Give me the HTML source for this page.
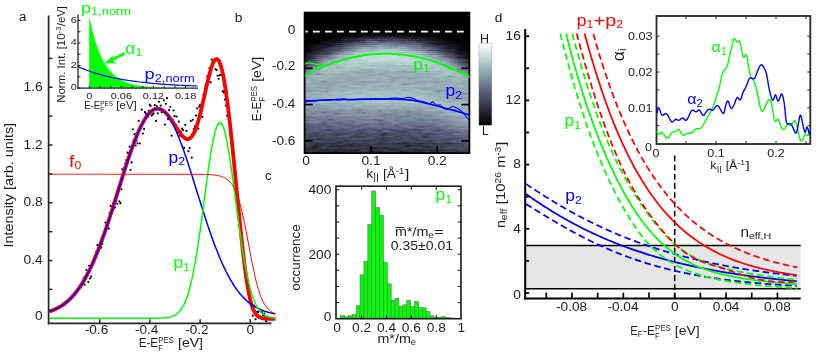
<!DOCTYPE html>
<html><head><meta charset="utf-8"><title>figure</title>
<style>html,body{margin:0;padding:0;background:#fff;overflow:hidden}svg{display:block}text{font-family:"Liberation Sans",sans-serif}</style></head>
<body>
<svg width="830" height="352" viewBox="0 0 830 352">
<rect width="830" height="352" fill="#fff"/>
<defs><linearGradient id="b0" x1="0" x2="1" y1="0" y2="0"><stop offset="0" stop-color="#000000"/><stop offset="0.06" stop-color="#000000"/><stop offset="0.12" stop-color="#000000"/><stop offset="0.19" stop-color="#000000"/><stop offset="0.25" stop-color="#000000"/><stop offset="0.31" stop-color="#000000"/><stop offset="0.38" stop-color="#000000"/><stop offset="0.44" stop-color="#000000"/><stop offset="0.5" stop-color="#000000"/><stop offset="0.56" stop-color="#000000"/><stop offset="0.62" stop-color="#000000"/><stop offset="0.69" stop-color="#000000"/><stop offset="0.75" stop-color="#000000"/><stop offset="0.81" stop-color="#000000"/><stop offset="0.88" stop-color="#000000"/><stop offset="0.94" stop-color="#000000"/><stop offset="1" stop-color="#000000"/></linearGradient>
<linearGradient id="b1" x1="0" x2="1" y1="0" y2="0"><stop offset="0" stop-color="#000000"/><stop offset="0.06" stop-color="#000000"/><stop offset="0.12" stop-color="#000000"/><stop offset="0.19" stop-color="#000000"/><stop offset="0.25" stop-color="#000000"/><stop offset="0.31" stop-color="#000000"/><stop offset="0.38" stop-color="#000000"/><stop offset="0.44" stop-color="#000000"/><stop offset="0.5" stop-color="#000000"/><stop offset="0.56" stop-color="#000000"/><stop offset="0.62" stop-color="#000000"/><stop offset="0.69" stop-color="#000000"/><stop offset="0.75" stop-color="#000000"/><stop offset="0.81" stop-color="#000000"/><stop offset="0.88" stop-color="#000000"/><stop offset="0.94" stop-color="#000000"/><stop offset="1" stop-color="#000000"/></linearGradient>
<linearGradient id="b2" x1="0" x2="1" y1="0" y2="0"><stop offset="0" stop-color="#000000"/><stop offset="0.06" stop-color="#000000"/><stop offset="0.12" stop-color="#000000"/><stop offset="0.19" stop-color="#000000"/><stop offset="0.25" stop-color="#000000"/><stop offset="0.31" stop-color="#000000"/><stop offset="0.38" stop-color="#000000"/><stop offset="0.44" stop-color="#000000"/><stop offset="0.5" stop-color="#000000"/><stop offset="0.56" stop-color="#000000"/><stop offset="0.62" stop-color="#000000"/><stop offset="0.69" stop-color="#000000"/><stop offset="0.75" stop-color="#000000"/><stop offset="0.81" stop-color="#000000"/><stop offset="0.88" stop-color="#000000"/><stop offset="0.94" stop-color="#000000"/><stop offset="1" stop-color="#000000"/></linearGradient>
<linearGradient id="b3" x1="0" x2="1" y1="0" y2="0"><stop offset="0" stop-color="#000000"/><stop offset="0.06" stop-color="#000000"/><stop offset="0.12" stop-color="#000000"/><stop offset="0.19" stop-color="#000000"/><stop offset="0.25" stop-color="#000000"/><stop offset="0.31" stop-color="#000000"/><stop offset="0.38" stop-color="#000000"/><stop offset="0.44" stop-color="#000000"/><stop offset="0.5" stop-color="#000000"/><stop offset="0.56" stop-color="#000000"/><stop offset="0.62" stop-color="#000000"/><stop offset="0.69" stop-color="#000000"/><stop offset="0.75" stop-color="#000000"/><stop offset="0.81" stop-color="#000000"/><stop offset="0.88" stop-color="#000000"/><stop offset="0.94" stop-color="#000000"/><stop offset="1" stop-color="#000000"/></linearGradient>
<linearGradient id="b4" x1="0" x2="1" y1="0" y2="0"><stop offset="0" stop-color="#000000"/><stop offset="0.06" stop-color="#000000"/><stop offset="0.12" stop-color="#000000"/><stop offset="0.19" stop-color="#000000"/><stop offset="0.25" stop-color="#000000"/><stop offset="0.31" stop-color="#000000"/><stop offset="0.38" stop-color="#000000"/><stop offset="0.44" stop-color="#000000"/><stop offset="0.5" stop-color="#000000"/><stop offset="0.56" stop-color="#000000"/><stop offset="0.62" stop-color="#000000"/><stop offset="0.69" stop-color="#000000"/><stop offset="0.75" stop-color="#000000"/><stop offset="0.81" stop-color="#000000"/><stop offset="0.88" stop-color="#000000"/><stop offset="0.94" stop-color="#000000"/><stop offset="1" stop-color="#000000"/></linearGradient>
<linearGradient id="b5" x1="0" x2="1" y1="0" y2="0"><stop offset="0" stop-color="#000000"/><stop offset="0.06" stop-color="#000000"/><stop offset="0.12" stop-color="#000000"/><stop offset="0.19" stop-color="#000000"/><stop offset="0.25" stop-color="#000000"/><stop offset="0.31" stop-color="#000000"/><stop offset="0.38" stop-color="#000000"/><stop offset="0.44" stop-color="#000000"/><stop offset="0.5" stop-color="#000000"/><stop offset="0.56" stop-color="#000000"/><stop offset="0.62" stop-color="#000000"/><stop offset="0.69" stop-color="#000000"/><stop offset="0.75" stop-color="#000000"/><stop offset="0.81" stop-color="#000000"/><stop offset="0.88" stop-color="#000000"/><stop offset="0.94" stop-color="#000000"/><stop offset="1" stop-color="#000000"/></linearGradient>
<linearGradient id="b6" x1="0" x2="1" y1="0" y2="0"><stop offset="0" stop-color="#000000"/><stop offset="0.06" stop-color="#000000"/><stop offset="0.12" stop-color="#000000"/><stop offset="0.19" stop-color="#000000"/><stop offset="0.25" stop-color="#000000"/><stop offset="0.31" stop-color="#000000"/><stop offset="0.38" stop-color="#000000"/><stop offset="0.44" stop-color="#000000"/><stop offset="0.5" stop-color="#000000"/><stop offset="0.56" stop-color="#000000"/><stop offset="0.62" stop-color="#000000"/><stop offset="0.69" stop-color="#000000"/><stop offset="0.75" stop-color="#000000"/><stop offset="0.81" stop-color="#000000"/><stop offset="0.88" stop-color="#000000"/><stop offset="0.94" stop-color="#000000"/><stop offset="1" stop-color="#000000"/></linearGradient>
<linearGradient id="b7" x1="0" x2="1" y1="0" y2="0"><stop offset="0" stop-color="#000000"/><stop offset="0.06" stop-color="#000000"/><stop offset="0.12" stop-color="#000000"/><stop offset="0.19" stop-color="#000000"/><stop offset="0.25" stop-color="#000000"/><stop offset="0.31" stop-color="#000000"/><stop offset="0.38" stop-color="#000000"/><stop offset="0.44" stop-color="#000000"/><stop offset="0.5" stop-color="#000000"/><stop offset="0.56" stop-color="#000000"/><stop offset="0.62" stop-color="#000000"/><stop offset="0.69" stop-color="#000000"/><stop offset="0.75" stop-color="#000000"/><stop offset="0.81" stop-color="#000000"/><stop offset="0.88" stop-color="#000000"/><stop offset="0.94" stop-color="#000000"/><stop offset="1" stop-color="#000000"/></linearGradient>
<linearGradient id="b8" x1="0" x2="1" y1="0" y2="0"><stop offset="0" stop-color="#000000"/><stop offset="0.06" stop-color="#000000"/><stop offset="0.12" stop-color="#000000"/><stop offset="0.19" stop-color="#000000"/><stop offset="0.25" stop-color="#000000"/><stop offset="0.31" stop-color="#000000"/><stop offset="0.38" stop-color="#000000"/><stop offset="0.44" stop-color="#000000"/><stop offset="0.5" stop-color="#000000"/><stop offset="0.56" stop-color="#000000"/><stop offset="0.62" stop-color="#000000"/><stop offset="0.69" stop-color="#000000"/><stop offset="0.75" stop-color="#000000"/><stop offset="0.81" stop-color="#000000"/><stop offset="0.88" stop-color="#000000"/><stop offset="0.94" stop-color="#000000"/><stop offset="1" stop-color="#000000"/></linearGradient>
<linearGradient id="b9" x1="0" x2="1" y1="0" y2="0"><stop offset="0" stop-color="#000000"/><stop offset="0.06" stop-color="#000000"/><stop offset="0.12" stop-color="#000000"/><stop offset="0.19" stop-color="#000000"/><stop offset="0.25" stop-color="#000001"/><stop offset="0.31" stop-color="#010101"/><stop offset="0.38" stop-color="#010102"/><stop offset="0.44" stop-color="#010102"/><stop offset="0.5" stop-color="#020202"/><stop offset="0.56" stop-color="#010102"/><stop offset="0.62" stop-color="#010102"/><stop offset="0.69" stop-color="#010101"/><stop offset="0.75" stop-color="#000001"/><stop offset="0.81" stop-color="#000000"/><stop offset="0.88" stop-color="#000000"/><stop offset="0.94" stop-color="#000000"/><stop offset="1" stop-color="#000000"/></linearGradient>
<linearGradient id="b10" x1="0" x2="1" y1="0" y2="0"><stop offset="0" stop-color="#000000"/><stop offset="0.06" stop-color="#000000"/><stop offset="0.12" stop-color="#000001"/><stop offset="0.19" stop-color="#010101"/><stop offset="0.25" stop-color="#020203"/><stop offset="0.31" stop-color="#030305"/><stop offset="0.38" stop-color="#050507"/><stop offset="0.44" stop-color="#060608"/><stop offset="0.5" stop-color="#060609"/><stop offset="0.56" stop-color="#060608"/><stop offset="0.62" stop-color="#050506"/><stop offset="0.69" stop-color="#030304"/><stop offset="0.75" stop-color="#020202"/><stop offset="0.81" stop-color="#010101"/><stop offset="0.88" stop-color="#000000"/><stop offset="0.94" stop-color="#000000"/><stop offset="1" stop-color="#000000"/></linearGradient>
<linearGradient id="b11" x1="0" x2="1" y1="0" y2="0"><stop offset="0" stop-color="#000000"/><stop offset="0.06" stop-color="#000001"/><stop offset="0.12" stop-color="#010102"/><stop offset="0.19" stop-color="#030304"/><stop offset="0.25" stop-color="#060609"/><stop offset="0.31" stop-color="#0b0b0f"/><stop offset="0.38" stop-color="#0f0f15"/><stop offset="0.44" stop-color="#13131a"/><stop offset="0.5" stop-color="#14141b"/><stop offset="0.56" stop-color="#121219"/><stop offset="0.62" stop-color="#0e0e14"/><stop offset="0.69" stop-color="#0a0a0e"/><stop offset="0.75" stop-color="#060608"/><stop offset="0.81" stop-color="#030304"/><stop offset="0.88" stop-color="#010101"/><stop offset="0.94" stop-color="#000000"/><stop offset="1" stop-color="#000000"/></linearGradient>
<linearGradient id="b12" x1="0" x2="1" y1="0" y2="0"><stop offset="0" stop-color="#000000"/><stop offset="0.06" stop-color="#000000"/><stop offset="0.12" stop-color="#000000"/><stop offset="0.19" stop-color="#020203"/><stop offset="0.25" stop-color="#0f0f15"/><stop offset="0.31" stop-color="#0e0e14"/><stop offset="0.38" stop-color="#1d1d28"/><stop offset="0.44" stop-color="#21212e"/><stop offset="0.5" stop-color="#262634"/><stop offset="0.56" stop-color="#1d1d28"/><stop offset="0.62" stop-color="#191923"/><stop offset="0.69" stop-color="#13131b"/><stop offset="0.75" stop-color="#0c0c11"/><stop offset="0.81" stop-color="#060608"/><stop offset="0.88" stop-color="#000000"/><stop offset="0.94" stop-color="#000000"/><stop offset="1" stop-color="#000000"/></linearGradient>
<linearGradient id="b13" x1="0" x2="1" y1="0" y2="0"><stop offset="0" stop-color="#000000"/><stop offset="0.06" stop-color="#010101"/><stop offset="0.12" stop-color="#030304"/><stop offset="0.19" stop-color="#08080c"/><stop offset="0.25" stop-color="#181821"/><stop offset="0.31" stop-color="#20202d"/><stop offset="0.38" stop-color="#323245"/><stop offset="0.44" stop-color="#393950"/><stop offset="0.5" stop-color="#3c3c53"/><stop offset="0.56" stop-color="#393950"/><stop offset="0.62" stop-color="#2f2f41"/><stop offset="0.69" stop-color="#21212e"/><stop offset="0.75" stop-color="#13131a"/><stop offset="0.81" stop-color="#0d0d12"/><stop offset="0.88" stop-color="#000000"/><stop offset="0.94" stop-color="#010101"/><stop offset="1" stop-color="#000000"/></linearGradient>
<linearGradient id="b14" x1="0" x2="1" y1="0" y2="0"><stop offset="0" stop-color="#020203"/><stop offset="0.06" stop-color="#000000"/><stop offset="0.12" stop-color="#0a0a0e"/><stop offset="0.19" stop-color="#0f0f15"/><stop offset="0.25" stop-color="#21212d"/><stop offset="0.31" stop-color="#36364b"/><stop offset="0.38" stop-color="#484865"/><stop offset="0.44" stop-color="#535473"/><stop offset="0.5" stop-color="#565876"/><stop offset="0.56" stop-color="#4f4f6d"/><stop offset="0.62" stop-color="#41415a"/><stop offset="0.69" stop-color="#333347"/><stop offset="0.75" stop-color="#20202c"/><stop offset="0.81" stop-color="#0d0d12"/><stop offset="0.88" stop-color="#08080c"/><stop offset="0.94" stop-color="#020203"/><stop offset="1" stop-color="#000000"/></linearGradient>
<linearGradient id="b15" x1="0" x2="1" y1="0" y2="0"><stop offset="0" stop-color="#000000"/><stop offset="0.06" stop-color="#030304"/><stop offset="0.12" stop-color="#0e0e13"/><stop offset="0.19" stop-color="#171720"/><stop offset="0.25" stop-color="#313144"/><stop offset="0.31" stop-color="#454560"/><stop offset="0.38" stop-color="#5e627d"/><stop offset="0.44" stop-color="#656d85"/><stop offset="0.5" stop-color="#6b758b"/><stop offset="0.56" stop-color="#626881"/><stop offset="0.62" stop-color="#585a77"/><stop offset="0.69" stop-color="#474763"/><stop offset="0.75" stop-color="#2e2e40"/><stop offset="0.81" stop-color="#13131b"/><stop offset="0.88" stop-color="#0d0d13"/><stop offset="0.94" stop-color="#070709"/><stop offset="1" stop-color="#010101"/></linearGradient>
<linearGradient id="b16" x1="0" x2="1" y1="0" y2="0"><stop offset="0" stop-color="#020203"/><stop offset="0.06" stop-color="#09090c"/><stop offset="0.12" stop-color="#171720"/><stop offset="0.19" stop-color="#2c2c3d"/><stop offset="0.25" stop-color="#464662"/><stop offset="0.31" stop-color="#5b5e7a"/><stop offset="0.38" stop-color="#6d778d"/><stop offset="0.44" stop-color="#7e8f9e"/><stop offset="0.5" stop-color="#7d8d9d"/><stop offset="0.56" stop-color="#7b8b9b"/><stop offset="0.62" stop-color="#6b758b"/><stop offset="0.69" stop-color="#5c607c"/><stop offset="0.75" stop-color="#41415a"/><stop offset="0.81" stop-color="#262634"/><stop offset="0.88" stop-color="#121219"/><stop offset="0.94" stop-color="#08080c"/><stop offset="1" stop-color="#040405"/></linearGradient>
<linearGradient id="b17" x1="0" x2="1" y1="0" y2="0"><stop offset="0" stop-color="#040406"/><stop offset="0.06" stop-color="#0b0b0f"/><stop offset="0.12" stop-color="#181821"/><stop offset="0.19" stop-color="#38384e"/><stop offset="0.25" stop-color="#535473"/><stop offset="0.31" stop-color="#727f92"/><stop offset="0.38" stop-color="#869aa6"/><stop offset="0.44" stop-color="#8ba1ab"/><stop offset="0.5" stop-color="#8ca2ac"/><stop offset="0.56" stop-color="#8fa7af"/><stop offset="0.62" stop-color="#7e8f9e"/><stop offset="0.69" stop-color="#6a748a"/><stop offset="0.75" stop-color="#4d4d6b"/><stop offset="0.81" stop-color="#2f2f41"/><stop offset="0.88" stop-color="#13131a"/><stop offset="0.94" stop-color="#08080b"/><stop offset="1" stop-color="#020202"/></linearGradient>
<linearGradient id="b18" x1="0" x2="1" y1="0" y2="0"><stop offset="0" stop-color="#000000"/><stop offset="0.06" stop-color="#0f0f15"/><stop offset="0.12" stop-color="#232330"/><stop offset="0.19" stop-color="#3d3d55"/><stop offset="0.25" stop-color="#626982"/><stop offset="0.31" stop-color="#8092a0"/><stop offset="0.38" stop-color="#95aeb5"/><stop offset="0.44" stop-color="#9db9bd"/><stop offset="0.5" stop-color="#a3c2c3"/><stop offset="0.56" stop-color="#9cb7bb"/><stop offset="0.62" stop-color="#8da4ad"/><stop offset="0.69" stop-color="#7a8a9a"/><stop offset="0.75" stop-color="#616781"/><stop offset="0.81" stop-color="#3b3b52"/><stop offset="0.88" stop-color="#20202c"/><stop offset="0.94" stop-color="#0e0e13"/><stop offset="1" stop-color="#050507"/></linearGradient>
<linearGradient id="b19" x1="0" x2="1" y1="0" y2="0"><stop offset="0" stop-color="#08080a"/><stop offset="0.06" stop-color="#15151d"/><stop offset="0.12" stop-color="#2f2f41"/><stop offset="0.19" stop-color="#545574"/><stop offset="0.25" stop-color="#758295"/><stop offset="0.31" stop-color="#92aab2"/><stop offset="0.38" stop-color="#a1bfc1"/><stop offset="0.44" stop-color="#a9c8c8"/><stop offset="0.5" stop-color="#b3cece"/><stop offset="0.56" stop-color="#afcccc"/><stop offset="0.62" stop-color="#a0bec0"/><stop offset="0.69" stop-color="#93acb3"/><stop offset="0.75" stop-color="#778596"/><stop offset="0.81" stop-color="#535373"/><stop offset="0.88" stop-color="#2a2a3a"/><stop offset="0.94" stop-color="#0e0e14"/><stop offset="1" stop-color="#08080c"/></linearGradient>
<linearGradient id="b20" x1="0" x2="1" y1="0" y2="0"><stop offset="0" stop-color="#0b0b0f"/><stop offset="0.06" stop-color="#1c1c28"/><stop offset="0.12" stop-color="#41415a"/><stop offset="0.19" stop-color="#656d85"/><stop offset="0.25" stop-color="#8a9faa"/><stop offset="0.31" stop-color="#9db9bd"/><stop offset="0.38" stop-color="#a7c7c7"/><stop offset="0.44" stop-color="#b8d2d2"/><stop offset="0.5" stop-color="#c3d8d8"/><stop offset="0.56" stop-color="#b2cece"/><stop offset="0.62" stop-color="#b2cdcd"/><stop offset="0.69" stop-color="#9bb6ba"/><stop offset="0.75" stop-color="#8395a3"/><stop offset="0.81" stop-color="#616680"/><stop offset="0.88" stop-color="#38384e"/><stop offset="0.94" stop-color="#15151d"/><stop offset="1" stop-color="#08080b"/></linearGradient>
<linearGradient id="b21" x1="0" x2="1" y1="0" y2="0"><stop offset="0" stop-color="#101016"/><stop offset="0.06" stop-color="#242432"/><stop offset="0.12" stop-color="#535373"/><stop offset="0.19" stop-color="#7d8d9d"/><stop offset="0.25" stop-color="#9dbabd"/><stop offset="0.31" stop-color="#a6c6c6"/><stop offset="0.38" stop-color="#bcd4d4"/><stop offset="0.44" stop-color="#b9d2d2"/><stop offset="0.5" stop-color="#c4d9d9"/><stop offset="0.56" stop-color="#c2d8d8"/><stop offset="0.62" stop-color="#b4cfcf"/><stop offset="0.69" stop-color="#a3c2c3"/><stop offset="0.75" stop-color="#94adb4"/><stop offset="0.81" stop-color="#758294"/><stop offset="0.88" stop-color="#464661"/><stop offset="0.94" stop-color="#20202d"/><stop offset="1" stop-color="#040406"/></linearGradient>
<linearGradient id="b22" x1="0" x2="1" y1="0" y2="0"><stop offset="0" stop-color="#111117"/><stop offset="0.06" stop-color="#313144"/><stop offset="0.12" stop-color="#626882"/><stop offset="0.19" stop-color="#8294a2"/><stop offset="0.25" stop-color="#99b4b9"/><stop offset="0.31" stop-color="#b2cece"/><stop offset="0.38" stop-color="#b7d1d1"/><stop offset="0.44" stop-color="#bed5d5"/><stop offset="0.5" stop-color="#c0d7d7"/><stop offset="0.56" stop-color="#bfd6d6"/><stop offset="0.62" stop-color="#bfd6d6"/><stop offset="0.69" stop-color="#b4cfcf"/><stop offset="0.75" stop-color="#98b3b8"/><stop offset="0.81" stop-color="#8192a1"/><stop offset="0.88" stop-color="#5d617c"/><stop offset="0.94" stop-color="#292939"/><stop offset="1" stop-color="#101016"/></linearGradient>
<linearGradient id="b23" x1="0" x2="1" y1="0" y2="0"><stop offset="0" stop-color="#181822"/><stop offset="0.06" stop-color="#454560"/><stop offset="0.12" stop-color="#737f92"/><stop offset="0.19" stop-color="#92abb2"/><stop offset="0.25" stop-color="#abc9c9"/><stop offset="0.31" stop-color="#b0cccc"/><stop offset="0.38" stop-color="#b6d0d0"/><stop offset="0.44" stop-color="#bdd5d5"/><stop offset="0.5" stop-color="#b9d2d2"/><stop offset="0.56" stop-color="#b5d0d0"/><stop offset="0.62" stop-color="#bbd4d4"/><stop offset="0.69" stop-color="#b6d1d1"/><stop offset="0.75" stop-color="#abc9c9"/><stop offset="0.81" stop-color="#93abb3"/><stop offset="0.88" stop-color="#6a7389"/><stop offset="0.94" stop-color="#39394f"/><stop offset="1" stop-color="#15151d"/></linearGradient>
<linearGradient id="b24" x1="0" x2="1" y1="0" y2="0"><stop offset="0" stop-color="#272736"/><stop offset="0.06" stop-color="#555775"/><stop offset="0.12" stop-color="#8294a2"/><stop offset="0.19" stop-color="#9db9bc"/><stop offset="0.25" stop-color="#aac8c8"/><stop offset="0.31" stop-color="#b5d0d0"/><stop offset="0.38" stop-color="#b0cccc"/><stop offset="0.44" stop-color="#b0cdcd"/><stop offset="0.5" stop-color="#a8c7c7"/><stop offset="0.56" stop-color="#aecbcb"/><stop offset="0.62" stop-color="#b8d2d2"/><stop offset="0.69" stop-color="#aecbcb"/><stop offset="0.75" stop-color="#a6c5c6"/><stop offset="0.81" stop-color="#9ab5ba"/><stop offset="0.88" stop-color="#7f909f"/><stop offset="0.94" stop-color="#4e4e6d"/><stop offset="1" stop-color="#1d1d28"/></linearGradient>
<linearGradient id="b25" x1="0" x2="1" y1="0" y2="0"><stop offset="0" stop-color="#2f2f41"/><stop offset="0.06" stop-color="#5f647e"/><stop offset="0.12" stop-color="#8a9faa"/><stop offset="0.19" stop-color="#9fbcbf"/><stop offset="0.25" stop-color="#a4c3c4"/><stop offset="0.31" stop-color="#a7c7c7"/><stop offset="0.38" stop-color="#a6c6c6"/><stop offset="0.44" stop-color="#a2c1c2"/><stop offset="0.5" stop-color="#a1bfc1"/><stop offset="0.56" stop-color="#a8c7c7"/><stop offset="0.62" stop-color="#b0cccc"/><stop offset="0.69" stop-color="#aac9c9"/><stop offset="0.75" stop-color="#a9c8c8"/><stop offset="0.81" stop-color="#a2c0c2"/><stop offset="0.88" stop-color="#879ba7"/><stop offset="0.94" stop-color="#595b79"/><stop offset="1" stop-color="#2c2c3d"/></linearGradient>
<linearGradient id="b26" x1="0" x2="1" y1="0" y2="0"><stop offset="0" stop-color="#3a3a51"/><stop offset="0.06" stop-color="#6d788d"/><stop offset="0.12" stop-color="#8fa6af"/><stop offset="0.19" stop-color="#a0bdc0"/><stop offset="0.25" stop-color="#a5c4c5"/><stop offset="0.31" stop-color="#a5c5c5"/><stop offset="0.38" stop-color="#a1bec0"/><stop offset="0.44" stop-color="#9db9bd"/><stop offset="0.5" stop-color="#99b3b9"/><stop offset="0.56" stop-color="#9db9bd"/><stop offset="0.62" stop-color="#9db9bd"/><stop offset="0.69" stop-color="#a3c1c3"/><stop offset="0.75" stop-color="#a9c8c8"/><stop offset="0.81" stop-color="#a3c1c3"/><stop offset="0.88" stop-color="#90a8b0"/><stop offset="0.94" stop-color="#687188"/><stop offset="1" stop-color="#35354a"/></linearGradient>
<linearGradient id="b27" x1="0" x2="1" y1="0" y2="0"><stop offset="0" stop-color="#4c4c6a"/><stop offset="0.06" stop-color="#7d8e9d"/><stop offset="0.12" stop-color="#9cb7bc"/><stop offset="0.19" stop-color="#9db9bd"/><stop offset="0.25" stop-color="#9fbdbf"/><stop offset="0.31" stop-color="#9bb6bb"/><stop offset="0.38" stop-color="#9fbdbf"/><stop offset="0.44" stop-color="#9bb7bb"/><stop offset="0.5" stop-color="#9ab5ba"/><stop offset="0.56" stop-color="#9bb6bb"/><stop offset="0.62" stop-color="#9db9bc"/><stop offset="0.69" stop-color="#a0bec0"/><stop offset="0.75" stop-color="#9fbcbf"/><stop offset="0.81" stop-color="#a5c4c5"/><stop offset="0.88" stop-color="#9cb8bc"/><stop offset="0.94" stop-color="#788697"/><stop offset="1" stop-color="#494966"/></linearGradient>
<linearGradient id="b28" x1="0" x2="1" y1="0" y2="0"><stop offset="0" stop-color="#5b5f7b"/><stop offset="0.06" stop-color="#899da9"/><stop offset="0.12" stop-color="#9bb7bb"/><stop offset="0.19" stop-color="#9ebabe"/><stop offset="0.25" stop-color="#9dbabd"/><stop offset="0.31" stop-color="#96b0b6"/><stop offset="0.38" stop-color="#97b1b7"/><stop offset="0.44" stop-color="#97b1b6"/><stop offset="0.5" stop-color="#98b2b7"/><stop offset="0.56" stop-color="#96b0b6"/><stop offset="0.62" stop-color="#97b1b7"/><stop offset="0.69" stop-color="#9db9bd"/><stop offset="0.75" stop-color="#9ab5ba"/><stop offset="0.81" stop-color="#a5c5c5"/><stop offset="0.88" stop-color="#9ebbbe"/><stop offset="0.94" stop-color="#8599a5"/><stop offset="1" stop-color="#585a78"/></linearGradient>
<linearGradient id="b29" x1="0" x2="1" y1="0" y2="0"><stop offset="0" stop-color="#636983"/><stop offset="0.06" stop-color="#8a9faa"/><stop offset="0.12" stop-color="#94acb4"/><stop offset="0.19" stop-color="#97b1b7"/><stop offset="0.25" stop-color="#8fa6af"/><stop offset="0.31" stop-color="#8ca2ac"/><stop offset="0.38" stop-color="#8ba1ab"/><stop offset="0.44" stop-color="#92aab2"/><stop offset="0.5" stop-color="#8da3ad"/><stop offset="0.56" stop-color="#8ca1ac"/><stop offset="0.62" stop-color="#8ca2ac"/><stop offset="0.69" stop-color="#8ea4ae"/><stop offset="0.75" stop-color="#94adb4"/><stop offset="0.81" stop-color="#9ab6ba"/><stop offset="0.88" stop-color="#9db9bd"/><stop offset="0.94" stop-color="#8fa6af"/><stop offset="1" stop-color="#646b84"/></linearGradient>
<linearGradient id="b30" x1="0" x2="1" y1="0" y2="0"><stop offset="0" stop-color="#758294"/><stop offset="0.06" stop-color="#8aa0aa"/><stop offset="0.12" stop-color="#93abb3"/><stop offset="0.19" stop-color="#94adb4"/><stop offset="0.25" stop-color="#8fa6af"/><stop offset="0.31" stop-color="#90a7b0"/><stop offset="0.38" stop-color="#8ba0aa"/><stop offset="0.44" stop-color="#90a8b0"/><stop offset="0.5" stop-color="#8ea5ae"/><stop offset="0.56" stop-color="#8ea4ae"/><stop offset="0.62" stop-color="#8fa7af"/><stop offset="0.69" stop-color="#8a9faa"/><stop offset="0.75" stop-color="#91a9b1"/><stop offset="0.81" stop-color="#95aeb5"/><stop offset="0.88" stop-color="#9fbdbf"/><stop offset="0.94" stop-color="#93acb3"/><stop offset="1" stop-color="#737f92"/></linearGradient>
<linearGradient id="b31" x1="0" x2="1" y1="0" y2="0"><stop offset="0" stop-color="#8092a0"/><stop offset="0.06" stop-color="#98b3b8"/><stop offset="0.12" stop-color="#93acb3"/><stop offset="0.19" stop-color="#92aab2"/><stop offset="0.25" stop-color="#8ea4ad"/><stop offset="0.31" stop-color="#92aab2"/><stop offset="0.38" stop-color="#8a9faa"/><stop offset="0.44" stop-color="#92aab1"/><stop offset="0.5" stop-color="#8ea4ad"/><stop offset="0.56" stop-color="#90a7b0"/><stop offset="0.62" stop-color="#8da3ad"/><stop offset="0.69" stop-color="#91a9b1"/><stop offset="0.75" stop-color="#93acb3"/><stop offset="0.81" stop-color="#98b2b8"/><stop offset="0.88" stop-color="#9bb7bb"/><stop offset="0.94" stop-color="#9bb6ba"/><stop offset="1" stop-color="#8599a5"/></linearGradient>
<linearGradient id="b32" x1="0" x2="1" y1="0" y2="0"><stop offset="0" stop-color="#8396a3"/><stop offset="0.06" stop-color="#8da3ad"/><stop offset="0.12" stop-color="#90a8b0"/><stop offset="0.19" stop-color="#8ba0ab"/><stop offset="0.25" stop-color="#8ea5ae"/><stop offset="0.31" stop-color="#8ca2ac"/><stop offset="0.38" stop-color="#8a9faa"/><stop offset="0.44" stop-color="#8fa6af"/><stop offset="0.5" stop-color="#92aab2"/><stop offset="0.56" stop-color="#8ca2ac"/><stop offset="0.62" stop-color="#8a9faa"/><stop offset="0.69" stop-color="#8a9faa"/><stop offset="0.75" stop-color="#90a7b0"/><stop offset="0.81" stop-color="#8ea5ae"/><stop offset="0.88" stop-color="#93abb3"/><stop offset="0.94" stop-color="#98b2b7"/><stop offset="1" stop-color="#889ca8"/></linearGradient>
<linearGradient id="b33" x1="0" x2="1" y1="0" y2="0"><stop offset="0" stop-color="#899ea9"/><stop offset="0.06" stop-color="#8da3ad"/><stop offset="0.12" stop-color="#8da3ac"/><stop offset="0.19" stop-color="#8ba1ab"/><stop offset="0.25" stop-color="#8da3ac"/><stop offset="0.31" stop-color="#8ba1ab"/><stop offset="0.38" stop-color="#8ea5ae"/><stop offset="0.44" stop-color="#8fa6af"/><stop offset="0.5" stop-color="#8ea4ae"/><stop offset="0.56" stop-color="#8fa6af"/><stop offset="0.62" stop-color="#90a7b0"/><stop offset="0.69" stop-color="#8da4ad"/><stop offset="0.75" stop-color="#8da3ad"/><stop offset="0.81" stop-color="#8ca1ac"/><stop offset="0.88" stop-color="#92abb2"/><stop offset="0.94" stop-color="#95aeb5"/><stop offset="1" stop-color="#8da4ad"/></linearGradient>
<linearGradient id="b34" x1="0" x2="1" y1="0" y2="0"><stop offset="0" stop-color="#8aa0aa"/><stop offset="0.06" stop-color="#91a8b0"/><stop offset="0.12" stop-color="#899da9"/><stop offset="0.19" stop-color="#889ca7"/><stop offset="0.25" stop-color="#8a9faa"/><stop offset="0.31" stop-color="#899da9"/><stop offset="0.38" stop-color="#8ca1ac"/><stop offset="0.44" stop-color="#8a9faa"/><stop offset="0.5" stop-color="#8a9faa"/><stop offset="0.56" stop-color="#8ca2ac"/><stop offset="0.62" stop-color="#8ca1ab"/><stop offset="0.69" stop-color="#8a9faa"/><stop offset="0.75" stop-color="#889ca8"/><stop offset="0.81" stop-color="#8ba1ab"/><stop offset="0.88" stop-color="#8a9fa9"/><stop offset="0.94" stop-color="#92aab2"/><stop offset="1" stop-color="#8da4ad"/></linearGradient>
<linearGradient id="b35" x1="0" x2="1" y1="0" y2="0"><stop offset="0" stop-color="#8ca2ac"/><stop offset="0.06" stop-color="#8ba0aa"/><stop offset="0.12" stop-color="#8598a4"/><stop offset="0.19" stop-color="#889da8"/><stop offset="0.25" stop-color="#8ca2ac"/><stop offset="0.31" stop-color="#8a9faa"/><stop offset="0.38" stop-color="#889ca8"/><stop offset="0.44" stop-color="#8ea5ae"/><stop offset="0.5" stop-color="#8ea5ae"/><stop offset="0.56" stop-color="#8fa7af"/><stop offset="0.62" stop-color="#8ea4ad"/><stop offset="0.69" stop-color="#8da3ad"/><stop offset="0.75" stop-color="#8ca2ac"/><stop offset="0.81" stop-color="#8fa6af"/><stop offset="0.88" stop-color="#8da4ad"/><stop offset="0.94" stop-color="#90a8b0"/><stop offset="1" stop-color="#8fa6af"/></linearGradient>
<linearGradient id="b36" x1="0" x2="1" y1="0" y2="0"><stop offset="0" stop-color="#8ba0ab"/><stop offset="0.06" stop-color="#8ca2ac"/><stop offset="0.12" stop-color="#8598a5"/><stop offset="0.19" stop-color="#8da3ad"/><stop offset="0.25" stop-color="#8ea5ae"/><stop offset="0.31" stop-color="#90a7af"/><stop offset="0.38" stop-color="#96afb6"/><stop offset="0.44" stop-color="#94adb4"/><stop offset="0.5" stop-color="#92abb2"/><stop offset="0.56" stop-color="#91a9b1"/><stop offset="0.62" stop-color="#96b0b6"/><stop offset="0.69" stop-color="#92aab2"/><stop offset="0.75" stop-color="#90a7b0"/><stop offset="0.81" stop-color="#8ba1ab"/><stop offset="0.88" stop-color="#91a8b0"/><stop offset="0.94" stop-color="#90a8b0"/><stop offset="1" stop-color="#91a8b0"/></linearGradient>
<linearGradient id="b37" x1="0" x2="1" y1="0" y2="0"><stop offset="0" stop-color="#8396a3"/><stop offset="0.06" stop-color="#899ea9"/><stop offset="0.12" stop-color="#8699a6"/><stop offset="0.19" stop-color="#8ea4ad"/><stop offset="0.25" stop-color="#8da3ad"/><stop offset="0.31" stop-color="#8fa6af"/><stop offset="0.38" stop-color="#93acb3"/><stop offset="0.44" stop-color="#93acb3"/><stop offset="0.5" stop-color="#90a7af"/><stop offset="0.56" stop-color="#92aab2"/><stop offset="0.62" stop-color="#92aab2"/><stop offset="0.69" stop-color="#8ea4ae"/><stop offset="0.75" stop-color="#899da8"/><stop offset="0.81" stop-color="#8a9faa"/><stop offset="0.88" stop-color="#879ba7"/><stop offset="0.94" stop-color="#899da9"/><stop offset="1" stop-color="#8da3ad"/></linearGradient>
<linearGradient id="b38" x1="0" x2="1" y1="0" y2="0"><stop offset="0" stop-color="#879ba7"/><stop offset="0.06" stop-color="#8497a4"/><stop offset="0.12" stop-color="#8ca2ac"/><stop offset="0.19" stop-color="#8ea4ae"/><stop offset="0.25" stop-color="#90a8b0"/><stop offset="0.31" stop-color="#94adb4"/><stop offset="0.38" stop-color="#9bb6bb"/><stop offset="0.44" stop-color="#93abb3"/><stop offset="0.5" stop-color="#92aab2"/><stop offset="0.56" stop-color="#97b2b7"/><stop offset="0.62" stop-color="#91a9b1"/><stop offset="0.69" stop-color="#94adb4"/><stop offset="0.75" stop-color="#8ba1ab"/><stop offset="0.81" stop-color="#8a9faa"/><stop offset="0.88" stop-color="#8ca1ab"/><stop offset="0.94" stop-color="#8ba1ab"/><stop offset="1" stop-color="#8ca2ac"/></linearGradient>
<linearGradient id="b39" x1="0" x2="1" y1="0" y2="0"><stop offset="0" stop-color="#8a9faa"/><stop offset="0.06" stop-color="#8ba1ab"/><stop offset="0.12" stop-color="#8fa6af"/><stop offset="0.19" stop-color="#96b0b6"/><stop offset="0.25" stop-color="#98b3b8"/><stop offset="0.31" stop-color="#99b4b9"/><stop offset="0.38" stop-color="#9bb7bb"/><stop offset="0.44" stop-color="#9dbabd"/><stop offset="0.5" stop-color="#9ebbbe"/><stop offset="0.56" stop-color="#9ab5ba"/><stop offset="0.62" stop-color="#98b3b8"/><stop offset="0.69" stop-color="#96b0b6"/><stop offset="0.75" stop-color="#98b3b8"/><stop offset="0.81" stop-color="#8ea5ae"/><stop offset="0.88" stop-color="#8ea5ae"/><stop offset="0.94" stop-color="#8599a5"/><stop offset="1" stop-color="#8ca2ac"/></linearGradient>
<linearGradient id="b40" x1="0" x2="1" y1="0" y2="0"><stop offset="0" stop-color="#8699a5"/><stop offset="0.06" stop-color="#8a9faa"/><stop offset="0.12" stop-color="#8fa6af"/><stop offset="0.19" stop-color="#93acb3"/><stop offset="0.25" stop-color="#97b1b7"/><stop offset="0.31" stop-color="#99b4b9"/><stop offset="0.38" stop-color="#99b4b9"/><stop offset="0.44" stop-color="#a2c0c2"/><stop offset="0.5" stop-color="#9cb8bc"/><stop offset="0.56" stop-color="#9cb8bc"/><stop offset="0.62" stop-color="#9ebabd"/><stop offset="0.69" stop-color="#97b2b7"/><stop offset="0.75" stop-color="#92aab2"/><stop offset="0.81" stop-color="#8da3ac"/><stop offset="0.88" stop-color="#8da3ac"/><stop offset="0.94" stop-color="#8294a2"/><stop offset="1" stop-color="#8294a2"/></linearGradient>
<linearGradient id="b41" x1="0" x2="1" y1="0" y2="0"><stop offset="0" stop-color="#8a9fa9"/><stop offset="0.06" stop-color="#90a8b0"/><stop offset="0.12" stop-color="#99b4b9"/><stop offset="0.19" stop-color="#98b3b8"/><stop offset="0.25" stop-color="#9db9bd"/><stop offset="0.31" stop-color="#a1bfc1"/><stop offset="0.38" stop-color="#9dbabd"/><stop offset="0.44" stop-color="#a2c0c2"/><stop offset="0.5" stop-color="#9fbdbf"/><stop offset="0.56" stop-color="#9ebabe"/><stop offset="0.62" stop-color="#9ebbbe"/><stop offset="0.69" stop-color="#9cb8bc"/><stop offset="0.75" stop-color="#97b1b7"/><stop offset="0.81" stop-color="#90a8b0"/><stop offset="0.88" stop-color="#8fa7af"/><stop offset="0.94" stop-color="#8ca2ac"/><stop offset="1" stop-color="#899da9"/></linearGradient>
<linearGradient id="b42" x1="0" x2="1" y1="0" y2="0"><stop offset="0" stop-color="#8ea5ae"/><stop offset="0.06" stop-color="#92abb2"/><stop offset="0.12" stop-color="#95aeb5"/><stop offset="0.19" stop-color="#9bb7bb"/><stop offset="0.25" stop-color="#a0bdc0"/><stop offset="0.31" stop-color="#a2c1c2"/><stop offset="0.38" stop-color="#a1bfc1"/><stop offset="0.44" stop-color="#a0bec0"/><stop offset="0.5" stop-color="#a2c0c2"/><stop offset="0.56" stop-color="#a2c0c2"/><stop offset="0.62" stop-color="#a2c1c2"/><stop offset="0.69" stop-color="#a3c1c3"/><stop offset="0.75" stop-color="#99b4b9"/><stop offset="0.81" stop-color="#9bb7bb"/><stop offset="0.88" stop-color="#899ea9"/><stop offset="0.94" stop-color="#8598a5"/><stop offset="1" stop-color="#8295a2"/></linearGradient>
<linearGradient id="b43" x1="0" x2="1" y1="0" y2="0"><stop offset="0" stop-color="#90a7b0"/><stop offset="0.06" stop-color="#99b4b9"/><stop offset="0.12" stop-color="#95aeb4"/><stop offset="0.19" stop-color="#9cb8bc"/><stop offset="0.25" stop-color="#9ab5ba"/><stop offset="0.31" stop-color="#9dbabd"/><stop offset="0.38" stop-color="#9bb7bb"/><stop offset="0.44" stop-color="#a4c3c4"/><stop offset="0.5" stop-color="#9ebbbe"/><stop offset="0.56" stop-color="#9db9bd"/><stop offset="0.62" stop-color="#a5c4c5"/><stop offset="0.69" stop-color="#9fbcbf"/><stop offset="0.75" stop-color="#9db9bd"/><stop offset="0.81" stop-color="#97b1b7"/><stop offset="0.88" stop-color="#8ea5ae"/><stop offset="0.94" stop-color="#8699a6"/><stop offset="1" stop-color="#8497a4"/></linearGradient>
<linearGradient id="b44" x1="0" x2="1" y1="0" y2="0"><stop offset="0" stop-color="#97b1b7"/><stop offset="0.06" stop-color="#97b2b7"/><stop offset="0.12" stop-color="#9cb8bc"/><stop offset="0.19" stop-color="#98b3b8"/><stop offset="0.25" stop-color="#a0bec0"/><stop offset="0.31" stop-color="#9ebbbe"/><stop offset="0.38" stop-color="#9dbabd"/><stop offset="0.44" stop-color="#a1bfc1"/><stop offset="0.5" stop-color="#a1bfc1"/><stop offset="0.56" stop-color="#9fbcbf"/><stop offset="0.62" stop-color="#a2c0c1"/><stop offset="0.69" stop-color="#a4c3c4"/><stop offset="0.75" stop-color="#a6c6c6"/><stop offset="0.81" stop-color="#9ebbbe"/><stop offset="0.88" stop-color="#93acb3"/><stop offset="0.94" stop-color="#98b2b8"/><stop offset="1" stop-color="#8ba1ab"/></linearGradient>
<linearGradient id="b45" x1="0" x2="1" y1="0" y2="0"><stop offset="0" stop-color="#8fa6af"/><stop offset="0.06" stop-color="#8da4ad"/><stop offset="0.12" stop-color="#92aab2"/><stop offset="0.19" stop-color="#8ea4ae"/><stop offset="0.25" stop-color="#92aab2"/><stop offset="0.31" stop-color="#91a9b1"/><stop offset="0.38" stop-color="#99b4b9"/><stop offset="0.44" stop-color="#94adb4"/><stop offset="0.5" stop-color="#98b2b8"/><stop offset="0.56" stop-color="#99b4b9"/><stop offset="0.62" stop-color="#94adb4"/><stop offset="0.69" stop-color="#98b3b8"/><stop offset="0.75" stop-color="#9db9bd"/><stop offset="0.81" stop-color="#9ebabd"/><stop offset="0.88" stop-color="#99b4b9"/><stop offset="0.94" stop-color="#94adb4"/><stop offset="1" stop-color="#8ca2ac"/></linearGradient>
<linearGradient id="b46" x1="0" x2="1" y1="0" y2="0"><stop offset="0" stop-color="#889ca7"/><stop offset="0.06" stop-color="#8aa0aa"/><stop offset="0.12" stop-color="#8a9faa"/><stop offset="0.19" stop-color="#8ba1ab"/><stop offset="0.25" stop-color="#899ea9"/><stop offset="0.31" stop-color="#92abb2"/><stop offset="0.38" stop-color="#8ea5ae"/><stop offset="0.44" stop-color="#8fa7af"/><stop offset="0.5" stop-color="#8fa6af"/><stop offset="0.56" stop-color="#8fa7af"/><stop offset="0.62" stop-color="#91a9b1"/><stop offset="0.69" stop-color="#90a8b0"/><stop offset="0.75" stop-color="#97b1b7"/><stop offset="0.81" stop-color="#9ebbbe"/><stop offset="0.88" stop-color="#9cb8bc"/><stop offset="0.94" stop-color="#97b1b7"/><stop offset="1" stop-color="#8da4ad"/></linearGradient>
<linearGradient id="b47" x1="0" x2="1" y1="0" y2="0"><stop offset="0" stop-color="#899da8"/><stop offset="0.06" stop-color="#8295a2"/><stop offset="0.12" stop-color="#8599a5"/><stop offset="0.19" stop-color="#899da8"/><stop offset="0.25" stop-color="#889da8"/><stop offset="0.31" stop-color="#869aa6"/><stop offset="0.38" stop-color="#879ba7"/><stop offset="0.44" stop-color="#8ea5ae"/><stop offset="0.5" stop-color="#879ca7"/><stop offset="0.56" stop-color="#8aa0aa"/><stop offset="0.62" stop-color="#8da3ad"/><stop offset="0.69" stop-color="#8ea4ad"/><stop offset="0.75" stop-color="#8da3ad"/><stop offset="0.81" stop-color="#93acb3"/><stop offset="0.88" stop-color="#9cb8bc"/><stop offset="0.94" stop-color="#98b2b7"/><stop offset="1" stop-color="#90a8b0"/></linearGradient>
<linearGradient id="b48" x1="0" x2="1" y1="0" y2="0"><stop offset="0" stop-color="#7e8f9e"/><stop offset="0.06" stop-color="#7a899a"/><stop offset="0.12" stop-color="#798899"/><stop offset="0.19" stop-color="#8294a1"/><stop offset="0.25" stop-color="#7f909f"/><stop offset="0.31" stop-color="#7f909f"/><stop offset="0.38" stop-color="#7e8f9e"/><stop offset="0.44" stop-color="#8598a5"/><stop offset="0.5" stop-color="#8092a0"/><stop offset="0.56" stop-color="#8193a1"/><stop offset="0.62" stop-color="#869aa6"/><stop offset="0.69" stop-color="#869aa6"/><stop offset="0.75" stop-color="#8ca1ab"/><stop offset="0.81" stop-color="#8fa6af"/><stop offset="0.88" stop-color="#92aab1"/><stop offset="0.94" stop-color="#99b4b9"/><stop offset="1" stop-color="#94adb4"/></linearGradient>
<linearGradient id="b49" x1="0" x2="1" y1="0" y2="0"><stop offset="0" stop-color="#788798"/><stop offset="0.06" stop-color="#778596"/><stop offset="0.12" stop-color="#737f93"/><stop offset="0.19" stop-color="#798899"/><stop offset="0.25" stop-color="#798799"/><stop offset="0.31" stop-color="#798999"/><stop offset="0.38" stop-color="#7f909f"/><stop offset="0.44" stop-color="#778697"/><stop offset="0.5" stop-color="#7f909f"/><stop offset="0.56" stop-color="#7f909f"/><stop offset="0.62" stop-color="#778597"/><stop offset="0.69" stop-color="#7d8d9c"/><stop offset="0.75" stop-color="#8092a0"/><stop offset="0.81" stop-color="#879ca7"/><stop offset="0.88" stop-color="#91a9b1"/><stop offset="0.94" stop-color="#96b0b6"/><stop offset="1" stop-color="#97b0b6"/></linearGradient>
<linearGradient id="b50" x1="0" x2="1" y1="0" y2="0"><stop offset="0" stop-color="#6b748b"/><stop offset="0.06" stop-color="#748094"/><stop offset="0.12" stop-color="#737f93"/><stop offset="0.19" stop-color="#707c90"/><stop offset="0.25" stop-color="#778496"/><stop offset="0.31" stop-color="#7b8b9b"/><stop offset="0.38" stop-color="#737f93"/><stop offset="0.44" stop-color="#768496"/><stop offset="0.5" stop-color="#768396"/><stop offset="0.56" stop-color="#798798"/><stop offset="0.62" stop-color="#768496"/><stop offset="0.69" stop-color="#748194"/><stop offset="0.75" stop-color="#7e8e9e"/><stop offset="0.81" stop-color="#8294a2"/><stop offset="0.88" stop-color="#8fa6af"/><stop offset="0.94" stop-color="#9ab6ba"/><stop offset="1" stop-color="#96b0b6"/></linearGradient>
<linearGradient id="b51" x1="0" x2="1" y1="0" y2="0"><stop offset="0" stop-color="#6e798e"/><stop offset="0.06" stop-color="#6c768c"/><stop offset="0.12" stop-color="#6d788d"/><stop offset="0.19" stop-color="#6e788e"/><stop offset="0.25" stop-color="#778597"/><stop offset="0.31" stop-color="#737f93"/><stop offset="0.38" stop-color="#738093"/><stop offset="0.44" stop-color="#737f93"/><stop offset="0.5" stop-color="#748093"/><stop offset="0.56" stop-color="#6e798e"/><stop offset="0.62" stop-color="#727e91"/><stop offset="0.69" stop-color="#748194"/><stop offset="0.75" stop-color="#727e91"/><stop offset="0.81" stop-color="#7c8d9c"/><stop offset="0.88" stop-color="#8599a5"/><stop offset="0.94" stop-color="#8ea4ae"/><stop offset="1" stop-color="#9cb9bc"/></linearGradient>
<linearGradient id="b52" x1="0" x2="1" y1="0" y2="0"><stop offset="0" stop-color="#6b748b"/><stop offset="0.06" stop-color="#677087"/><stop offset="0.12" stop-color="#697289"/><stop offset="0.19" stop-color="#6a738a"/><stop offset="0.25" stop-color="#6c778c"/><stop offset="0.31" stop-color="#6f7a8f"/><stop offset="0.38" stop-color="#768496"/><stop offset="0.44" stop-color="#738093"/><stop offset="0.5" stop-color="#748194"/><stop offset="0.56" stop-color="#738093"/><stop offset="0.62" stop-color="#778597"/><stop offset="0.69" stop-color="#6d788d"/><stop offset="0.75" stop-color="#6e798e"/><stop offset="0.81" stop-color="#7a8999"/><stop offset="0.88" stop-color="#8294a2"/><stop offset="0.94" stop-color="#8ca1ab"/><stop offset="1" stop-color="#92abb2"/></linearGradient>
<linearGradient id="b53" x1="0" x2="1" y1="0" y2="0"><stop offset="0" stop-color="#697289"/><stop offset="0.06" stop-color="#656c85"/><stop offset="0.12" stop-color="#636a83"/><stop offset="0.19" stop-color="#697289"/><stop offset="0.25" stop-color="#676f86"/><stop offset="0.31" stop-color="#687088"/><stop offset="0.38" stop-color="#6b748b"/><stop offset="0.44" stop-color="#646b84"/><stop offset="0.5" stop-color="#6f7a8f"/><stop offset="0.56" stop-color="#6a738a"/><stop offset="0.62" stop-color="#6b758b"/><stop offset="0.69" stop-color="#6a748a"/><stop offset="0.75" stop-color="#6d778d"/><stop offset="0.81" stop-color="#707b90"/><stop offset="0.88" stop-color="#7f919f"/><stop offset="0.94" stop-color="#8599a5"/><stop offset="1" stop-color="#8fa7af"/></linearGradient>
<linearGradient id="b54" x1="0" x2="1" y1="0" y2="0"><stop offset="0" stop-color="#626882"/><stop offset="0.06" stop-color="#676f87"/><stop offset="0.12" stop-color="#646b84"/><stop offset="0.19" stop-color="#626882"/><stop offset="0.25" stop-color="#6d778d"/><stop offset="0.31" stop-color="#656c85"/><stop offset="0.38" stop-color="#6a748a"/><stop offset="0.44" stop-color="#6a738a"/><stop offset="0.5" stop-color="#6b748b"/><stop offset="0.56" stop-color="#687088"/><stop offset="0.62" stop-color="#6e788e"/><stop offset="0.69" stop-color="#6a748a"/><stop offset="0.75" stop-color="#687188"/><stop offset="0.81" stop-color="#707b90"/><stop offset="0.88" stop-color="#7c8b9b"/><stop offset="0.94" stop-color="#7f919f"/><stop offset="1" stop-color="#8ea5ae"/></linearGradient>
<linearGradient id="b55" x1="0" x2="1" y1="0" y2="0"><stop offset="0" stop-color="#595b79"/><stop offset="0.06" stop-color="#555674"/><stop offset="0.12" stop-color="#565775"/><stop offset="0.19" stop-color="#5c607c"/><stop offset="0.25" stop-color="#5b5e7b"/><stop offset="0.31" stop-color="#636983"/><stop offset="0.38" stop-color="#5d627d"/><stop offset="0.44" stop-color="#606580"/><stop offset="0.5" stop-color="#616680"/><stop offset="0.56" stop-color="#5f647f"/><stop offset="0.62" stop-color="#5f647f"/><stop offset="0.69" stop-color="#616781"/><stop offset="0.75" stop-color="#606580"/><stop offset="0.81" stop-color="#687188"/><stop offset="0.88" stop-color="#6e798e"/><stop offset="0.94" stop-color="#7c8b9c"/><stop offset="1" stop-color="#8091a0"/></linearGradient>
<linearGradient id="b56" x1="0" x2="1" y1="0" y2="0"><stop offset="0" stop-color="#4f4f6d"/><stop offset="0.06" stop-color="#555675"/><stop offset="0.12" stop-color="#525372"/><stop offset="0.19" stop-color="#575977"/><stop offset="0.25" stop-color="#575977"/><stop offset="0.31" stop-color="#575977"/><stop offset="0.38" stop-color="#5a5d7a"/><stop offset="0.44" stop-color="#5d617d"/><stop offset="0.5" stop-color="#5e627d"/><stop offset="0.56" stop-color="#595c79"/><stop offset="0.62" stop-color="#5d627d"/><stop offset="0.69" stop-color="#585b78"/><stop offset="0.75" stop-color="#5e627e"/><stop offset="0.81" stop-color="#616781"/><stop offset="0.88" stop-color="#6d788d"/><stop offset="0.94" stop-color="#788798"/><stop offset="1" stop-color="#798899"/></linearGradient>
<linearGradient id="b57" x1="0" x2="1" y1="0" y2="0"><stop offset="0" stop-color="#4f4f6e"/><stop offset="0.06" stop-color="#505070"/><stop offset="0.12" stop-color="#585b78"/><stop offset="0.19" stop-color="#525372"/><stop offset="0.25" stop-color="#555775"/><stop offset="0.31" stop-color="#515171"/><stop offset="0.38" stop-color="#565876"/><stop offset="0.44" stop-color="#545574"/><stop offset="0.5" stop-color="#595c79"/><stop offset="0.56" stop-color="#555675"/><stop offset="0.62" stop-color="#5d617d"/><stop offset="0.69" stop-color="#535373"/><stop offset="0.75" stop-color="#595b78"/><stop offset="0.81" stop-color="#5a5d7a"/><stop offset="0.88" stop-color="#656c85"/><stop offset="0.94" stop-color="#717c90"/><stop offset="1" stop-color="#758294"/></linearGradient>
<linearGradient id="b58" x1="0" x2="1" y1="0" y2="0"><stop offset="0" stop-color="#4a4a67"/><stop offset="0.06" stop-color="#4a4a67"/><stop offset="0.12" stop-color="#484864"/><stop offset="0.19" stop-color="#4b4b68"/><stop offset="0.25" stop-color="#454561"/><stop offset="0.31" stop-color="#4f4f6e"/><stop offset="0.38" stop-color="#4d4d6b"/><stop offset="0.44" stop-color="#464661"/><stop offset="0.5" stop-color="#505070"/><stop offset="0.56" stop-color="#4a4a67"/><stop offset="0.62" stop-color="#4c4c6a"/><stop offset="0.69" stop-color="#454561"/><stop offset="0.75" stop-color="#4b4b69"/><stop offset="0.81" stop-color="#4f4f6e"/><stop offset="0.88" stop-color="#5e627e"/><stop offset="0.94" stop-color="#626882"/><stop offset="1" stop-color="#676f87"/></linearGradient>
<linearGradient id="b59" x1="0" x2="1" y1="0" y2="0"><stop offset="0" stop-color="#494965"/><stop offset="0.06" stop-color="#43435d"/><stop offset="0.12" stop-color="#454561"/><stop offset="0.19" stop-color="#42425c"/><stop offset="0.25" stop-color="#42425c"/><stop offset="0.31" stop-color="#464662"/><stop offset="0.38" stop-color="#474763"/><stop offset="0.44" stop-color="#494965"/><stop offset="0.5" stop-color="#4b4b68"/><stop offset="0.56" stop-color="#474763"/><stop offset="0.62" stop-color="#474763"/><stop offset="0.69" stop-color="#4a4a67"/><stop offset="0.75" stop-color="#4b4b68"/><stop offset="0.81" stop-color="#515171"/><stop offset="0.88" stop-color="#595c79"/><stop offset="0.94" stop-color="#595c79"/><stop offset="1" stop-color="#656c85"/></linearGradient>
<linearGradient id="b60" x1="0" x2="1" y1="0" y2="0"><stop offset="0" stop-color="#3d3d55"/><stop offset="0.06" stop-color="#404059"/><stop offset="0.12" stop-color="#38384e"/><stop offset="0.19" stop-color="#41415a"/><stop offset="0.25" stop-color="#3e3e56"/><stop offset="0.31" stop-color="#404059"/><stop offset="0.38" stop-color="#404058"/><stop offset="0.44" stop-color="#43435d"/><stop offset="0.5" stop-color="#3f3f58"/><stop offset="0.56" stop-color="#3b3b53"/><stop offset="0.62" stop-color="#42425b"/><stop offset="0.69" stop-color="#404059"/><stop offset="0.75" stop-color="#44445f"/><stop offset="0.81" stop-color="#4b4b68"/><stop offset="0.88" stop-color="#4d4d6b"/><stop offset="0.94" stop-color="#585a78"/><stop offset="1" stop-color="#5e637e"/></linearGradient>
<linearGradient id="b61" x1="0" x2="1" y1="0" y2="0"><stop offset="0" stop-color="#3e3e56"/><stop offset="0.06" stop-color="#3e3e56"/><stop offset="0.12" stop-color="#3a3a51"/><stop offset="0.19" stop-color="#3d3d54"/><stop offset="0.25" stop-color="#41415a"/><stop offset="0.31" stop-color="#3c3c54"/><stop offset="0.38" stop-color="#3f3f58"/><stop offset="0.44" stop-color="#3d3d55"/><stop offset="0.5" stop-color="#3d3d55"/><stop offset="0.56" stop-color="#3f3f57"/><stop offset="0.62" stop-color="#404059"/><stop offset="0.69" stop-color="#43435e"/><stop offset="0.75" stop-color="#41415a"/><stop offset="0.81" stop-color="#4a4a67"/><stop offset="0.88" stop-color="#505070"/><stop offset="0.94" stop-color="#565876"/><stop offset="1" stop-color="#545574"/></linearGradient>
<linearGradient id="b62" x1="0" x2="1" y1="0" y2="0"><stop offset="0" stop-color="#3a3a51"/><stop offset="0.06" stop-color="#36364c"/><stop offset="0.12" stop-color="#38384f"/><stop offset="0.19" stop-color="#3d3d55"/><stop offset="0.25" stop-color="#37374d"/><stop offset="0.31" stop-color="#3a3a50"/><stop offset="0.38" stop-color="#3e3e56"/><stop offset="0.44" stop-color="#37374c"/><stop offset="0.5" stop-color="#39394f"/><stop offset="0.56" stop-color="#3c3c54"/><stop offset="0.62" stop-color="#3e3e56"/><stop offset="0.69" stop-color="#3f3f57"/><stop offset="0.75" stop-color="#3f3f58"/><stop offset="0.81" stop-color="#4a4a67"/><stop offset="0.88" stop-color="#4b4b68"/><stop offset="0.94" stop-color="#4e4e6c"/><stop offset="1" stop-color="#575a77"/></linearGradient>
<linearGradient id="b63" x1="0" x2="1" y1="0" y2="0"><stop offset="0" stop-color="#38384e"/><stop offset="0.06" stop-color="#313144"/><stop offset="0.12" stop-color="#36364c"/><stop offset="0.19" stop-color="#343448"/><stop offset="0.25" stop-color="#37374c"/><stop offset="0.31" stop-color="#3c3c53"/><stop offset="0.38" stop-color="#38384e"/><stop offset="0.44" stop-color="#37374c"/><stop offset="0.5" stop-color="#38384e"/><stop offset="0.56" stop-color="#37374c"/><stop offset="0.62" stop-color="#3e3e56"/><stop offset="0.69" stop-color="#3a3a51"/><stop offset="0.75" stop-color="#3c3c54"/><stop offset="0.81" stop-color="#3e3e57"/><stop offset="0.88" stop-color="#454560"/><stop offset="0.94" stop-color="#4e4e6c"/><stop offset="1" stop-color="#4e4e6d"/></linearGradient>
<linearGradient id="b64" x1="0" x2="1" y1="0" y2="0"><stop offset="0" stop-color="#313144"/><stop offset="0.06" stop-color="#343448"/><stop offset="0.12" stop-color="#343448"/><stop offset="0.19" stop-color="#323245"/><stop offset="0.25" stop-color="#36364a"/><stop offset="0.31" stop-color="#37374d"/><stop offset="0.38" stop-color="#3b3b52"/><stop offset="0.44" stop-color="#37374c"/><stop offset="0.5" stop-color="#3b3b52"/><stop offset="0.56" stop-color="#37374d"/><stop offset="0.62" stop-color="#35354a"/><stop offset="0.69" stop-color="#38384e"/><stop offset="0.75" stop-color="#36364b"/><stop offset="0.81" stop-color="#3d3d55"/><stop offset="0.88" stop-color="#454560"/><stop offset="0.94" stop-color="#4c4c6a"/><stop offset="1" stop-color="#515170"/></linearGradient>
<linearGradient id="b65" x1="0" x2="1" y1="0" y2="0"><stop offset="0" stop-color="#2f2f41"/><stop offset="0.06" stop-color="#2b2b3c"/><stop offset="0.12" stop-color="#292939"/><stop offset="0.19" stop-color="#292939"/><stop offset="0.25" stop-color="#2d2d3f"/><stop offset="0.31" stop-color="#2d2d3f"/><stop offset="0.38" stop-color="#2f2f41"/><stop offset="0.44" stop-color="#2d2d3e"/><stop offset="0.5" stop-color="#313144"/><stop offset="0.56" stop-color="#2c2c3d"/><stop offset="0.62" stop-color="#2e2e40"/><stop offset="0.69" stop-color="#2d2d3f"/><stop offset="0.75" stop-color="#313144"/><stop offset="0.81" stop-color="#313144"/><stop offset="0.88" stop-color="#38384e"/><stop offset="0.94" stop-color="#3f3f57"/><stop offset="1" stop-color="#44445e"/></linearGradient>
<linearGradient id="b66" x1="0" x2="1" y1="0" y2="0"><stop offset="0" stop-color="#272736"/><stop offset="0.06" stop-color="#2b2b3c"/><stop offset="0.12" stop-color="#2c2c3e"/><stop offset="0.19" stop-color="#272736"/><stop offset="0.25" stop-color="#2c2c3d"/><stop offset="0.31" stop-color="#282837"/><stop offset="0.38" stop-color="#292939"/><stop offset="0.44" stop-color="#2a2a3b"/><stop offset="0.5" stop-color="#2b2b3d"/><stop offset="0.56" stop-color="#2c2c3e"/><stop offset="0.62" stop-color="#262635"/><stop offset="0.69" stop-color="#272737"/><stop offset="0.75" stop-color="#2c2c3e"/><stop offset="0.81" stop-color="#313144"/><stop offset="0.88" stop-color="#3c3c54"/><stop offset="0.94" stop-color="#3c3c53"/><stop offset="1" stop-color="#41415a"/></linearGradient>
<linearGradient id="b67" x1="0" x2="1" y1="0" y2="0"><stop offset="0" stop-color="#242432"/><stop offset="0.06" stop-color="#252534"/><stop offset="0.12" stop-color="#313144"/><stop offset="0.19" stop-color="#292939"/><stop offset="0.25" stop-color="#2b2b3c"/><stop offset="0.31" stop-color="#2b2b3c"/><stop offset="0.38" stop-color="#2a2a3a"/><stop offset="0.44" stop-color="#2c2c3d"/><stop offset="0.5" stop-color="#292939"/><stop offset="0.56" stop-color="#2f2f41"/><stop offset="0.62" stop-color="#2e2e40"/><stop offset="0.69" stop-color="#2e2e40"/><stop offset="0.75" stop-color="#2a2a3b"/><stop offset="0.81" stop-color="#2d2d3e"/><stop offset="0.88" stop-color="#36364a"/><stop offset="0.94" stop-color="#393950"/><stop offset="1" stop-color="#43435e"/></linearGradient>
<linearGradient id="b68" x1="0" x2="1" y1="0" y2="0"><stop offset="0" stop-color="#1f1f2c"/><stop offset="0.06" stop-color="#22222f"/><stop offset="0.12" stop-color="#232330"/><stop offset="0.19" stop-color="#232330"/><stop offset="0.25" stop-color="#20202c"/><stop offset="0.31" stop-color="#22222f"/><stop offset="0.38" stop-color="#292939"/><stop offset="0.44" stop-color="#262635"/><stop offset="0.5" stop-color="#22222f"/><stop offset="0.56" stop-color="#292939"/><stop offset="0.62" stop-color="#232331"/><stop offset="0.69" stop-color="#242432"/><stop offset="0.75" stop-color="#222230"/><stop offset="0.81" stop-color="#2c2c3e"/><stop offset="0.88" stop-color="#2d2d3f"/><stop offset="0.94" stop-color="#323245"/><stop offset="1" stop-color="#35354a"/></linearGradient>
<linearGradient id="b69" x1="0" x2="1" y1="0" y2="0"><stop offset="0" stop-color="#21212e"/><stop offset="0.06" stop-color="#21212d"/><stop offset="0.12" stop-color="#252533"/><stop offset="0.19" stop-color="#1f1f2b"/><stop offset="0.25" stop-color="#21212d"/><stop offset="0.31" stop-color="#252533"/><stop offset="0.38" stop-color="#252533"/><stop offset="0.44" stop-color="#21212e"/><stop offset="0.5" stop-color="#272736"/><stop offset="0.56" stop-color="#242432"/><stop offset="0.62" stop-color="#252533"/><stop offset="0.69" stop-color="#232331"/><stop offset="0.75" stop-color="#262635"/><stop offset="0.81" stop-color="#252533"/><stop offset="0.88" stop-color="#2a2a3a"/><stop offset="0.94" stop-color="#323246"/><stop offset="1" stop-color="#35354a"/></linearGradient>
<linearGradient id="b70" x1="0" x2="1" y1="0" y2="0"><stop offset="0" stop-color="#262634"/><stop offset="0.06" stop-color="#232331"/><stop offset="0.12" stop-color="#232331"/><stop offset="0.19" stop-color="#1d1d28"/><stop offset="0.25" stop-color="#22222f"/><stop offset="0.31" stop-color="#262635"/><stop offset="0.38" stop-color="#22222f"/><stop offset="0.44" stop-color="#242431"/><stop offset="0.5" stop-color="#252533"/><stop offset="0.56" stop-color="#242432"/><stop offset="0.62" stop-color="#272736"/><stop offset="0.69" stop-color="#252534"/><stop offset="0.75" stop-color="#242433"/><stop offset="0.81" stop-color="#2a2a3b"/><stop offset="0.88" stop-color="#2a2a3a"/><stop offset="0.94" stop-color="#2e2e3f"/><stop offset="1" stop-color="#35354a"/></linearGradient>
<filter id="nz" x="0" y="0" width="1" height="1"><feTurbulence type="fractalNoise" baseFrequency="0.09 0.42" numOctaves="2" seed="5" result="n"/><feColorMatrix type="matrix" values="1.5 0 0 0 -0.25  1.5 0 0 0 -0.25  1.5 0 0 0 -0.25  0 0 0 0 1"/></filter>
<linearGradient id="cbar" x1="0" x2="0" y1="0" y2="1"><stop offset="0" stop-color="#ffffff"/><stop offset="0.1" stop-color="#dce9e9"/><stop offset="0.2" stop-color="#b9d2d2"/><stop offset="0.3" stop-color="#9cb8bc"/><stop offset="0.4" stop-color="#869aa6"/><stop offset="0.5" stop-color="#707b8f"/><stop offset="0.6" stop-color="#595c79"/><stop offset="0.7" stop-color="#43435d"/><stop offset="0.8" stop-color="#2d2d3e"/><stop offset="0.9" stop-color="#16161f"/><stop offset="1" stop-color="#000000"/></linearGradient></defs>
<clipPath id="ca"><rect x="48.6" y="10" width="232" height="312.5"/></clipPath>
<g clip-path="url(#ca)">
<circle cx="82.63" cy="284.12" r="1.1" fill="#000"/>
<circle cx="83.71" cy="277.93" r="1.1" fill="#000"/>
<circle cx="84.59" cy="284.66" r="1.1" fill="#000"/>
<circle cx="85.47" cy="279.02" r="1.1" fill="#000"/>
<circle cx="86.5" cy="269.98" r="1.1" fill="#000"/>
<circle cx="87.38" cy="272.83" r="1.1" fill="#000"/>
<circle cx="88.26" cy="282.07" r="1.1" fill="#000"/>
<circle cx="89.16" cy="265.86" r="1.1" fill="#000"/>
<circle cx="90.09" cy="278.52" r="1.1" fill="#000"/>
<circle cx="91.15" cy="276.59" r="1.1" fill="#000"/>
<circle cx="92.14" cy="262.72" r="1.1" fill="#000"/>
<circle cx="93.29" cy="262.15" r="1.1" fill="#000"/>
<circle cx="94.25" cy="257.93" r="1.1" fill="#000"/>
<circle cx="95.21" cy="255.17" r="1.1" fill="#000"/>
<circle cx="96.35" cy="251.49" r="1.1" fill="#000"/>
<circle cx="97.43" cy="245.16" r="1.1" fill="#000"/>
<circle cx="98.41" cy="251.48" r="1.1" fill="#000"/>
<circle cx="99.29" cy="247.86" r="1.1" fill="#000"/>
<circle cx="100.21" cy="247.37" r="1.1" fill="#000"/>
<circle cx="101.18" cy="247.69" r="1.1" fill="#000"/>
<circle cx="102.24" cy="243.94" r="1.1" fill="#000"/>
<circle cx="103.37" cy="234.76" r="1.1" fill="#000"/>
<circle cx="104.47" cy="232.75" r="1.1" fill="#000"/>
<circle cx="105.51" cy="222.56" r="1.1" fill="#000"/>
<circle cx="106.67" cy="227.22" r="1.1" fill="#000"/>
<circle cx="107.87" cy="227.71" r="1.1" fill="#000"/>
<circle cx="108.76" cy="228.71" r="1.1" fill="#000"/>
<circle cx="109.67" cy="212.83" r="1.1" fill="#000"/>
<circle cx="110.69" cy="205.89" r="1.1" fill="#000"/>
<circle cx="111.81" cy="208.68" r="1.1" fill="#000"/>
<circle cx="112.87" cy="203.69" r="1.1" fill="#000"/>
<circle cx="113.97" cy="208.13" r="1.1" fill="#000"/>
<circle cx="115.03" cy="207.29" r="1.1" fill="#000"/>
<circle cx="116.18" cy="200.78" r="1.1" fill="#000"/>
<circle cx="117.36" cy="203.82" r="1.1" fill="#000"/>
<circle cx="118.24" cy="188.68" r="1.1" fill="#000"/>
<circle cx="119.34" cy="201.42" r="1.1" fill="#000"/>
<circle cx="120.48" cy="203.06" r="1.1" fill="#000"/>
<circle cx="121.43" cy="189.23" r="1.1" fill="#000"/>
<circle cx="122.29" cy="169.43" r="1.1" fill="#000"/>
<circle cx="123.31" cy="172.18" r="1.1" fill="#000"/>
<circle cx="124.18" cy="167.77" r="1.1" fill="#000"/>
<circle cx="125.31" cy="163.42" r="1.1" fill="#000"/>
<circle cx="126.3" cy="160" r="1.1" fill="#000"/>
<circle cx="127.46" cy="152.57" r="1.1" fill="#000"/>
<circle cx="128.5" cy="153.25" r="1.1" fill="#000"/>
<circle cx="129.67" cy="146.67" r="1.1" fill="#000"/>
<circle cx="130.62" cy="169.98" r="1.1" fill="#000"/>
<circle cx="131.62" cy="162.46" r="1.1" fill="#000"/>
<circle cx="132.81" cy="129.33" r="1.1" fill="#000"/>
<circle cx="133.72" cy="140.08" r="1.1" fill="#000"/>
<circle cx="134.65" cy="134.09" r="1.1" fill="#000"/>
<circle cx="135.67" cy="145.5" r="1.1" fill="#000"/>
<circle cx="136.53" cy="140.73" r="1.1" fill="#000"/>
<circle cx="137.53" cy="143.31" r="1.1" fill="#000"/>
<circle cx="138.72" cy="120.97" r="1.1" fill="#000"/>
<circle cx="139.81" cy="143.51" r="1.1" fill="#000"/>
<circle cx="140.91" cy="127.86" r="1.1" fill="#000"/>
<circle cx="141.78" cy="109.61" r="1.1" fill="#000"/>
<circle cx="142.94" cy="133.49" r="1.1" fill="#000"/>
<circle cx="144.07" cy="128.91" r="1.1" fill="#000"/>
<circle cx="144.96" cy="112.22" r="1.1" fill="#000"/>
<circle cx="146.04" cy="113.64" r="1.1" fill="#000"/>
<circle cx="146.96" cy="114.49" r="1.1" fill="#000"/>
<circle cx="147.88" cy="116.72" r="1.1" fill="#000"/>
<circle cx="148.73" cy="110.83" r="1.1" fill="#000"/>
<circle cx="149.64" cy="104.62" r="1.1" fill="#000"/>
<circle cx="150.5" cy="105.9" r="1.1" fill="#000"/>
<circle cx="151.66" cy="115.56" r="1.1" fill="#000"/>
<circle cx="152.6" cy="114.3" r="1.1" fill="#000"/>
<circle cx="153.58" cy="113.34" r="1.1" fill="#000"/>
<circle cx="154.73" cy="105.07" r="1.1" fill="#000"/>
<circle cx="155.93" cy="120.91" r="1.1" fill="#000"/>
<circle cx="156.81" cy="106.1" r="1.1" fill="#000"/>
<circle cx="157.7" cy="113.31" r="1.1" fill="#000"/>
<circle cx="158.85" cy="101.77" r="1.1" fill="#000"/>
<circle cx="159.76" cy="82.94" r="1.1" fill="#000"/>
<circle cx="160.8" cy="105.56" r="1.1" fill="#000"/>
<circle cx="161.7" cy="112.21" r="1.1" fill="#000"/>
<circle cx="162.74" cy="111.08" r="1.1" fill="#000"/>
<circle cx="163.94" cy="100.46" r="1.1" fill="#000"/>
<circle cx="164.88" cy="124.61" r="1.1" fill="#000"/>
<circle cx="165.87" cy="103.84" r="1.1" fill="#000"/>
<circle cx="166.91" cy="98.13" r="1.1" fill="#000"/>
<circle cx="168.03" cy="119.09" r="1.1" fill="#000"/>
<circle cx="169.17" cy="110.19" r="1.1" fill="#000"/>
<circle cx="170.37" cy="106.83" r="1.1" fill="#000"/>
<circle cx="171.51" cy="135.66" r="1.1" fill="#000"/>
<circle cx="172.63" cy="119.92" r="1.1" fill="#000"/>
<circle cx="173.6" cy="110.5" r="1.1" fill="#000"/>
<circle cx="174.47" cy="116.11" r="1.1" fill="#000"/>
<circle cx="175.41" cy="124.63" r="1.1" fill="#000"/>
<circle cx="176.51" cy="116.62" r="1.1" fill="#000"/>
<circle cx="177.69" cy="132.85" r="1.1" fill="#000"/>
<circle cx="178.89" cy="121.68" r="1.1" fill="#000"/>
<circle cx="179.82" cy="135.66" r="1.1" fill="#000"/>
<circle cx="180.76" cy="131.68" r="1.1" fill="#000"/>
<circle cx="181.83" cy="128.53" r="1.1" fill="#000"/>
<circle cx="183" cy="130.04" r="1.1" fill="#000"/>
<circle cx="184.08" cy="147.94" r="1.1" fill="#000"/>
<circle cx="185.22" cy="124.81" r="1.1" fill="#000"/>
<circle cx="186.39" cy="130.89" r="1.1" fill="#000"/>
<circle cx="187.52" cy="139.07" r="1.1" fill="#000"/>
<circle cx="188.43" cy="151.21" r="1.1" fill="#000"/>
<circle cx="189.56" cy="148.07" r="1.1" fill="#000"/>
<circle cx="190.76" cy="120.88" r="1.1" fill="#000"/>
<circle cx="191.75" cy="157.66" r="1.1" fill="#000"/>
<circle cx="192.86" cy="119.81" r="1.1" fill="#000"/>
<circle cx="193.77" cy="128.96" r="1.1" fill="#000"/>
<circle cx="194.94" cy="126.31" r="1.1" fill="#000"/>
<circle cx="196.08" cy="115.62" r="1.1" fill="#000"/>
<circle cx="197.28" cy="108.32" r="1.1" fill="#000"/>
<circle cx="198.36" cy="128.68" r="1.1" fill="#000"/>
<circle cx="199.26" cy="106.55" r="1.1" fill="#000"/>
<circle cx="200.12" cy="105.03" r="1.1" fill="#000"/>
<circle cx="201.16" cy="111.7" r="1.1" fill="#000"/>
<circle cx="202.34" cy="116.93" r="1.1" fill="#000"/>
<circle cx="203.48" cy="94.7" r="1.1" fill="#000"/>
<circle cx="204.41" cy="95.87" r="1.1" fill="#000"/>
<circle cx="205.35" cy="86.23" r="1.1" fill="#000"/>
<circle cx="206.41" cy="87.25" r="1.1" fill="#000"/>
<circle cx="207.31" cy="76.24" r="1.1" fill="#000"/>
<circle cx="208.48" cy="82.34" r="1.1" fill="#000"/>
<circle cx="209.54" cy="68.22" r="1.1" fill="#000"/>
<circle cx="210.71" cy="82.35" r="1.1" fill="#000"/>
<circle cx="211.74" cy="59.62" r="1.1" fill="#000"/>
<circle cx="212.78" cy="64.99" r="1.1" fill="#000"/>
<circle cx="213.79" cy="61.83" r="1.1" fill="#000"/>
<circle cx="214.71" cy="61.28" r="1.1" fill="#000"/>
<circle cx="215.62" cy="69.14" r="1.1" fill="#000"/>
<circle cx="216.64" cy="70.04" r="1.1" fill="#000"/>
<circle cx="217.61" cy="75.73" r="1.1" fill="#000"/>
<circle cx="218.64" cy="78.84" r="1.1" fill="#000"/>
<circle cx="219.54" cy="75.25" r="1.1" fill="#000"/>
<circle cx="220.59" cy="74.95" r="1.1" fill="#000"/>
<circle cx="221.71" cy="74.82" r="1.1" fill="#000"/>
<circle cx="222.74" cy="91.07" r="1.1" fill="#000"/>
<circle cx="223.92" cy="92.4" r="1.1" fill="#000"/>
<circle cx="224.93" cy="99.62" r="1.1" fill="#000"/>
<circle cx="225.96" cy="105.71" r="1.1" fill="#000"/>
<circle cx="227.06" cy="115.66" r="1.1" fill="#000"/>
<circle cx="228.08" cy="115.91" r="1.1" fill="#000"/>
<circle cx="229.26" cy="119.49" r="1.1" fill="#000"/>
<circle cx="230.45" cy="133.78" r="1.1" fill="#000"/>
<circle cx="231.39" cy="143.43" r="1.1" fill="#000"/>
<circle cx="232.54" cy="150.65" r="1.1" fill="#000"/>
<circle cx="233.44" cy="154.87" r="1.1" fill="#000"/>
<circle cx="234.32" cy="163.83" r="1.1" fill="#000"/>
<circle cx="235.26" cy="171.74" r="1.1" fill="#000"/>
<circle cx="236.39" cy="185.27" r="1.1" fill="#000"/>
<circle cx="237.55" cy="196.6" r="1.1" fill="#000"/>
<circle cx="238.64" cy="206.48" r="1.1" fill="#000"/>
<circle cx="239.54" cy="213.75" r="1.1" fill="#000"/>
<circle cx="240.47" cy="233.49" r="1.1" fill="#000"/>
<circle cx="241.66" cy="242.45" r="1.1" fill="#000"/>
<circle cx="242.86" cy="248.76" r="1.1" fill="#000"/>
<circle cx="244.01" cy="258.94" r="1.1" fill="#000"/>
<circle cx="245.04" cy="266.23" r="1.1" fill="#000"/>
<circle cx="246.02" cy="275.15" r="1.1" fill="#000"/>
<circle cx="247.12" cy="281.06" r="1.1" fill="#000"/>
<circle cx="247.98" cy="291.51" r="1.1" fill="#000"/>
<circle cx="248.84" cy="294.29" r="1.1" fill="#000"/>
<circle cx="249.81" cy="300.34" r="1.1" fill="#000"/>
<circle cx="250.69" cy="303.94" r="1.1" fill="#000"/>
<circle cx="251.89" cy="303.87" r="1.1" fill="#000"/>
<circle cx="252.78" cy="315.65" r="1.1" fill="#000"/>
<circle cx="253.73" cy="305.66" r="1.1" fill="#000"/>
<circle cx="254.67" cy="311.08" r="1.1" fill="#000"/>
<circle cx="255.57" cy="319.26" r="1.1" fill="#000"/>
<circle cx="256.71" cy="312.14" r="1.1" fill="#000"/>
<circle cx="257.66" cy="312.18" r="1.1" fill="#000"/>
<circle cx="258.71" cy="311.56" r="1.1" fill="#000"/>
<circle cx="259.81" cy="316.49" r="1.1" fill="#000"/>
<circle cx="260.91" cy="317.24" r="1.1" fill="#000"/>
<circle cx="261.91" cy="312" r="1.1" fill="#000"/>
<circle cx="262.99" cy="315.33" r="1.1" fill="#000"/>
<circle cx="264.12" cy="313.61" r="1.1" fill="#000"/>
<circle cx="265" cy="315.76" r="1.1" fill="#000"/>
<circle cx="266.16" cy="321.18" r="1.1" fill="#000"/>
<path d="M49.5 311.46 L50.5 311.12 L51.51 310.76 L52.51 310.38 L53.52 309.97 L54.52 309.54 L55.52 309.09 L56.53 308.61 L57.53 308.1 L58.54 307.56 L59.54 306.99 L60.54 306.39 L61.55 305.76 L62.55 305.09 L63.56 304.39 L64.56 303.65 L65.56 302.87 L66.57 302.06 L67.57 301.2 L68.58 300.3 L69.58 299.36 L70.58 298.38 L71.59 297.35 L72.59 296.27 L73.6 295.14 L74.6 293.97 L75.6 292.74 L76.61 291.47 L77.61 290.14 L78.62 288.75 L79.62 287.31 L80.62 285.82 L81.63 284.27 L82.63 282.66 L83.64 280.99 L84.64 279.26 L85.64 277.48 L86.65 275.63 L87.65 273.73 L88.66 271.76 L89.66 269.73 L90.66 267.64 L91.67 265.49 L92.67 263.28 L93.68 261.01 L94.68 258.69 L95.68 256.3 L96.69 253.85 L97.69 251.34 L98.7 248.78 L99.7 246.17 L100.7 243.5 L101.71 240.77 L102.71 238 L103.72 235.18 L104.72 232.31 L105.72 229.39 L106.73 226.44 L107.73 223.44 L108.74 220.41 L109.74 217.34 L110.74 214.24 L111.75 211.11 L112.75 207.96 L113.76 204.78 L114.76 201.59 L115.76 198.39 L116.77 195.17 L117.77 191.95 L118.78 188.72 L119.78 185.5 L120.78 182.29 L121.79 179.08 L122.79 175.89 L123.8 172.72 L124.8 169.58 L125.8 166.46 L126.81 163.38 L127.81 160.34 L128.82 157.34 L129.82 154.39 L130.82 151.49 L131.83 148.66 L132.83 145.88 L133.84 143.17 L134.84 140.54 L135.84 137.98 L136.85 135.5 L137.85 133.11 L138.86 130.81 L139.86 128.61 L140.86 126.5 L141.87 124.5 L142.87 122.6 L143.88 120.81 L144.88 119.13 L145.88 117.57 L146.89 116.13 L147.89 114.81 L148.9 113.61 L149.9 112.54 L150.9 111.6 L151.91 110.79 L152.91 110.11 L153.92 109.56 L154.92 109.14 L155.92 108.86 L156.93 108.71 L157.93 108.69 L158.94 108.81 L159.94 109.05 L160.94 109.43 L161.95 109.93 L162.95 110.55 L163.96 111.29 L164.96 112.15 L165.96 113.12 L166.97 114.19 L167.97 115.36 L168.98 116.62 L169.98 117.96 L170.98 119.37 L171.99 120.84 L172.99 122.36 L174 123.92 L175 125.5 L176 127.08 L177.01 128.65 L178.01 130.18 L179.02 131.67 L180.02 133.08 L181.02 134.4 L182.03 135.61 L183.03 136.67 L184.04 137.57 L185.04 138.28 L186.04 138.78 L187.05 139.05 L188.05 139.05 L189.06 138.78 L190.06 138.2 L191.06 137.31 L192.07 136.09 L193.07 134.54 L194.08 132.63 L195.08 130.38 L196.08 127.79 L197.09 124.87 L198.09 121.62 L199.1 118.09 L200.1 114.28 L201.1 110.24 L202.11 106 L203.11 101.62 L204.12 97.14 L205.12 92.62 L206.12 88.12 L207.13 83.71 L208.13 79.46 L209.14 75.42 L210.14 71.69 L211.14 68.31 L212.15 65.37 L213.15 62.91 L214.16 61.02 L215.16 59.73 L216.16 59.1 L217.17 59.16 L218.17 59.96 L219.18 61.51 L220.18 63.82 L221.18 66.92 L222.19 70.78 L223.19 75.4 L224.2 80.76 L225.2 86.82 L226.2 93.55 L227.21 100.9 L228.21 108.82 L229.22 117.27 L230.22 126.17 L231.22 135.47 L232.23 145.11 L233.23 155.02 L234.24 165.13 L235.24 175.38 L236.24 185.7 L237.25 196.02 L238.25 206.29 L239.26 216.43 L240.26 226.38 L241.26 236.05 L242.27 245.38 L243.27 254.3 L244.28 262.73 L245.28 270.61 L246.28 277.86 L247.29 284.45 L248.29 290.33 L249.3 295.51 L250.3 299.98 L251.3 303.78 L252.31 306.95 L253.31 309.55 L254.32 311.66 L255.32 313.34 L256.32 314.66 L257.33 315.69 L258.33 316.48 L259.34 317.09 L260.34 317.55 L261.34 317.9 L262.35 318.17 L263.35 318.36 L264.36 318.51 L265.36 318.62 L266.36 318.7 L267.37 318.77 L268.37 318.81 L269.38 318.85 L270.38 318.87 L271.38 318.89 L272.39 318.91 L273.39 318.92 L274.4 318.93 L275.4 318.94" stroke="#ff0000" stroke-width="3.8" fill="none" stroke-linejoin="round" />
<path d="M49.5 311.46 L50.5 311.12 L51.51 310.76 L52.51 310.38 L53.52 309.97 L54.52 309.54 L55.52 309.09 L56.53 308.61 L57.53 308.1 L58.54 307.56 L59.54 306.99 L60.54 306.39 L61.55 305.76 L62.55 305.09 L63.56 304.39 L64.56 303.65 L65.56 302.87 L66.57 302.06 L67.57 301.2 L68.58 300.3 L69.58 299.36 L70.58 298.38 L71.59 297.35 L72.59 296.27 L73.6 295.14 L74.6 293.97 L75.6 292.74 L76.61 291.47 L77.61 290.14 L78.62 288.75 L79.62 287.31 L80.62 285.82 L81.63 284.27 L82.63 282.66 L83.64 280.99 L84.64 279.26 L85.64 277.48 L86.65 275.63 L87.65 273.73 L88.66 271.76 L89.66 269.73 L90.66 267.64 L91.67 265.49 L92.67 263.28 L93.68 261.01 L94.68 258.69 L95.68 256.3 L96.69 253.85 L97.69 251.34 L98.7 248.78 L99.7 246.17 L100.7 243.5 L101.71 240.77 L102.71 238 L103.72 235.18 L104.72 232.31 L105.72 229.39 L106.73 226.44 L107.73 223.44 L108.74 220.41 L109.74 217.34 L110.74 214.24 L111.75 211.11 L112.75 207.96 L113.76 204.78 L114.76 201.59 L115.76 198.39 L116.77 195.17 L117.77 191.95 L118.78 188.72 L119.78 185.5 L120.78 182.29 L121.79 179.08 L122.79 175.89 L123.8 172.72 L124.8 169.58 L125.8 166.46 L126.81 163.38 L127.81 160.34 L128.82 157.34 L129.82 154.39 L130.82 151.49 L131.83 148.66 L132.83 145.88 L133.84 143.17 L134.84 140.54 L135.84 137.98 L136.85 135.5 L137.85 133.11 L138.86 130.81 L139.86 128.61 L140.86 126.5 L141.87 124.5 L142.87 122.6 L143.88 120.81 L144.88 119.13 L145.88 117.57 L146.89 116.13 L147.89 114.81 L148.9 113.62 L149.9 112.55 L150.9 111.61 L151.91 110.8 L152.91 110.13 L153.92 109.58 L154.92 109.18 L155.92 108.9 L156.93 108.77 L157.93 108.77 L158.94 108.9 L159.94 109.18 L160.94 109.58 L161.95 110.13 L162.95 110.8 L163.96 111.61 L164.96 112.55 L165.96 113.62 L166.97 114.81 L167.97 116.13 L168.98 117.57 L169.98 119.13 L170.98 120.81 L171.99 122.6 L172.99 124.5 L174 126.5 L175 128.61 L176 130.81 L177.01 133.11 L178.01 135.5 L179.02 137.98 L180.02 140.54 L181.02 143.17 L182.03 145.88 L183.03 148.66 L184.04 151.49 L185.04 154.39 L186.04 157.34 L187.05 160.34 L188.05 163.38 L189.06 166.46 L190.06 169.58 L191.06 172.72 L192.07 175.89 L193.07 179.08 L194.08 182.29 L195.08 185.5 L196.08 188.72 L197.09 191.95 L198.09 195.17 L199.1 198.39 L200.1 201.59 L201.1 204.78 L202.11 207.96 L203.11 211.11 L204.12 214.24 L205.12 217.34 L206.12 220.41 L207.13 223.44 L208.13 226.44 L209.14 229.39 L210.14 232.31 L211.14 235.18 L212.15 238 L213.15 240.77 L214.16 243.5 L215.16 246.17 L216.16 248.78 L217.17 251.34 L218.17 253.85 L219.18 256.3 L220.18 258.69 L221.18 261.01 L222.19 263.28 L223.19 265.49 L224.2 267.64 L225.2 269.73 L226.2 271.76 L227.21 273.73 L228.21 275.63 L229.22 277.48 L230.22 279.26 L231.22 280.99 L232.23 282.66 L233.23 284.27 L234.24 285.82 L235.24 287.31 L236.24 288.75 L237.25 290.14 L238.25 291.47 L239.26 292.74 L240.26 293.97 L241.26 295.14 L242.27 296.27 L243.27 297.35 L244.28 298.38 L245.28 299.36 L246.28 300.3 L247.29 301.2 L248.29 302.06 L249.3 302.87 L250.3 303.65 L251.3 304.39 L252.31 305.09 L253.31 305.76 L254.32 306.39 L255.32 306.99 L256.32 307.56 L257.33 308.1 L258.33 308.61 L259.34 309.09 L260.34 309.54 L261.34 309.97 L262.35 310.38 L263.35 310.76 L264.36 311.12 L265.36 311.46 L266.36 311.77 L267.37 312.07 L268.37 312.35 L269.38 312.62 L270.38 312.87 L271.38 313.1 L272.39 313.31 L273.39 313.52 L274.4 313.71 L275.4 313.88" stroke="#0000ff" stroke-width="1.5" fill="none" stroke-linejoin="round" />
<path d="M49.5 318.25 L50.5 318.25 L51.51 318.25 L52.51 318.25 L53.52 318.25 L54.52 318.25 L55.52 318.25 L56.53 318.25 L57.53 318.25 L58.54 318.25 L59.54 318.25 L60.54 318.25 L61.55 318.25 L62.55 318.25 L63.56 318.25 L64.56 318.25 L65.56 318.25 L66.57 318.25 L67.57 318.25 L68.58 318.25 L69.58 318.25 L70.58 318.25 L71.59 318.25 L72.59 318.25 L73.6 318.25 L74.6 318.25 L75.6 318.25 L76.61 318.25 L77.61 318.25 L78.62 318.25 L79.62 318.25 L80.62 318.25 L81.63 318.25 L82.63 318.25 L83.64 318.25 L84.64 318.25 L85.64 318.25 L86.65 318.25 L87.65 318.24 L88.66 318.24 L89.66 318.24 L90.66 318.24 L91.67 318.24 L92.67 318.24 L93.68 318.24 L94.68 318.24 L95.68 318.24 L96.69 318.24 L97.69 318.24 L98.7 318.24 L99.7 318.24 L100.7 318.24 L101.71 318.24 L102.71 318.24 L103.72 318.24 L104.72 318.24 L105.72 318.24 L106.73 318.24 L107.73 318.24 L108.74 318.24 L109.74 318.24 L110.74 318.24 L111.75 318.24 L112.75 318.24 L113.76 318.24 L114.76 318.24 L115.76 318.24 L116.77 318.24 L117.77 318.24 L118.78 318.24 L119.78 318.24 L120.78 318.24 L121.79 318.24 L122.79 318.24 L123.8 318.24 L124.8 318.24 L125.8 318.24 L126.81 318.24 L127.81 318.24 L128.82 318.24 L129.82 318.24 L130.82 318.24 L131.83 318.24 L132.83 318.24 L133.84 318.24 L134.84 318.24 L135.84 318.24 L136.85 318.24 L137.85 318.24 L138.86 318.24 L139.86 318.24 L140.86 318.24 L141.87 318.24 L142.87 318.24 L143.88 318.24 L144.88 318.24 L145.88 318.24 L146.89 318.24 L147.89 318.24 L148.9 318.24 L149.9 318.24 L150.9 318.23 L151.91 318.23 L152.91 318.23 L153.92 318.22 L154.92 318.21 L155.92 318.2 L156.93 318.19 L157.93 318.17 L158.94 318.15 L159.94 318.12 L160.94 318.09 L161.95 318.05 L162.95 317.99 L163.96 317.93 L164.96 317.85 L165.96 317.75 L166.97 317.62 L167.97 317.48 L168.98 317.29 L169.98 317.07 L170.98 316.81 L171.99 316.49 L172.99 316.11 L174 315.66 L175 315.13 L176 314.51 L177.01 313.78 L178.01 312.92 L179.02 311.93 L180.02 310.79 L181.02 309.48 L182.03 307.97 L183.03 306.26 L184.04 304.32 L185.04 302.14 L186.04 299.69 L187.05 296.95 L188.05 293.91 L189.06 290.56 L190.06 286.87 L191.06 282.83 L192.07 278.45 L193.07 273.7 L194.08 268.59 L195.08 263.12 L196.08 257.31 L197.09 251.16 L198.09 244.69 L199.1 237.94 L200.1 230.92 L201.1 223.69 L202.11 216.27 L203.11 208.73 L204.12 201.12 L205.12 193.49 L206.12 185.92 L207.13 178.47 L208.13 171.2 L209.14 164.2 L210.14 157.53 L211.14 151.26 L212.15 145.47 L213.15 140.21 L214.16 135.55 L215.16 131.54 L216.16 128.23 L217.17 125.66 L218.17 123.86 L219.18 122.85 L220.18 122.65 L221.18 123.25 L222.19 124.66 L223.19 126.85 L224.2 129.79 L225.2 133.46 L226.2 137.8 L227.21 142.77 L228.21 148.3 L229.22 154.34 L230.22 160.82 L231.22 167.67 L232.23 174.81 L233.23 182.18 L234.24 189.7 L235.24 197.3 L236.24 204.93 L237.25 212.51 L238.25 220 L239.26 227.33 L240.26 234.46 L241.26 241.35 L242.27 247.96 L243.27 254.27 L244.28 260.26 L245.28 265.9 L246.28 271.19 L247.29 276.12 L248.29 280.68 L249.3 284.89 L250.3 288.76 L251.3 292.28 L252.31 295.47 L253.31 298.36 L254.32 300.95 L255.32 303.26 L256.32 305.32 L257.33 307.14 L258.33 308.75 L259.34 310.16 L260.34 311.38 L261.34 312.45 L262.35 313.37 L263.35 314.16 L264.36 314.83 L265.36 315.41 L266.36 315.9 L267.37 316.31 L268.37 316.66 L269.38 316.95 L270.38 317.19 L271.38 317.39 L272.39 317.55 L273.39 317.69 L274.4 317.8 L275.4 317.89" stroke="#00ff00" stroke-width="1.5" fill="none" stroke-linejoin="round" />
<path d="M49.5 174.24 L50.5 174.24 L51.51 174.24 L52.51 174.24 L53.52 174.24 L54.52 174.24 L55.52 174.24 L56.53 174.24 L57.53 174.24 L58.54 174.24 L59.54 174.24 L60.54 174.24 L61.55 174.24 L62.55 174.24 L63.56 174.24 L64.56 174.24 L65.56 174.24 L66.57 174.24 L67.57 174.24 L68.58 174.24 L69.58 174.24 L70.58 174.24 L71.59 174.24 L72.59 174.24 L73.6 174.24 L74.6 174.24 L75.6 174.24 L76.61 174.24 L77.61 174.24 L78.62 174.24 L79.62 174.24 L80.62 174.24 L81.63 174.24 L82.63 174.24 L83.64 174.24 L84.64 174.24 L85.64 174.24 L86.65 174.24 L87.65 174.24 L88.66 174.24 L89.66 174.24 L90.66 174.24 L91.67 174.24 L92.67 174.24 L93.68 174.24 L94.68 174.24 L95.68 174.24 L96.69 174.24 L97.69 174.24 L98.7 174.24 L99.7 174.24 L100.7 174.24 L101.71 174.24 L102.71 174.24 L103.72 174.24 L104.72 174.24 L105.72 174.24 L106.73 174.24 L107.73 174.24 L108.74 174.24 L109.74 174.24 L110.74 174.24 L111.75 174.24 L112.75 174.24 L113.76 174.24 L114.76 174.24 L115.76 174.24 L116.77 174.24 L117.77 174.24 L118.78 174.24 L119.78 174.24 L120.78 174.24 L121.79 174.24 L122.79 174.24 L123.8 174.24 L124.8 174.24 L125.8 174.24 L126.81 174.24 L127.81 174.24 L128.82 174.24 L129.82 174.24 L130.82 174.24 L131.83 174.24 L132.83 174.24 L133.84 174.24 L134.84 174.24 L135.84 174.24 L136.85 174.24 L137.85 174.24 L138.86 174.24 L139.86 174.24 L140.86 174.24 L141.87 174.24 L142.87 174.24 L143.88 174.24 L144.88 174.24 L145.88 174.24 L146.89 174.24 L147.89 174.24 L148.9 174.24 L149.9 174.24 L150.9 174.24 L151.91 174.24 L152.91 174.24 L153.92 174.24 L154.92 174.24 L155.92 174.24 L156.93 174.24 L157.93 174.24 L158.94 174.24 L159.94 174.24 L160.94 174.24 L161.95 174.24 L162.95 174.24 L163.96 174.24 L164.96 174.24 L165.96 174.24 L166.97 174.24 L167.97 174.24 L168.98 174.24 L169.98 174.24 L170.98 174.25 L171.99 174.25 L172.99 174.25 L174 174.25 L175 174.25 L176 174.25 L177.01 174.25 L178.01 174.25 L179.02 174.25 L180.02 174.25 L181.02 174.25 L182.03 174.25 L183.03 174.25 L184.04 174.25 L185.04 174.25 L186.04 174.25 L187.05 174.26 L188.05 174.26 L189.06 174.26 L190.06 174.26 L191.06 174.27 L192.07 174.27 L193.07 174.27 L194.08 174.28 L195.08 174.28 L196.08 174.29 L197.09 174.3 L198.09 174.31 L199.1 174.32 L200.1 174.33 L201.1 174.34 L202.11 174.36 L203.11 174.38 L204.12 174.4 L205.12 174.43 L206.12 174.46 L207.13 174.49 L208.13 174.54 L209.14 174.58 L210.14 174.64 L211.14 174.71 L212.15 174.78 L213.15 174.87 L214.16 174.97 L215.16 175.09 L216.16 175.23 L217.17 175.39 L218.17 175.58 L219.18 175.8 L220.18 176.05 L221.18 176.34 L222.19 176.68 L223.19 177.08 L224.2 177.53 L225.2 178.06 L226.2 178.67 L227.21 179.38 L228.21 180.19 L229.22 181.12 L230.22 182.19 L231.22 183.42 L232.23 184.82 L233.23 186.41 L234.24 188.22 L235.24 190.27 L236.24 192.57 L237.25 195.14 L238.25 198.01 L239.26 201.19 L240.26 204.68 L241.26 208.49 L242.27 212.61 L243.27 217.03 L244.28 221.72 L245.28 226.66 L246.28 231.8 L247.29 237.09 L248.29 242.47 L249.3 247.88 L250.3 253.26 L251.3 258.55 L252.31 263.68 L253.31 268.62 L254.32 273.32 L255.32 277.74 L256.32 281.86 L257.33 285.66 L258.33 289.16 L259.34 292.33 L260.34 295.2 L261.34 297.78 L262.35 300.08 L263.35 302.12 L264.36 303.93 L265.36 305.53 L266.36 306.93 L267.37 308.15 L268.37 309.22 L269.38 310.16 L270.38 310.97 L271.38 311.67 L272.39 312.28 L273.39 312.81 L274.4 313.27 L275.4 313.66" stroke="#ff0000" stroke-width="1" fill="none" stroke-linejoin="round" />
</g>
<line x1="48.6" y1="15.5" x2="48.6" y2="324.2" stroke="#262626" stroke-width="1.7" />
<line x1="47.8" y1="323.4" x2="271.5" y2="323.4" stroke="#262626" stroke-width="1.7" />
<line x1="48.6" y1="289.42" x2="52.4" y2="289.42" stroke="#262626" stroke-width="1.5" />
<line x1="48.6" y1="260.54" x2="52.4" y2="260.54" stroke="#262626" stroke-width="1.5" />
<line x1="48.6" y1="231.66" x2="52.4" y2="231.66" stroke="#262626" stroke-width="1.5" />
<line x1="48.6" y1="202.78" x2="52.4" y2="202.78" stroke="#262626" stroke-width="1.5" />
<line x1="48.6" y1="173.9" x2="52.4" y2="173.9" stroke="#262626" stroke-width="1.5" />
<line x1="48.6" y1="145.02" x2="52.4" y2="145.02" stroke="#262626" stroke-width="1.5" />
<line x1="48.6" y1="116.14" x2="52.4" y2="116.14" stroke="#262626" stroke-width="1.5" />
<line x1="48.6" y1="87.26" x2="52.4" y2="87.26" stroke="#262626" stroke-width="1.5" />
<line x1="48.6" y1="58.38" x2="52.4" y2="58.38" stroke="#262626" stroke-width="1.5" />
<g transform="translate(42.6,90.76)" fill="#1c1c1c" >
<text x="-19.08" y="0" font-size="12.42" textLength="19.08" lengthAdjust="spacingAndGlyphs">1.6</text>
</g>
<g transform="translate(42.6,148.52)" fill="#1c1c1c" >
<text x="-19.08" y="0" font-size="12.42" textLength="19.08" lengthAdjust="spacingAndGlyphs">1.2</text>
</g>
<g transform="translate(42.6,206.28)" fill="#1c1c1c" >
<text x="-19.08" y="0" font-size="12.42" textLength="19.08" lengthAdjust="spacingAndGlyphs">0.8</text>
</g>
<g transform="translate(42.6,264.04)" fill="#1c1c1c" >
<text x="-19.08" y="0" font-size="12.42" textLength="19.08" lengthAdjust="spacingAndGlyphs">0.4</text>
</g>
<g transform="translate(42.6,320.4)" fill="#1c1c1c" >
<text x="-7.63" y="0" font-size="12.42" textLength="7.63" lengthAdjust="spacingAndGlyphs">0</text>
</g>
<line x1="99.7" y1="323.4" x2="99.7" y2="319.2" stroke="#262626" stroke-width="1.5" />
<line x1="149.9" y1="323.4" x2="149.9" y2="319.2" stroke="#262626" stroke-width="1.5" />
<line x1="200.1" y1="323.4" x2="200.1" y2="319.2" stroke="#262626" stroke-width="1.5" />
<line x1="250.3" y1="323.4" x2="250.3" y2="319.2" stroke="#262626" stroke-width="1.5" />
<g transform="translate(96.5,334)" fill="#1c1c1c" >
<text x="-11.71" y="0" font-size="12.42" textLength="23.41" lengthAdjust="spacingAndGlyphs">-0.6</text>
</g>
<g transform="translate(146.7,334)" fill="#1c1c1c" >
<text x="-11.71" y="0" font-size="12.42" textLength="23.41" lengthAdjust="spacingAndGlyphs">-0.4</text>
</g>
<g transform="translate(196.9,334)" fill="#1c1c1c" >
<text x="-11.71" y="0" font-size="12.42" textLength="23.41" lengthAdjust="spacingAndGlyphs">-0.2</text>
</g>
<g transform="translate(250.3,334)" fill="#1c1c1c" >
<text x="-3.82" y="0" font-size="12.42" textLength="7.63" lengthAdjust="spacingAndGlyphs">0</text>
</g>
<g transform="translate(22.6,21.2)" fill="#1c1c1c" >
<text x="-3.68" y="0" font-size="12.42" textLength="7.35" lengthAdjust="spacingAndGlyphs">a</text>
</g>
<g transform="translate(12.7,185.2) rotate(-90)" fill="#1c1c1c" >
<text x="-62.3" y="0" font-size="12.42" textLength="124.6" lengthAdjust="spacingAndGlyphs">Intensity [arb. units]</text>
</g>
<g transform="translate(170.8,346.6)" fill="#1c1c1c" >
<text x="-32.17" y="0" font-size="12.42" textLength="19.5" lengthAdjust="spacingAndGlyphs">E-E</text>
<text x="-12.67" y="3.96" font-size="8.69" textLength="4.83" lengthAdjust="spacingAndGlyphs">F</text>
<text x="-12.67" y="-3.72" font-size="8.69" textLength="15.71" lengthAdjust="spacingAndGlyphs">PES</text>
<text x="7.21" y="0" font-size="12.42" textLength="24.96" lengthAdjust="spacingAndGlyphs">[eV]</text>
</g>
<g transform="translate(69.1,166.8)" fill="#ff0000" >
<text x="0" y="0" font-size="15.84" textLength="5.39" lengthAdjust="spacingAndGlyphs">f</text>
<text x="5.39" y="2.6" font-size="11.08" textLength="6.81" lengthAdjust="spacingAndGlyphs">0</text>
</g>
<g transform="translate(168.5,162.6)" fill="#0000ff" >
<text x="0" y="0" font-size="15.84" textLength="9.71" lengthAdjust="spacingAndGlyphs">p</text>
<text x="9.71" y="2.6" font-size="11.08" textLength="6.81" lengthAdjust="spacingAndGlyphs">2</text>
</g>
<g transform="translate(173.4,268)" fill="#00ff00" >
<text x="0" y="0" font-size="15.84" textLength="9.71" lengthAdjust="spacingAndGlyphs">p</text>
<text x="9.71" y="2.6" font-size="11.08" textLength="6.81" lengthAdjust="spacingAndGlyphs">1</text>
</g>
<rect x="78" y="14" width="120" height="74.2" fill="#fff"/>
<clipPath id="cai"><rect x="78" y="14" width="120" height="74"/></clipPath>
<g clip-path="url(#cai)">
<path d="M89.3 88 L89.3 17.12 L90.37 21.93 L91.44 26.41 L92.51 30.58 L93.58 34.47 L94.65 38.1 L95.72 41.48 L96.79 44.63 L97.86 47.57 L98.93 50.31 L100 52.87 L101.07 55.25 L102.14 57.47 L103.21 59.54 L104.28 61.47 L105.35 63.26 L106.42 64.94 L107.49 66.5 L108.56 67.96 L109.63 69.32 L110.7 70.58 L111.77 71.76 L112.84 72.86 L113.91 73.89 L114.98 74.85 L116.05 75.74 L117.12 76.57 L118.19 77.34 L119.26 78.07 L120.33 78.74 L121.4 79.37 L122.47 79.95 L123.54 80.5 L124.61 81.01 L125.68 81.48 L126.75 81.92 L127.82 82.33 L128.89 82.72 L129.96 83.08 L131.03 83.41 L132.1 83.72 L133.17 84.01 L134.24 84.28 L135.31 84.53 L136.38 84.77 L137.45 84.99 L138.52 85.19 L139.59 85.38 L140.66 85.56 L141.73 85.72 L142.8 85.88 L143.87 86.02 L144.94 86.16 L146.01 86.28 L147.08 86.4 L148.15 86.51 L149.22 86.61 L150.29 86.7 L151.36 86.79 L152.43 86.87 L153.5 86.95 L154.57 87.02 L155.64 87.09 L156.71 87.15 L157.78 87.21 L158.85 87.26 L159.92 87.31 L160.99 87.36 L162.06 87.4 L163.13 87.44 L164.2 87.48 L165.27 87.51 L166.34 87.55 L167.41 87.58 L168.48 87.61 L169.55 87.63 L170.62 87.66 L171.69 87.68 L172.76 87.7 L173.83 87.72 L174.9 87.74 L175.97 87.76 L177.04 87.78 L178.11 87.79 L179.18 87.8 L180.25 87.82 L181.32 87.83 L182.39 87.84 L183.46 87.85 L184.53 87.86 L185.6 87.87 L186.67 87.88 L187.74 87.89 L188.81 87.9 L189.88 87.9 L190.95 87.91 L192.02 87.92 L193.09 87.92 L194.16 87.93 L195.23 87.93 L196.3 87.94 L196.3 88Z" stroke="none" stroke-width="0" fill="#66ff66" stroke-linejoin="round" />
<path d="M89.3 88 L89.3 17.12 L90.37 22.33 L91.44 27.16 L92.51 31.63 L93.58 35.77 L94.65 39.61 L95.72 43.17 L96.79 46.46 L97.86 49.52 L98.93 52.34 L100 54.97 L101.07 57.39 L102.14 59.64 L103.21 61.73 L104.28 63.66 L105.35 65.45 L106.42 67.1 L107.49 68.64 L108.56 70.06 L109.63 71.38 L110.7 72.6 L111.77 73.73 L112.84 74.78 L113.91 75.75 L114.98 76.65 L116.05 77.49 L117.12 78.26 L118.19 78.98 L119.26 79.64 L120.33 80.25 L121.4 80.82 L122.47 81.35 L123.54 81.84 L124.61 82.29 L125.68 82.71 L126.75 83.1 L127.82 83.46 L128.89 83.79 L129.96 84.1 L131.03 84.39 L132.1 84.65 L133.17 84.9 L134.24 85.13 L135.31 85.34 L136.38 85.54 L137.45 85.72 L138.52 85.88 L139.59 86.04 L140.66 86.18 L141.73 86.32 L142.8 86.44 L143.87 86.56 L144.94 86.66 L146.01 86.76 L147.08 86.85 L148.15 86.94 L149.22 87.01 L150.29 87.09 L151.36 87.15 L152.43 87.22 L153.5 87.27 L154.57 87.33 L155.64 87.38 L156.71 87.42 L157.78 87.46 L158.85 87.5 L159.92 87.54 L160.99 87.57 L162.06 87.61 L163.13 87.63 L164.2 87.66 L165.27 87.69 L166.34 87.71 L167.41 87.73 L168.48 87.75 L169.55 87.77 L170.62 87.79 L171.69 87.8 L172.76 87.82 L173.83 87.83 L174.9 87.84 L175.97 87.85 L177.04 87.86 L178.11 87.87 L179.18 87.88 L180.25 87.89 L181.32 87.9 L182.39 87.91 L183.46 87.91 L184.53 87.92 L185.6 87.93 L186.67 87.93 L187.74 87.94 L188.81 87.94 L189.88 87.95 L190.95 87.95 L192.02 87.95 L193.09 87.96 L194.16 87.96 L195.23 87.96 L196.3 87.97 L196.3 88Z" stroke="none" stroke-width="0" fill="#00ff00" stroke-linejoin="round" />
<path d="M77.53 66.43 L79.67 67.37 L81.81 68.27 L83.95 69.13 L86.09 69.96 L88.23 70.74 L90.37 71.5 L92.51 72.21 L94.65 72.9 L96.79 73.56 L98.93 74.18 L101.07 74.78 L103.21 75.36 L105.35 75.9 L107.49 76.42 L109.63 76.92 L111.77 77.4 L113.91 77.86 L116.05 78.29 L118.19 78.71 L120.33 79.11 L122.47 79.49 L124.61 79.85 L126.75 80.2 L128.89 80.53 L131.03 80.85 L133.17 81.15 L135.31 81.44 L137.45 81.72 L139.59 81.98 L141.73 82.23 L143.87 82.47 L146.01 82.7 L148.15 82.92 L150.29 83.13 L152.43 83.34 L154.57 83.53 L156.71 83.71 L158.85 83.89 L160.99 84.06 L163.13 84.22 L165.27 84.37 L167.41 84.52 L169.55 84.66 L171.69 84.79 L173.83 84.92 L175.97 85.04 L178.11 85.16 L180.25 85.27 L182.39 85.37 L184.53 85.47 L186.67 85.57 L188.81 85.66 L190.95 85.75 L193.09 85.84 L195.23 85.92 L197.37 86" stroke="#0000ff" stroke-width="1.2" fill="none" stroke-linejoin="round" />
</g>
<line x1="78" y1="14.5" x2="78" y2="88.8" stroke="#262626" stroke-width="1.3" />
<line x1="77.4" y1="88.2" x2="198" y2="88.2" stroke="#262626" stroke-width="1.3" />
<line x1="78" y1="88" x2="80.5" y2="88" stroke="#1a1a1a" stroke-width="1" />
<line x1="78" y1="76.75" x2="80.5" y2="76.75" stroke="#1a1a1a" stroke-width="1" />
<line x1="78" y1="65.5" x2="80.5" y2="65.5" stroke="#1a1a1a" stroke-width="1" />
<line x1="78" y1="54.25" x2="80.5" y2="54.25" stroke="#1a1a1a" stroke-width="1" />
<line x1="78" y1="43" x2="80.5" y2="43" stroke="#1a1a1a" stroke-width="1" />
<line x1="78" y1="31.75" x2="80.5" y2="31.75" stroke="#1a1a1a" stroke-width="1" />
<line x1="78" y1="20.5" x2="80.5" y2="20.5" stroke="#1a1a1a" stroke-width="1" />
<g transform="translate(76.9,90.3)" fill="#1c1c1c" >
<text x="-6.11" y="0" font-size="9.94" textLength="6.11" lengthAdjust="spacingAndGlyphs">0</text>
</g>
<g transform="translate(76.9,67.8)" fill="#1c1c1c" >
<text x="-6.11" y="0" font-size="9.94" textLength="6.11" lengthAdjust="spacingAndGlyphs">2</text>
</g>
<g transform="translate(76.9,45.3)" fill="#1c1c1c" >
<text x="-6.11" y="0" font-size="9.94" textLength="6.11" lengthAdjust="spacingAndGlyphs">4</text>
</g>
<g transform="translate(76.9,22.8)" fill="#1c1c1c" >
<text x="-6.11" y="0" font-size="9.94" textLength="6.11" lengthAdjust="spacingAndGlyphs">6</text>
</g>
<line x1="89.3" y1="88.2" x2="89.3" y2="85.7" stroke="#1a1a1a" stroke-width="1" />
<line x1="100" y1="88.2" x2="100" y2="85.7" stroke="#1a1a1a" stroke-width="1" />
<line x1="110.7" y1="88.2" x2="110.7" y2="85.7" stroke="#1a1a1a" stroke-width="1" />
<line x1="121.4" y1="88.2" x2="121.4" y2="85.7" stroke="#1a1a1a" stroke-width="1" />
<line x1="132.1" y1="88.2" x2="132.1" y2="85.7" stroke="#1a1a1a" stroke-width="1" />
<line x1="142.8" y1="88.2" x2="142.8" y2="85.7" stroke="#1a1a1a" stroke-width="1" />
<line x1="153.5" y1="88.2" x2="153.5" y2="85.7" stroke="#1a1a1a" stroke-width="1" />
<line x1="164.2" y1="88.2" x2="164.2" y2="85.7" stroke="#1a1a1a" stroke-width="1" />
<line x1="174.9" y1="88.2" x2="174.9" y2="85.7" stroke="#1a1a1a" stroke-width="1" />
<line x1="185.6" y1="88.2" x2="185.6" y2="85.7" stroke="#1a1a1a" stroke-width="1" />
<g transform="translate(89.3,98.9)" fill="#1c1c1c" >
<text x="-3.05" y="0" font-size="9.94" textLength="6.11" lengthAdjust="spacingAndGlyphs">0</text>
</g>
<g transform="translate(121.4,98.9)" fill="#1c1c1c" >
<text x="-10.69" y="0" font-size="9.94" textLength="21.38" lengthAdjust="spacingAndGlyphs">0.06</text>
</g>
<g transform="translate(153.5,98.9)" fill="#1c1c1c" >
<text x="-10.69" y="0" font-size="9.94" textLength="21.38" lengthAdjust="spacingAndGlyphs">0.12</text>
</g>
<g transform="translate(185.6,98.9)" fill="#1c1c1c" >
<text x="-10.69" y="0" font-size="9.94" textLength="21.38" lengthAdjust="spacingAndGlyphs">0.18</text>
</g>
<g transform="translate(64.6,54.4) rotate(-90)" fill="#1c1c1c" >
<text x="-48.4" y="0" font-size="10.35" textLength="69.42" lengthAdjust="spacingAndGlyphs">Norm. Int. [10</text>
<text x="21.02" y="-3.7" font-size="7.24" textLength="6.94" lengthAdjust="spacingAndGlyphs">-3</text>
<text x="28.25" y="0" font-size="10.35" textLength="20.15" lengthAdjust="spacingAndGlyphs">/eV]</text>
</g>
<g transform="translate(110.5,109.2)" fill="#1c1c1c" >
<text x="-26.27" y="0" font-size="10.14" textLength="15.92" lengthAdjust="spacingAndGlyphs">E-E</text>
<text x="-10.35" y="3.23" font-size="7.1" textLength="3.95" lengthAdjust="spacingAndGlyphs">F</text>
<text x="-10.35" y="-3.04" font-size="7.1" textLength="12.83" lengthAdjust="spacingAndGlyphs">PES</text>
<text x="5.89" y="0" font-size="10.14" textLength="20.38" lengthAdjust="spacingAndGlyphs">[eV]</text>
</g>
<g transform="translate(81,12.8)" fill="#00ff00" >
<text x="0" y="0" font-size="15.52" textLength="10.14" lengthAdjust="spacingAndGlyphs">p</text>
<text x="10.14" y="2.55" font-size="10.87" textLength="39.88" lengthAdjust="spacingAndGlyphs">1,norm</text>
</g>
<g transform="translate(125.3,53.8)" fill="#00ff00" >
<text x="0" y="0" font-size="15.84" textLength="10.09" lengthAdjust="spacingAndGlyphs">&#945;</text>
<text x="10.09" y="2.6" font-size="11.08" textLength="6.81" lengthAdjust="spacingAndGlyphs">1</text>
</g>
<g transform="translate(144.6,79)" fill="#0000ff" >
<text x="0" y="0" font-size="15.52" textLength="10.14" lengthAdjust="spacingAndGlyphs">p</text>
<text x="10.14" y="2.55" font-size="10.87" textLength="39.88" lengthAdjust="spacingAndGlyphs">2,norm</text>
</g>
<line x1="124.6" y1="53.6" x2="108.5" y2="61.4" stroke="#00ff00" stroke-width="2.8" />
<path d="M104.6 63.3 L114.2 54.6 L111.5 60 L116.6 63.6 Z" fill="#00ff00"/>
<g shape-rendering="crispEdges">
<rect x="304.6" y="12.6" width="164.8" height="2.3" fill="url(#b0)"/>
<rect x="304.6" y="14.6" width="164.8" height="2.3" fill="url(#b1)"/>
<rect x="304.6" y="16.6" width="164.8" height="2.3" fill="url(#b2)"/>
<rect x="304.6" y="18.6" width="164.8" height="2.3" fill="url(#b3)"/>
<rect x="304.6" y="20.6" width="164.8" height="2.3" fill="url(#b4)"/>
<rect x="304.6" y="22.6" width="164.8" height="2.3" fill="url(#b5)"/>
<rect x="304.6" y="24.6" width="164.8" height="2.3" fill="url(#b6)"/>
<rect x="304.6" y="26.6" width="164.8" height="2.3" fill="url(#b7)"/>
<rect x="304.6" y="28.6" width="164.8" height="2.3" fill="url(#b8)"/>
<rect x="304.6" y="30.6" width="164.8" height="2.3" fill="url(#b9)"/>
<rect x="304.6" y="32.6" width="164.8" height="2.3" fill="url(#b10)"/>
<rect x="304.6" y="34.6" width="164.8" height="2.3" fill="url(#b11)"/>
<rect x="304.6" y="36.6" width="164.8" height="2.3" fill="url(#b12)"/>
<rect x="304.6" y="38.6" width="164.8" height="2.3" fill="url(#b13)"/>
<rect x="304.6" y="40.6" width="164.8" height="2.3" fill="url(#b14)"/>
<rect x="304.6" y="42.6" width="164.8" height="2.3" fill="url(#b15)"/>
<rect x="304.6" y="44.6" width="164.8" height="2.3" fill="url(#b16)"/>
<rect x="304.6" y="46.6" width="164.8" height="2.3" fill="url(#b17)"/>
<rect x="304.6" y="48.6" width="164.8" height="2.3" fill="url(#b18)"/>
<rect x="304.6" y="50.6" width="164.8" height="2.3" fill="url(#b19)"/>
<rect x="304.6" y="52.6" width="164.8" height="2.3" fill="url(#b20)"/>
<rect x="304.6" y="54.6" width="164.8" height="2.3" fill="url(#b21)"/>
<rect x="304.6" y="56.6" width="164.8" height="2.3" fill="url(#b22)"/>
<rect x="304.6" y="58.6" width="164.8" height="2.3" fill="url(#b23)"/>
<rect x="304.6" y="60.6" width="164.8" height="2.3" fill="url(#b24)"/>
<rect x="304.6" y="62.6" width="164.8" height="2.3" fill="url(#b25)"/>
<rect x="304.6" y="64.6" width="164.8" height="2.3" fill="url(#b26)"/>
<rect x="304.6" y="66.6" width="164.8" height="2.3" fill="url(#b27)"/>
<rect x="304.6" y="68.6" width="164.8" height="2.3" fill="url(#b28)"/>
<rect x="304.6" y="70.6" width="164.8" height="2.3" fill="url(#b29)"/>
<rect x="304.6" y="72.6" width="164.8" height="2.3" fill="url(#b30)"/>
<rect x="304.6" y="74.6" width="164.8" height="2.3" fill="url(#b31)"/>
<rect x="304.6" y="76.6" width="164.8" height="2.3" fill="url(#b32)"/>
<rect x="304.6" y="78.6" width="164.8" height="2.3" fill="url(#b33)"/>
<rect x="304.6" y="80.6" width="164.8" height="2.3" fill="url(#b34)"/>
<rect x="304.6" y="82.6" width="164.8" height="2.3" fill="url(#b35)"/>
<rect x="304.6" y="84.6" width="164.8" height="2.3" fill="url(#b36)"/>
<rect x="304.6" y="86.6" width="164.8" height="2.3" fill="url(#b37)"/>
<rect x="304.6" y="88.6" width="164.8" height="2.3" fill="url(#b38)"/>
<rect x="304.6" y="90.6" width="164.8" height="2.3" fill="url(#b39)"/>
<rect x="304.6" y="92.6" width="164.8" height="2.3" fill="url(#b40)"/>
<rect x="304.6" y="94.6" width="164.8" height="2.3" fill="url(#b41)"/>
<rect x="304.6" y="96.6" width="164.8" height="2.3" fill="url(#b42)"/>
<rect x="304.6" y="98.6" width="164.8" height="2.3" fill="url(#b43)"/>
<rect x="304.6" y="100.6" width="164.8" height="2.3" fill="url(#b44)"/>
<rect x="304.6" y="102.6" width="164.8" height="2.3" fill="url(#b45)"/>
<rect x="304.6" y="104.6" width="164.8" height="2.3" fill="url(#b46)"/>
<rect x="304.6" y="106.6" width="164.8" height="2.3" fill="url(#b47)"/>
<rect x="304.6" y="108.6" width="164.8" height="2.3" fill="url(#b48)"/>
<rect x="304.6" y="110.6" width="164.8" height="2.3" fill="url(#b49)"/>
<rect x="304.6" y="112.6" width="164.8" height="2.3" fill="url(#b50)"/>
<rect x="304.6" y="114.6" width="164.8" height="2.3" fill="url(#b51)"/>
<rect x="304.6" y="116.6" width="164.8" height="2.3" fill="url(#b52)"/>
<rect x="304.6" y="118.6" width="164.8" height="2.3" fill="url(#b53)"/>
<rect x="304.6" y="120.6" width="164.8" height="2.3" fill="url(#b54)"/>
<rect x="304.6" y="122.6" width="164.8" height="2.3" fill="url(#b55)"/>
<rect x="304.6" y="124.6" width="164.8" height="2.3" fill="url(#b56)"/>
<rect x="304.6" y="126.6" width="164.8" height="2.3" fill="url(#b57)"/>
<rect x="304.6" y="128.6" width="164.8" height="2.3" fill="url(#b58)"/>
<rect x="304.6" y="130.6" width="164.8" height="2.3" fill="url(#b59)"/>
<rect x="304.6" y="132.6" width="164.8" height="2.3" fill="url(#b60)"/>
<rect x="304.6" y="134.6" width="164.8" height="2.3" fill="url(#b61)"/>
<rect x="304.6" y="136.6" width="164.8" height="2.3" fill="url(#b62)"/>
<rect x="304.6" y="138.6" width="164.8" height="2.3" fill="url(#b63)"/>
<rect x="304.6" y="140.6" width="164.8" height="2.3" fill="url(#b64)"/>
<rect x="304.6" y="142.6" width="164.8" height="2.3" fill="url(#b65)"/>
<rect x="304.6" y="144.6" width="164.8" height="2.3" fill="url(#b66)"/>
<rect x="304.6" y="146.6" width="164.8" height="2.3" fill="url(#b67)"/>
<rect x="304.6" y="148.6" width="164.8" height="2.3" fill="url(#b68)"/>
<rect x="304.6" y="150.6" width="164.8" height="2.3" fill="url(#b69)"/>
<rect x="304.6" y="152.6" width="164.8" height="0.5" fill="url(#b70)"/>
</g>
<rect x="304.6" y="37" width="164.8" height="116.1" filter="url(#nz)" opacity="0.42" style="mix-blend-mode:soft-light"/>
<rect x="304.6" y="12.6" width="164.8" height="140.5" fill="none" stroke="#000" stroke-width="1.8"/>
<line x1="304.6" y1="68.3" x2="312.6" y2="68.3" stroke="#000" stroke-width="1.7" />
<line x1="469.4" y1="68.3" x2="461.4" y2="68.3" stroke="#000" stroke-width="1.7" />
<line x1="304.6" y1="104.6" x2="312.6" y2="104.6" stroke="#000" stroke-width="1.7" />
<line x1="469.4" y1="104.6" x2="461.4" y2="104.6" stroke="#000" stroke-width="1.7" />
<line x1="304.6" y1="140.9" x2="312.6" y2="140.9" stroke="#000" stroke-width="1.7" />
<line x1="469.4" y1="140.9" x2="461.4" y2="140.9" stroke="#000" stroke-width="1.7" />
<line x1="371" y1="153.1" x2="371" y2="146.1" stroke="#000" stroke-width="1.7" />
<line x1="437.2" y1="153.1" x2="437.2" y2="146.1" stroke="#000" stroke-width="1.7" />
<line x1="305.5" y1="31.6" x2="468.5" y2="31.6" stroke="#fff" stroke-width="1.9" stroke-dasharray="6.8 5.2" stroke-dashoffset="4.5"/>
<clipPath id="cb"><rect x="304.6" y="12.6" width="164.8" height="140.5"/></clipPath>
<g clip-path="url(#cb)">
<path d="M304.6 75.84 L306.6 74.77 L308.6 73.72 L310.6 72.69 L312.6 71.7 L314.6 70.73 L316.6 69.79 L318.6 68.87 L320.6 67.98 L322.6 67.12 L324.6 66.29 L326.6 65.48 L328.6 64.7 L330.6 63.94 L332.6 63.22 L334.6 62.52 L336.6 61.84 L338.6 61.19 L340.6 60.57 L342.6 59.98 L344.6 59.41 L346.6 58.87 L348.6 58.36 L350.6 57.87 L352.6 57.41 L354.6 56.98 L356.6 56.58 L358.6 56.2 L360.6 55.84 L362.6 55.52 L364.6 55.22 L366.6 54.95 L368.6 54.7 L370.6 54.48 L372.6 54.29 L374.6 54.13 L376.6 53.99 L378.6 53.88 L380.6 53.79 L382.6 53.74 L384.6 53.71 L386.6 53.7 L388.6 53.72 L390.6 53.77 L392.6 53.85 L394.6 53.95 L396.6 54.08 L398.6 54.24 L400.6 54.42 L402.6 54.63 L404.6 54.87 L406.6 55.14 L408.6 55.43 L410.6 55.74 L412.6 56.09 L414.6 56.46 L416.6 56.86 L418.6 57.28 L420.6 57.73 L422.6 58.21 L424.6 58.72 L426.6 59.25 L428.6 59.81 L430.6 60.39 L432.6 61.01 L434.6 61.65 L436.6 62.31 L438.6 63 L440.6 63.72 L442.6 64.47 L444.6 65.24 L446.6 66.04 L448.6 66.87 L450.6 67.72 L452.6 68.6 L454.6 69.51 L456.6 70.44 L458.6 71.41 L460.6 72.39 L462.6 73.41 L464.6 74.45 L466.6 75.52 L468.6 76.61 L470.6 77.73" stroke="#00ff00" stroke-width="1.75" fill="none" stroke-linejoin="round" />
<path d="M304.5 64.2 L306.5 63.2 L308.8 62.8 L313 63.6 L318.1 64.9 L321.6 66 L326 65 L326.6 65.05 L328.6 64.83 L330.6 64.29 L332.6 63.04 L334.6 62.05 L336.6 61.82 L338.6 61.36 L340.6 60.96 L342.6 59.56 L344.6 58.96 L346.6 59.12 L348.6 58.53 L350.6 58.41 L352.6 57.76 L354.6 56.95 L356.6 56.48 L358.6 57.1 L360.6 55.74 L362.6 55.24 L364.6 54.82 L366.6 54.98 L368.6 54.75 L370.6 54.36 L372.6 54.27 L374.6 54.22 L376.6 54.23 L378.6 54.26 L380.6 53.87 L382.6 53.11 L384.6 53.95 L386.6 53.2 L388.6 53.66 L390.6 53.26 L392.6 53.85 L394.6 53.68 L396.6 54.16 L398.6 55.4 L400.6 54.41 L402.6 54.93 L404.6 54.41 L406.6 55.03 L408.6 55.66 L410.6 55.71 L412.6 56.22 L414.6 56.5 L416.6 56.51 L418.6 57.48 L420.6 57.45 L422.6 58.87 L424.6 58.54 L426.6 59.49 L428.6 59.81 L430.6 60.73 L432.6 60.8 L434.6 61.99 L436.6 62.27 L438.6 63.45 L440.6 63.94 L442.6 64.52 L444.6 64.97 L446.6 67.51 L448.6 68.23 L450.6 69.5 L452.6 68.47 L454.6 69.71 L456.6 70.62 L458.6 71.5 L460.6 72.47 L462.6 73.47 L464.6 74.24 L466.6 75.16 L468.6 76.47 L470.6 77.94" stroke="#00ff00" stroke-width="1.2" fill="none" stroke-linejoin="round" />
<path d="M303 101 L303.7 100.97 L304.4 100.94 L305.1 100.9 L305.8 100.87 L306.5 100.84 L307.2 100.81 L307.9 100.78 L308.6 100.75 L309.3 100.72 L310 100.69 L310.7 100.66 L311.4 100.63 L312.1 100.6 L312.8 100.57 L313.5 100.54 L314.2 100.51 L314.9 100.48 L315.6 100.45 L316.3 100.42 L317 100.39 L317.7 100.37 L318.4 100.34 L319.1 100.31 L319.8 100.28 L320.5 100.26 L321.2 100.23 L321.9 100.2 L322.6 100.18 L323.3 100.15 L324 100.13 L324.7 100.1 L325.4 100.08 L326.1 100.05 L326.8 100.03 L327.5 100.01 L328.2 99.98 L328.9 99.96 L329.6 99.94 L330.3 99.92 L331 99.9 L331.7 99.88 L332.4 99.86 L333.1 99.84 L333.8 99.82 L334.5 99.8 L335.2 99.78 L335.9 99.76 L336.6 99.74 L337.3 99.73 L338 99.71 L338.7 99.69 L339.4 99.68 L340.1 99.66 L340.8 99.65 L341.5 99.64 L342.2 99.62 L342.9 99.61 L343.6 99.6 L344.3 99.58 L345 99.57 L345.7 99.56 L346.4 99.55 L347.1 99.54 L347.8 99.52 L348.5 99.51 L349.2 99.5 L349.9 99.49 L350.6 99.48 L351.3 99.46 L352 99.45 L352.7 99.44 L353.4 99.43 L354.1 99.42 L354.8 99.41 L355.5 99.4 L356.2 99.38 L356.9 99.37 L357.6 99.36 L358.3 99.35 L359 99.34 L359.7 99.33 L360.4 99.32 L361.1 99.31 L361.8 99.3 L362.5 99.29 L363.2 99.28 L363.9 99.27 L364.6 99.26 L365.3 99.25 L366 99.24 L366.7 99.24 L367.4 99.23 L368.1 99.22 L368.8 99.21 L369.5 99.2 L370.2 99.2 L370.9 99.19 L371.6 99.18 L372.3 99.17 L373 99.17 L373.7 99.16 L374.4 99.16 L375.1 99.15 L375.8 99.14 L376.5 99.14 L377.2 99.13 L377.9 99.13 L378.6 99.12 L379.3 99.12 L380 99.12 L380.7 99.11 L381.4 99.11 L382.1 99.11 L382.8 99.11 L383.5 99.1 L384.2 99.1 L384.9 99.1 L385.6 99.1 L386.3 99.1 L387 99.1 L387.7 99.1 L388.4 99.11 L389.1 99.11 L389.8 99.12 L390.5 99.13 L391.2 99.15 L391.9 99.16 L392.6 99.18 L393.3 99.2 L394 99.22 L394.7 99.25 L395.4 99.27 L396.1 99.3 L396.8 99.33 L397.5 99.36 L398.2 99.39 L398.9 99.42 L399.6 99.46 L400.3 99.49 L401 99.53 L401.7 99.57 L402.4 99.61 L403.1 99.65 L403.8 99.69 L404.5 99.74 L405.2 99.78 L405.9 99.83 L406.6 99.87 L407.3 99.92 L408 99.97 L408.7 100.01 L409.4 100.07 L410.1 100.14 L410.8 100.21 L411.5 100.3 L412.2 100.39 L412.9 100.49 L413.6 100.6 L414.3 100.72 L415 100.84 L415.7 100.97 L416.4 101.1 L417.1 101.24 L417.8 101.39 L418.5 101.54 L419.2 101.69 L419.9 101.85 L420.6 102.01 L421.3 102.18 L422 102.34 L422.7 102.51 L423.4 102.68 L424.1 102.85 L424.8 103.02 L425.5 103.19 L426.2 103.36 L426.9 103.53 L427.6 103.7 L428.3 103.86 L429 104.03 L429.7 104.19 L430.4 104.35 L431.1 104.5 L431.8 104.67 L432.5 104.83 L433.2 104.99 L433.9 105.16 L434.6 105.33 L435.3 105.5 L436 105.68 L436.7 105.85 L437.4 106.03 L438.1 106.21 L438.8 106.39 L439.5 106.57 L440.2 106.75 L440.9 106.93 L441.6 107.12 L442.3 107.3 L443 107.49 L443.7 107.68 L444.4 107.87 L445.1 108.06 L445.8 108.25 L446.5 108.44 L447.2 108.63 L447.9 108.82 L448.6 109.02 L449.3 109.21 L450 109.4 L450.7 109.6 L451.4 109.79 L452.1 109.98 L452.8 110.18 L453.5 110.37 L454.2 110.57 L454.9 110.77 L455.6 110.97 L456.3 111.17 L457 111.38 L457.7 111.58 L458.4 111.79 L459.1 111.99 L459.8 112.2 L460.5 112.41 L461.2 112.62 L461.9 112.83 L462.6 113.04 L463.3 113.25 L464 113.46 L464.7 113.67 L465.4 113.88 L466.1 114.09 L466.8 114.3 L467.5 114.52 L468.2 114.73 L468.9 114.95 L469.6 115.16 L470.3 115.38 L471 115.6" stroke="#0000ff" stroke-width="1.5" fill="none" stroke-linejoin="round" />
<path d="M303 101.9 L303.7 101.84 L304.4 101.78 L305.1 101.72 L305.8 101.67 L306.5 101.63 L307.2 101.6 L307.9 101.56 L308.6 101.53 L309.3 101.5 L310 101.47 L310.7 101.44 L311.4 101.4 L312.1 101.36 L312.8 101.31 L313.5 101.26 L314.2 101.19 L314.9 101.11 L315.6 101.02 L316.3 100.92 L317 100.82 L317.7 100.71 L318.4 100.61 L319.1 100.51 L319.8 100.41 L320.5 100.32 L321.2 100.25 L321.9 100.18 L322.6 100.12 L323.3 100.06 L324 99.99 L324.7 99.93 L325.4 99.87 L326.1 99.81 L326.8 99.76 L327.5 99.7 L328.2 99.66 L328.9 99.61 L329.6 99.57 L330.3 99.54 L331 99.52 L331.7 99.51 L332.4 99.5 L333.1 99.51 L333.8 99.56 L334.5 99.62 L335.2 99.69 L335.9 99.77 L336.6 99.84 L337.3 99.88 L338 99.9 L338.7 99.86 L339.4 99.77 L340.1 99.63 L340.8 99.48 L341.5 99.33 L342.2 99.2 L342.9 99.12 L343.6 99.1 L344.3 99.15 L345 99.24 L345.7 99.36 L346.4 99.49 L347.1 99.61 L347.8 99.72 L348.5 99.78 L349.2 99.8 L349.9 99.77 L350.6 99.72 L351.3 99.66 L352 99.59 L352.7 99.51 L353.4 99.45 L354.1 99.4 L354.8 99.37 L355.5 99.34 L356.2 99.32 L356.9 99.29 L357.6 99.26 L358.3 99.23 L359 99.21 L359.7 99.19 L360.4 99.17 L361.1 99.15 L361.8 99.13 L362.5 99.12 L363.2 99.11 L363.9 99.1 L364.6 99.1 L365.3 99.1 L366 99.14 L366.7 99.2 L367.4 99.28 L368.1 99.36 L368.8 99.45 L369.5 99.52 L370.2 99.58 L370.9 99.6 L371.6 99.57 L372.3 99.47 L373 99.32 L373.7 99.15 L374.4 98.99 L375.1 98.87 L375.8 98.8 L376.5 98.81 L377.2 98.85 L377.9 98.92 L378.6 99 L379.3 99.09 L380 99.17 L380.7 99.24 L381.4 99.29 L382.1 99.3 L382.8 99.27 L383.5 99.19 L384.2 99.09 L384.9 98.98 L385.6 98.86 L386.3 98.76 L387 98.68 L387.7 98.61 L388.4 98.53 L389.1 98.45 L389.8 98.38 L390.5 98.3 L391.2 98.23 L391.9 98.17 L392.6 98.11 L393.3 98.07 L394 98.03 L394.7 98.01 L395.4 98 L396.1 98.02 L396.8 98.06 L397.5 98.12 L398.2 98.19 L398.9 98.27 L399.6 98.35 L400.3 98.42 L401 98.47 L401.7 98.5 L402.4 98.49 L403.1 98.42 L403.8 98.29 L404.5 98.14 L405.2 97.96 L405.9 97.79 L406.6 97.63 L407.3 97.5 L408 97.42 L408.7 97.4 L409.4 97.45 L410.1 97.55 L410.8 97.69 L411.5 97.85 L412.2 98.04 L412.9 98.23 L413.6 98.49 L414.3 98.85 L415 99.27 L415.7 99.71 L416.4 100.15 L417.1 100.54 L417.8 100.86 L418.5 101.09 L419.2 101.26 L419.9 101.42 L420.6 101.56 L421.3 101.69 L422 101.8 L422.7 101.92 L423.4 102.04 L424.1 102.18 L424.8 102.32 L425.5 102.5 L426.2 102.71 L426.9 102.93 L427.6 103.14 L428.3 103.34 L429 103.49 L429.7 103.58 L430.4 103.57 L431.1 103.07 L431.8 102.33 L432.5 101.77 L433.2 101.82 L433.9 102.43 L434.6 103.3 L435.3 104.08 L436 104.52 L436.7 104.87 L437.4 105.16 L438.1 105.42 L438.8 105.66 L439.5 105.91 L440.2 106.16 L440.9 106.45 L441.6 106.81 L442.3 107.25 L443 107.73 L443.7 108.21 L444.4 108.65 L445.1 109 L445.8 109.23 L446.5 109.3 L447.2 109.14 L447.9 108.81 L448.6 108.4 L449.3 107.99 L450 107.66 L450.7 107.3 L451.4 106.93 L452.1 106.64 L452.8 106.5 L453.5 106.57 L454.2 106.79 L454.9 107.12 L455.6 107.49 L456.3 107.85 L457 108.22 L457.7 108.62 L458.4 109.07 L459.1 109.54 L459.8 110.05 L460.5 110.59 L461.2 111.16 L461.9 111.76 L462.6 112.45 L463.3 113.21 L464 114.02 L464.7 114.88 L465.4 115.75 L466.1 116.63 L466.8 117.5 L467.5 118.33 L468.2 119.11 L468.9 119.85 L469.6 120.58 L470.3 121.3 L471 122" stroke="#0000ff" stroke-width="1.1" fill="none" stroke-linejoin="round" />
<path d="M303 100 L303.7 100.07 L304.4 100.14 L305.1 100.21 L305.8 100.27 L306.5 100.33 L307.2 100.39 L307.9 100.44 L308.6 100.49 L309.3 100.53 L310 100.56 L310.7 100.58 L311.4 100.6 L312.1 100.6 L312.8 100.6 L313.5 100.6 L314.2 100.59 L314.9 100.59 L315.6 100.58 L316.3 100.57 L317 100.56 L317.7 100.55 L318.4 100.54 L319.1 100.53 L319.8 100.52 L320.5 100.51 L321.2 100.49 L321.9 100.48 L322.6 100.46 L323.3 100.44 L324 100.43 L324.7 100.41 L325.4 100.39 L326.1 100.35 L326.8 100.31 L327.5 100.25 L328.2 100.18 L328.9 100.11 L329.6 100.03 L330.3 99.94 L331 99.85 L331.7 99.76 L332.4 99.66 L333.1 99.57 L333.8 99.48 L334.5 99.39 L335.2 99.31 L335.9 99.24 L336.6 99.17 L337.3 99.11 L338 99.06 L338.7 99.03 L339.4 99.01 L340.1 99 L340.8 99.01 L341.5 99.02 L342.2 99.05 L342.9 99.08 L343.6 99.12 L344.3 99.16 L345 99.21 L345.7 99.26 L346.4 99.32 L347.1 99.37 L347.8 99.43 L348.5 99.49 L349.2 99.55 L349.9 99.61 L350.6 99.66 L351.3 99.71 L352 99.76 L352.7 99.8 L353.4 99.84 L354.1 99.86 L354.8 99.89 L355.5 99.9 L356.2 99.9 L356.9 99.89 L357.6 99.86 L358.3 99.83 L359 99.78 L359.7 99.72 L360.4 99.66 L361.1 99.59 L361.8 99.51 L362.5 99.43 L363.2 99.35 L363.9 99.26 L364.6 99.18 L365.3 99.09 L366 99.01 L366.7 98.93 L367.4 98.86 L368.1 98.79 L368.8 98.74 L369.5 98.69 L370.2 98.65 L370.9 98.62 L371.6 98.6 L372.3 98.6 L373 98.61 L373.7 98.62 L374.4 98.64 L375.1 98.67 L375.8 98.7 L376.5 98.74 L377.2 98.78 L377.9 98.83 L378.6 98.87 L379.3 98.92 L380 98.98 L380.7 99.03 L381.4 99.08 L382.1 99.13 L382.8 99.18 L383.5 99.23 L384.2 99.28 L384.9 99.32 L385.6 99.36 L386.3 99.4 L387 99.43 L387.7 99.46 L388.4 99.48 L389.1 99.49 L389.8 99.5 L390.5 99.5 L391.2 99.5 L391.9 99.49 L392.6 99.49 L393.3 99.49 L394 99.48 L394.7 99.47 L395.4 99.47 L396.1 99.46 L396.8 99.45 L397.5 99.44 L398.2 99.44 L398.9 99.43 L399.6 99.42 L400.3 99.42 L401 99.41 L401.7 99.41 L402.4 99.4 L403.1 99.4 L403.8 99.4 L404.5 99.4 L405.2 99.41 L405.9 99.42 L406.6 99.44 L407.3 99.47 L408 99.5 L408.7 99.54 L409.4 99.58 L410.1 99.62 L410.8 99.66 L411.5 99.71 L412.2 99.76 L412.9 99.82 L413.6 99.87 L414.3 99.92 L415 99.99 L415.7 100.07 L416.4 100.16 L417.1 100.26 L417.8 100.37 L418.5 100.49 L419.2 100.62 L419.9 100.76 L420.6 100.9 L421.3 101.05 L422 101.2 L422.7 101.37 L423.4 101.58 L424.1 101.81 L424.8 102.06 L425.5 102.31 L426.2 102.57 L426.9 102.83 L427.6 103.07 L428.3 103.3 L429 103.55 L429.7 103.81 L430.4 104.09 L431.1 104.37 L431.8 104.64 L432.5 104.9 L433.2 105.13 L433.9 105.32 L434.6 105.47 L435.3 105.57 L436 105.6 L436.7 105.52 L437.4 105.32 L438.1 105.06 L438.8 104.82 L439.5 104.64 L440.2 104.62 L440.9 104.96 L441.6 105.59 L442.3 106.37 L443 107.14 L443.7 107.74 L444.4 108.07 L445.1 108.35 L445.8 108.61 L446.5 108.84 L447.2 109.04 L447.9 109.22 L448.6 109.37 L449.3 109.5 L450 109.6 L450.7 109.67 L451.4 109.73 L452.1 109.77 L452.8 109.81 L453.5 109.85 L454.2 109.91 L454.9 109.99 L455.6 110.13 L456.3 110.39 L457 110.72 L457.7 111.1 L458.4 111.49 L459.1 111.84 L459.8 112.13 L460.5 112.34 L461.2 112.52 L461.9 112.67 L462.6 112.8 L463.3 112.93 L464 113.07 L464.7 113.23 L465.4 113.41 L466.1 113.63 L466.8 113.91 L467.5 114.24 L468.2 114.62 L468.9 115.05 L469.6 115.51 L470.3 115.99 L471 116.5" stroke="#0000ff" stroke-width="0.9" fill="none" stroke-linejoin="round" />
</g>
<g transform="translate(238.5,21.6)" fill="#1c1c1c" >
<text x="-3.81" y="0" font-size="12.42" textLength="7.62" lengthAdjust="spacingAndGlyphs">b</text>
</g>
<g transform="translate(295.3,34.3)" fill="#1c1c1c" >
<text x="-7.63" y="0" font-size="12.42" textLength="7.63" lengthAdjust="spacingAndGlyphs">0</text>
</g>
<g transform="translate(295.3,69.6)" fill="#1c1c1c" >
<text x="-23.41" y="0" font-size="12.42" textLength="23.41" lengthAdjust="spacingAndGlyphs">-0.2</text>
</g>
<g transform="translate(295.3,108.2)" fill="#1c1c1c" >
<text x="-23.41" y="0" font-size="12.42" textLength="23.41" lengthAdjust="spacingAndGlyphs">-0.4</text>
</g>
<g transform="translate(295.3,145)" fill="#1c1c1c" >
<text x="-23.41" y="0" font-size="12.42" textLength="23.41" lengthAdjust="spacingAndGlyphs">-0.6</text>
</g>
<g transform="translate(306.12,165.4)" fill="#1c1c1c" >
<text x="-3.82" y="0" font-size="12.42" textLength="7.63" lengthAdjust="spacingAndGlyphs">0</text>
</g>
<g transform="translate(371,165.4)" fill="#1c1c1c" >
<text x="-9.54" y="0" font-size="12.42" textLength="19.08" lengthAdjust="spacingAndGlyphs">0.1</text>
</g>
<g transform="translate(437.2,165.4)" fill="#1c1c1c" >
<text x="-9.54" y="0" font-size="12.42" textLength="19.08" lengthAdjust="spacingAndGlyphs">0.2</text>
</g>
<g transform="translate(387.8,178)" fill="#1c1c1c" >
<text x="-21.55" y="0" font-size="12.42" textLength="6.95" lengthAdjust="spacingAndGlyphs">k</text>
<text x="-14.6" y="2.04" font-size="8.69" textLength="5.66" lengthAdjust="spacingAndGlyphs">||</text>
<text x="-4.76" y="0" font-size="12.42" textLength="12.89" lengthAdjust="spacingAndGlyphs">[&#197;</text>
<text x="8.13" y="-4.44" font-size="8.69" textLength="8.38" lengthAdjust="spacingAndGlyphs">-1</text>
<text x="16.86" y="0" font-size="12.42" textLength="4.68" lengthAdjust="spacingAndGlyphs">]</text>
</g>
<g transform="translate(260.8,89) rotate(-90)" fill="#1c1c1c" >
<text x="-32.17" y="0" font-size="12.42" textLength="19.5" lengthAdjust="spacingAndGlyphs">E-E</text>
<text x="-12.67" y="3.96" font-size="8.69" textLength="4.83" lengthAdjust="spacingAndGlyphs">F</text>
<text x="-12.67" y="-3.72" font-size="8.69" textLength="15.71" lengthAdjust="spacingAndGlyphs">PES</text>
<text x="7.21" y="0" font-size="12.42" textLength="24.96" lengthAdjust="spacingAndGlyphs">[eV]</text>
</g>
<g transform="translate(413.2,69.6)" fill="#00ff00" >
<text x="0" y="0" font-size="15.84" textLength="9.71" lengthAdjust="spacingAndGlyphs">p</text>
<text x="9.71" y="2.6" font-size="11.08" textLength="6.81" lengthAdjust="spacingAndGlyphs">1</text>
</g>
<g transform="translate(445.5,96)" fill="#0000ff" >
<text x="0" y="0" font-size="15.84" textLength="9.71" lengthAdjust="spacingAndGlyphs">p</text>
<text x="9.71" y="2.6" font-size="11.08" textLength="6.81" lengthAdjust="spacingAndGlyphs">2</text>
</g>
<rect x="478.9" y="43.8" width="13" height="81.4" fill="url(#cbar)" stroke="#999" stroke-width="0.4"/>
<g transform="translate(484.6,42.6)" fill="#1c1c1c" >
<text x="-4.51" y="0" font-size="12.42" textLength="9.02" lengthAdjust="spacingAndGlyphs">H</text>
</g>
<g transform="translate(485.4,135)" fill="#1c1c1c" >
<text x="-3.34" y="0" font-size="12.42" textLength="6.69" lengthAdjust="spacingAndGlyphs">L</text>
</g>
<rect x="340.59" y="315.47" width="3.89" height="3.23" fill="#00ff00" stroke="#5f6f5f" stroke-width="0.6"/>
<rect x="344.48" y="316.76" width="3.89" height="1.94" fill="#00ff00" stroke="#5f6f5f" stroke-width="0.6"/>
<rect x="348.37" y="315.47" width="3.89" height="3.23" fill="#00ff00" stroke="#5f6f5f" stroke-width="0.6"/>
<rect x="352.26" y="314.51" width="3.89" height="4.19" fill="#00ff00" stroke="#5f6f5f" stroke-width="0.6"/>
<rect x="356.15" y="305.8" width="3.89" height="12.9" fill="#00ff00" stroke="#5f6f5f" stroke-width="0.6"/>
<rect x="360.04" y="274.84" width="3.89" height="43.86" fill="#00ff00" stroke="#5f6f5f" stroke-width="0.6"/>
<rect x="363.93" y="261.62" width="3.89" height="57.08" fill="#00ff00" stroke="#5f6f5f" stroke-width="0.6"/>
<rect x="367.82" y="224.53" width="3.89" height="94.17" fill="#00ff00" stroke="#5f6f5f" stroke-width="0.6"/>
<rect x="371.72" y="190.99" width="3.89" height="127.71" fill="#00ff00" stroke="#5f6f5f" stroke-width="0.6"/>
<rect x="375.61" y="207.44" width="3.89" height="111.26" fill="#00ff00" stroke="#5f6f5f" stroke-width="0.6"/>
<rect x="379.5" y="215.18" width="3.89" height="103.52" fill="#00ff00" stroke="#5f6f5f" stroke-width="0.6"/>
<rect x="383.39" y="262.58" width="3.89" height="56.12" fill="#00ff00" stroke="#5f6f5f" stroke-width="0.6"/>
<rect x="387.28" y="283.87" width="3.89" height="34.83" fill="#00ff00" stroke="#5f6f5f" stroke-width="0.6"/>
<rect x="391.17" y="300.32" width="3.89" height="18.38" fill="#00ff00" stroke="#5f6f5f" stroke-width="0.6"/>
<rect x="395.06" y="298.38" width="3.89" height="20.32" fill="#00ff00" stroke="#5f6f5f" stroke-width="0.6"/>
<rect x="398.95" y="306.12" width="3.89" height="12.58" fill="#00ff00" stroke="#5f6f5f" stroke-width="0.6"/>
<rect x="402.84" y="304.83" width="3.89" height="13.87" fill="#00ff00" stroke="#5f6f5f" stroke-width="0.6"/>
<rect x="406.73" y="300.32" width="3.89" height="18.38" fill="#00ff00" stroke="#5f6f5f" stroke-width="0.6"/>
<rect x="410.62" y="306.44" width="3.89" height="12.25" fill="#00ff00" stroke="#5f6f5f" stroke-width="0.6"/>
<rect x="414.51" y="301.61" width="3.89" height="17.09" fill="#00ff00" stroke="#5f6f5f" stroke-width="0.6"/>
<rect x="418.4" y="307.74" width="3.89" height="10.96" fill="#00ff00" stroke="#5f6f5f" stroke-width="0.6"/>
<rect x="422.29" y="307.74" width="3.89" height="10.96" fill="#00ff00" stroke="#5f6f5f" stroke-width="0.6"/>
<rect x="426.18" y="311.6" width="3.89" height="7.1" fill="#00ff00" stroke="#5f6f5f" stroke-width="0.6"/>
<rect x="430.07" y="315.8" width="3.89" height="2.9" fill="#00ff00" stroke="#5f6f5f" stroke-width="0.6"/>
<rect x="433.97" y="317.73" width="3.89" height="0.97" fill="#00ff00" stroke="#5f6f5f" stroke-width="0.6"/>
<rect x="437.86" y="317.09" width="3.89" height="1.61" fill="#00ff00" stroke="#5f6f5f" stroke-width="0.6"/>
<rect x="441.75" y="316.76" width="3.89" height="1.94" fill="#00ff00" stroke="#5f6f5f" stroke-width="0.6"/>
<rect x="445.64" y="317.73" width="3.89" height="0.97" fill="#00ff00" stroke="#5f6f5f" stroke-width="0.6"/>
<rect x="449.53" y="318.06" width="3.89" height="0.64" fill="#00ff00" stroke="#5f6f5f" stroke-width="0.6"/>
<rect x="453.42" y="318.38" width="3.89" height="0.32" fill="#00ff00" stroke="#5f6f5f" stroke-width="0.6"/>
<rect x="457.31" y="318.38" width="3.89" height="0.32" fill="#00ff00" stroke="#5f6f5f" stroke-width="0.6"/>
<rect x="336" y="186.2" width="125" height="132.5" fill="none" stroke="#1a1a1a" stroke-width="1.6"/>
<line x1="336" y1="302.57" x2="339.2" y2="302.57" stroke="#1a1a1a" stroke-width="1.1" />
<line x1="461" y1="302.57" x2="457.8" y2="302.57" stroke="#1a1a1a" stroke-width="1.1" />
<line x1="336" y1="286.45" x2="339.2" y2="286.45" stroke="#1a1a1a" stroke-width="1.1" />
<line x1="461" y1="286.45" x2="457.8" y2="286.45" stroke="#1a1a1a" stroke-width="1.1" />
<line x1="336" y1="270.32" x2="339.2" y2="270.32" stroke="#1a1a1a" stroke-width="1.1" />
<line x1="461" y1="270.32" x2="457.8" y2="270.32" stroke="#1a1a1a" stroke-width="1.1" />
<line x1="336" y1="254.2" x2="339.2" y2="254.2" stroke="#1a1a1a" stroke-width="1.1" />
<line x1="461" y1="254.2" x2="457.8" y2="254.2" stroke="#1a1a1a" stroke-width="1.1" />
<line x1="336" y1="238.07" x2="339.2" y2="238.07" stroke="#1a1a1a" stroke-width="1.1" />
<line x1="461" y1="238.07" x2="457.8" y2="238.07" stroke="#1a1a1a" stroke-width="1.1" />
<line x1="336" y1="221.95" x2="339.2" y2="221.95" stroke="#1a1a1a" stroke-width="1.1" />
<line x1="461" y1="221.95" x2="457.8" y2="221.95" stroke="#1a1a1a" stroke-width="1.1" />
<line x1="336" y1="205.82" x2="339.2" y2="205.82" stroke="#1a1a1a" stroke-width="1.1" />
<line x1="461" y1="205.82" x2="457.8" y2="205.82" stroke="#1a1a1a" stroke-width="1.1" />
<line x1="336" y1="189.7" x2="339.2" y2="189.7" stroke="#1a1a1a" stroke-width="1.1" />
<line x1="461" y1="189.7" x2="457.8" y2="189.7" stroke="#1a1a1a" stroke-width="1.1" />
<line x1="361.6" y1="318.7" x2="361.6" y2="315.2" stroke="#1a1a1a" stroke-width="1.1" />
<line x1="361.6" y1="186.2" x2="361.6" y2="189.7" stroke="#1a1a1a" stroke-width="1.1" />
<line x1="386.5" y1="318.7" x2="386.5" y2="315.2" stroke="#1a1a1a" stroke-width="1.1" />
<line x1="386.5" y1="186.2" x2="386.5" y2="189.7" stroke="#1a1a1a" stroke-width="1.1" />
<line x1="411.4" y1="318.7" x2="411.4" y2="315.2" stroke="#1a1a1a" stroke-width="1.1" />
<line x1="411.4" y1="186.2" x2="411.4" y2="189.7" stroke="#1a1a1a" stroke-width="1.1" />
<line x1="436.3" y1="318.7" x2="436.3" y2="315.2" stroke="#1a1a1a" stroke-width="1.1" />
<line x1="436.3" y1="186.2" x2="436.3" y2="189.7" stroke="#1a1a1a" stroke-width="1.1" />
<g transform="translate(331.3,194)" fill="#1c1c1c" >
<text x="-22.91" y="0" font-size="12.42" textLength="22.91" lengthAdjust="spacingAndGlyphs">400</text>
</g>
<g transform="translate(331.3,258.5)" fill="#1c1c1c" >
<text x="-22.91" y="0" font-size="12.42" textLength="22.91" lengthAdjust="spacingAndGlyphs">200</text>
</g>
<g transform="translate(331.3,320.9)" fill="#1c1c1c" >
<text x="-7.63" y="0" font-size="12.42" textLength="7.63" lengthAdjust="spacingAndGlyphs">0</text>
</g>
<g transform="translate(337.1,331.6)" fill="#1c1c1c" >
<text x="-3.82" y="0" font-size="12.42" textLength="7.63" lengthAdjust="spacingAndGlyphs">0</text>
</g>
<g transform="translate(361.6,331.6)" fill="#1c1c1c" >
<text x="-9.54" y="0" font-size="12.42" textLength="19.08" lengthAdjust="spacingAndGlyphs">0.2</text>
</g>
<g transform="translate(386.5,331.6)" fill="#1c1c1c" >
<text x="-9.54" y="0" font-size="12.42" textLength="19.08" lengthAdjust="spacingAndGlyphs">0.4</text>
</g>
<g transform="translate(411.4,331.6)" fill="#1c1c1c" >
<text x="-9.54" y="0" font-size="12.42" textLength="19.08" lengthAdjust="spacingAndGlyphs">0.6</text>
</g>
<g transform="translate(436.3,331.6)" fill="#1c1c1c" >
<text x="-9.54" y="0" font-size="12.42" textLength="19.08" lengthAdjust="spacingAndGlyphs">0.8</text>
</g>
<g transform="translate(461.2,331.6)" fill="#1c1c1c" >
<text x="-3.82" y="0" font-size="12.42" textLength="7.63" lengthAdjust="spacingAndGlyphs">1</text>
</g>
<g transform="translate(268.4,180.3)" fill="#1c1c1c" >
<text x="-3.3" y="0" font-size="12.42" textLength="6.6" lengthAdjust="spacingAndGlyphs">c</text>
</g>
<g transform="translate(300.3,257.5) rotate(-90)" fill="#1c1c1c" >
<text x="-33.25" y="0" font-size="12.42" textLength="66.51" lengthAdjust="spacingAndGlyphs">occurrence</text>
</g>
<g transform="translate(396.9,343.2)" fill="#1c1c1c" >
<text x="-19.48" y="0" font-size="12.42" textLength="33.42" lengthAdjust="spacingAndGlyphs">m*/m</text>
<text x="13.95" y="2.04" font-size="8.69" textLength="5.17" lengthAdjust="spacingAndGlyphs">e</text>
</g>
<g transform="translate(435.5,200)" fill="#00ff00" >
<text x="0" y="0" font-size="15.84" textLength="9.71" lengthAdjust="spacingAndGlyphs">p</text>
<text x="9.71" y="2.6" font-size="11.08" textLength="6.81" lengthAdjust="spacingAndGlyphs">1</text>
</g>
<g transform="translate(419.5,236.1)" fill="#1c1c1c" >
<text x="-24.5" y="0" font-size="12.42" textLength="33.42" lengthAdjust="spacingAndGlyphs">m*/m</text>
<text x="8.92" y="2.04" font-size="8.69" textLength="5.17" lengthAdjust="spacingAndGlyphs">e</text>
<text x="14.45" y="0" font-size="12.42" textLength="10.05" lengthAdjust="spacingAndGlyphs">=</text>
</g>
<line x1="395.5" y1="227.6" x2="404.5" y2="227.6" stroke="#1c1c1c" stroke-width="1" />
<g transform="translate(421.9,250)" fill="#1c1c1c" >
<text x="-31.1" y="0" font-size="12.42" textLength="62.2" lengthAdjust="spacingAndGlyphs">0.35&#177;0.01</text>
</g>
<rect x="525.2" y="245.49" width="275.5" height="43.31" fill="#e6e6e6"/>
<line x1="525.2" y1="245.49" x2="800.7" y2="245.49" stroke="#000" stroke-width="1.5" />
<line x1="525.2" y1="288.8" x2="800.7" y2="288.8" stroke="#000" stroke-width="1.5" />
<line x1="674.7" y1="155.5" x2="674.7" y2="298.4" stroke="#000" stroke-width="1.5" stroke-dasharray="5.8 3.4"/>
<clipPath id="cd"><rect x="525.2" y="33" width="274.8" height="264"/></clipPath>
<g clip-path="url(#cd)">
<path d="M526 193.91 L526.75 194.45 L527.5 194.98 L528.25 195.52 L529 196.05 L529.75 196.58 L530.5 197.1 L531.25 197.63 L532 198.15 L532.75 198.67 L533.5 199.18 L534.25 199.7 L535 200.21 L535.75 200.72 L536.5 201.23 L537.25 201.74 L538 202.24 L538.75 202.74 L539.5 203.24 L540.25 203.74 L541 204.23 L541.75 204.72 L542.5 205.21 L543.25 205.7 L544 206.19 L544.75 206.67 L545.5 207.15 L546.25 207.63 L547 208.11 L547.75 208.58 L548.5 209.05 L549.25 209.52 L550 209.99 L550.75 210.46 L551.5 210.92 L552.25 211.38 L553 211.84 L553.75 212.3 L554.5 212.75 L555.25 213.2 L556 213.66 L556.75 214.1 L557.5 214.55 L558.25 214.99 L559 215.44 L559.75 215.88 L560.5 216.31 L561.25 216.75 L562 217.18 L562.75 217.61 L563.5 218.04 L564.25 218.47 L565 218.9 L565.75 219.32 L566.5 219.74 L567.25 220.16 L568 220.58 L568.75 220.99 L569.5 221.4 L570.25 221.81 L571 222.22 L571.75 222.63 L572.5 223.03 L573.25 223.44 L574 223.84 L574.75 224.24 L575.5 224.63 L576.25 225.03 L577 225.42 L577.75 225.81 L578.5 226.2 L579.25 226.58 L580 226.97 L580.75 227.35 L581.5 227.73 L582.25 228.11 L583 228.49 L583.75 228.86 L584.5 229.24 L585.25 229.61 L586 229.98 L586.75 230.34 L587.5 230.71 L588.25 231.07 L589 231.43 L589.75 231.79 L590.5 232.15 L591.25 232.51 L592 232.86 L592.75 233.21 L593.5 233.56 L594.25 233.91 L595 234.26 L595.75 234.6 L596.5 234.95 L597.25 235.29 L598 235.63 L598.75 235.96 L599.5 236.3 L600.25 236.63 L601 236.97 L601.75 237.3 L602.5 237.62 L603.25 237.95 L604 238.28 L604.75 238.6 L605.5 238.92 L606.25 239.24 L607 239.56 L607.75 239.88 L608.5 240.19 L609.25 240.5 L610 240.81 L610.75 241.12 L611.5 241.43 L612.25 241.74 L613 242.04 L613.75 242.34 L614.5 242.65 L615.25 242.94 L616 243.24 L616.75 243.54 L617.5 243.83 L618.25 244.13 L619 244.42 L619.75 244.71 L620.5 244.99 L621.25 245.28 L622 245.57 L622.75 245.85 L623.5 246.13 L624.25 246.41 L625 246.69 L625.75 246.97 L626.5 247.24 L627.25 247.51 L628 247.79 L628.75 248.06 L629.5 248.33 L630.25 248.59 L631 248.86 L631.75 249.12 L632.5 249.39 L633.25 249.65 L634 249.91 L634.75 250.17 L635.5 250.43 L636.25 250.68 L637 250.94 L637.75 251.19 L638.5 251.44 L639.25 251.69 L640 251.94 L640.75 252.18 L641.5 252.43 L642.25 252.67 L643 252.92 L643.75 253.16 L644.5 253.4 L645.25 253.64 L646 253.87 L646.75 254.11 L647.5 254.34 L648.25 254.58 L649 254.81 L649.75 255.04 L650.5 255.27 L651.25 255.49 L652 255.72 L652.75 255.95 L653.5 256.17 L654.25 256.39 L655 256.61 L655.75 256.83 L656.5 257.05 L657.25 257.27 L658 257.48 L658.75 257.7 L659.5 257.91 L660.25 258.12 L661 258.33 L661.75 258.54 L662.5 258.75 L663.25 258.96 L664 259.16 L664.75 259.37 L665.5 259.57 L666.25 259.77 L667 259.98 L667.75 260.18 L668.5 260.37 L669.25 260.57 L670 260.77 L670.75 260.96 L671.5 261.16 L672.25 261.35 L673 261.54 L673.75 261.73 L674.5 261.92 L675.25 262.11 L676 262.29 L676.75 262.48 L677.5 262.66 L678.25 262.85 L679 263.03 L679.75 263.21 L680.5 263.39 L681.25 263.57 L682 263.75 L682.75 263.93 L683.5 264.1 L684.25 264.28 L685 264.45 L685.75 264.62 L686.5 264.79 L687.25 264.96 L688 265.13 L688.75 265.3 L689.5 265.47 L690.25 265.64 L691 265.8 L691.75 265.97 L692.5 266.13 L693.25 266.29 L694 266.45 L694.75 266.61 L695.5 266.77 L696.25 266.93 L697 267.09 L697.75 267.24 L698.5 267.4 L699.25 267.55 L700 267.71 L700.75 267.86 L701.5 268.01 L702.25 268.16 L703 268.31 L703.75 268.46 L704.5 268.61 L705.25 268.76 L706 268.9 L706.75 269.05 L707.5 269.19 L708.25 269.33 L709 269.48 L709.75 269.62 L710.5 269.76 L711.25 269.9 L712 270.04 L712.75 270.18 L713.5 270.31 L714.25 270.45 L715 270.58 L715.75 270.72 L716.5 270.85 L717.25 270.99 L718 271.12 L718.75 271.25 L719.5 271.38 L720.25 271.51 L721 271.64 L721.75 271.77 L722.5 271.89 L723.25 272.02 L724 272.14 L724.75 272.27 L725.5 272.39 L726.25 272.52 L727 272.64 L727.75 272.76 L728.5 272.88 L729.25 273 L730 273.12 L730.75 273.24 L731.5 273.36 L732.25 273.47 L733 273.59 L733.75 273.71 L734.5 273.82 L735.25 273.93 L736 274.05 L736.75 274.16 L737.5 274.27 L738.25 274.38 L739 274.49 L739.75 274.6 L740.5 274.71 L741.25 274.82 L742 274.93 L742.75 275.04 L743.5 275.14 L744.25 275.25 L745 275.35 L745.75 275.46 L746.5 275.56 L747.25 275.66 L748 275.77 L748.75 275.87 L749.5 275.97 L750.25 276.07 L751 276.17 L751.75 276.27 L752.5 276.37 L753.25 276.46 L754 276.56 L754.75 276.66 L755.5 276.75 L756.25 276.85 L757 276.94 L757.75 277.04 L758.5 277.13 L759.25 277.22 L760 277.32 L760.75 277.41 L761.5 277.5 L762.25 277.59 L763 277.68 L763.75 277.77 L764.5 277.86 L765.25 277.95 L766 278.03 L766.75 278.12 L767.5 278.21 L768.25 278.29 L769 278.38 L769.75 278.46 L770.5 278.55 L771.25 278.63 L772 278.71 L772.75 278.8 L773.5 278.88 L774.25 278.96 L775 279.04 L775.75 279.12 L776.5 279.2 L777.25 279.28 L778 279.36 L778.75 279.44 L779.5 279.52 L780.25 279.59 L781 279.67 L781.75 279.75 L782.5 279.82 L783.25 279.9 L784 279.97 L784.75 280.05 L785.5 280.12 L786.25 280.2 L787 280.27 L787.75 280.34 L788.5 280.41 L789.25 280.49 L790 280.56 L790.75 280.63 L791.5 280.7 L792.25 280.77 L793 280.84 L793.75 280.91 L794.5 280.97 L795.25 281.04 L796 281.11 L796.75 281.18" stroke="#0000ff" stroke-width="1.75" fill="none" stroke-linejoin="round" />
<path d="M526 183.87 L526.75 184.38 L527.5 184.89 L528.25 185.4 L529 185.91 L529.75 186.41 L530.5 186.92 L531.25 187.42 L532 187.92 L532.75 188.42 L533.5 188.91 L534.25 189.41 L535 189.9 L535.75 190.4 L536.5 190.89 L537.25 191.38 L538 191.87 L538.75 192.35 L539.5 192.84 L540.25 193.32 L541 193.8 L541.75 194.28 L542.5 194.76 L543.25 195.24 L544 195.71 L544.75 196.19 L545.5 196.66 L546.25 197.13 L547 197.6 L547.75 198.07 L548.5 198.53 L549.25 199 L550 199.46 L550.75 199.92 L551.5 200.38 L552.25 200.84 L553 201.29 L553.75 201.75 L554.5 202.2 L555.25 202.65 L556 203.1 L556.75 203.55 L557.5 203.99 L558.25 204.44 L559 204.88 L559.75 205.32 L560.5 205.76 L561.25 206.2 L562 206.63 L562.75 207.07 L563.5 207.5 L564.25 207.93 L565 208.36 L565.75 208.79 L566.5 209.21 L567.25 209.64 L568 210.06 L568.75 210.48 L569.5 210.9 L570.25 211.32 L571 211.74 L571.75 212.15 L572.5 212.56 L573.25 212.97 L574 213.38 L574.75 213.79 L575.5 214.2 L576.25 214.6 L577 215 L577.75 215.4 L578.5 215.8 L579.25 216.2 L580 216.6 L580.75 216.99 L581.5 217.38 L582.25 217.77 L583 218.16 L583.75 218.55 L584.5 218.94 L585.25 219.32 L586 219.7 L586.75 220.08 L587.5 220.46 L588.25 220.84 L589 221.22 L589.75 221.59 L590.5 221.96 L591.25 222.33 L592 222.7 L592.75 223.07 L593.5 223.44 L594.25 223.8 L595 224.16 L595.75 224.52 L596.5 224.88 L597.25 225.24 L598 225.6 L598.75 225.95 L599.5 226.3 L600.25 226.65 L601 227 L601.75 227.35 L602.5 227.7 L603.25 228.04 L604 228.39 L604.75 228.73 L605.5 229.07 L606.25 229.41 L607 229.74 L607.75 230.08 L608.5 230.41 L609.25 230.74 L610 231.07 L610.75 231.4 L611.5 231.73 L612.25 232.06 L613 232.38 L613.75 232.7 L614.5 233.02 L615.25 233.34 L616 233.66 L616.75 233.98 L617.5 234.29 L618.25 234.6 L619 234.92 L619.75 235.23 L620.5 235.53 L621.25 235.84 L622 236.15 L622.75 236.45 L623.5 236.75 L624.25 237.05 L625 237.35 L625.75 237.65 L626.5 237.95 L627.25 238.24 L628 238.54 L628.75 238.83 L629.5 239.12 L630.25 239.41 L631 239.7 L631.75 239.98 L632.5 240.27 L633.25 240.55 L634 240.83 L634.75 241.11 L635.5 241.39 L636.25 241.67 L637 241.94 L637.75 242.22 L638.5 242.49 L639.25 242.76 L640 243.03 L640.75 243.3 L641.5 243.57 L642.25 243.83 L643 244.1 L643.75 244.36 L644.5 244.62 L645.25 244.88 L646 245.14 L646.75 245.4 L647.5 245.66 L648.25 245.91 L649 246.16 L649.75 246.42 L650.5 246.67 L651.25 246.92 L652 247.17 L652.75 247.41 L653.5 247.66 L654.25 247.9 L655 248.14 L655.75 248.39 L656.5 248.63 L657.25 248.86 L658 249.1 L658.75 249.34 L659.5 249.57 L660.25 249.81 L661 250.04 L661.75 250.27 L662.5 250.5 L663.25 250.73 L664 250.96 L664.75 251.18 L665.5 251.41 L666.25 251.63 L667 251.85 L667.75 252.07 L668.5 252.29 L669.25 252.51 L670 252.73 L670.75 252.94 L671.5 253.16 L672.25 253.37 L673 253.59 L673.75 253.8 L674.5 254.01 L675.25 254.22 L676 254.42 L676.75 254.63 L677.5 254.84 L678.25 255.04 L679 255.24 L679.75 255.44 L680.5 255.65 L681.25 255.84 L682 256.04 L682.75 256.24 L683.5 256.44 L684.25 256.63 L685 256.83 L685.75 257.02 L686.5 257.21 L687.25 257.4 L688 257.59 L688.75 257.78 L689.5 257.97 L690.25 258.15 L691 258.34 L691.75 258.52 L692.5 258.7 L693.25 258.89 L694 259.07 L694.75 259.25 L695.5 259.43 L696.25 259.6 L697 259.78 L697.75 259.96 L698.5 260.13 L699.25 260.3 L700 260.48 L700.75 260.65 L701.5 260.82 L702.25 260.99 L703 261.16 L703.75 261.33 L704.5 261.49 L705.25 261.66 L706 261.82 L706.75 261.99 L707.5 262.15 L708.25 262.31 L709 262.47 L709.75 262.63 L710.5 262.79 L711.25 262.95 L712 263.11 L712.75 263.26 L713.5 263.42 L714.25 263.57 L715 263.72 L715.75 263.88 L716.5 264.03 L717.25 264.18 L718 264.33 L718.75 264.48 L719.5 264.63 L720.25 264.77 L721 264.92 L721.75 265.06 L722.5 265.21 L723.25 265.35 L724 265.49 L724.75 265.64 L725.5 265.78 L726.25 265.92 L727 266.06 L727.75 266.2 L728.5 266.33 L729.25 266.47 L730 266.61 L730.75 266.74 L731.5 266.88 L732.25 267.01 L733 267.14 L733.75 267.27 L734.5 267.4 L735.25 267.53 L736 267.66 L736.75 267.79 L737.5 267.92 L738.25 268.05 L739 268.17 L739.75 268.3 L740.5 268.42 L741.25 268.55 L742 268.67 L742.75 268.79 L743.5 268.92 L744.25 269.04 L745 269.16 L745.75 269.28 L746.5 269.4 L747.25 269.51 L748 269.63 L748.75 269.75 L749.5 269.86 L750.25 269.98 L751 270.09 L751.75 270.21 L752.5 270.32 L753.25 270.43 L754 270.55 L754.75 270.66 L755.5 270.77 L756.25 270.88 L757 270.99 L757.75 271.09 L758.5 271.2 L759.25 271.31 L760 271.42 L760.75 271.52 L761.5 271.63 L762.25 271.73 L763 271.83 L763.75 271.94 L764.5 272.04 L765.25 272.14 L766 272.24 L766.75 272.34 L767.5 272.44 L768.25 272.54 L769 272.64 L769.75 272.74 L770.5 272.84 L771.25 272.93 L772 273.03 L772.75 273.12 L773.5 273.22 L774.25 273.31 L775 273.41 L775.75 273.5 L776.5 273.59 L777.25 273.69 L778 273.78 L778.75 273.87 L779.5 273.96 L780.25 274.05 L781 274.14 L781.75 274.23 L782.5 274.31 L783.25 274.4 L784 274.49 L784.75 274.58 L785.5 274.66 L786.25 274.75 L787 274.83 L787.75 274.92 L788.5 275 L789.25 275.08 L790 275.16 L790.75 275.25 L791.5 275.33 L792.25 275.41 L793 275.49 L793.75 275.57 L794.5 275.65 L795.25 275.73 L796 275.81 L796.75 275.89" stroke="#0000ff" stroke-width="1.75" fill="none" stroke-linejoin="round" stroke-dasharray="6.6 3.6"/>
<path d="M526 203.99 L526.75 204.46 L527.5 204.92 L528.25 205.39 L529 205.85 L529.75 206.32 L530.5 206.78 L531.25 207.24 L532 207.71 L532.75 208.17 L533.5 208.64 L534.25 209.1 L535 209.56 L535.75 210.03 L536.5 210.49 L537.25 210.95 L538 211.41 L538.75 211.87 L539.5 212.33 L540.25 212.79 L541 213.25 L541.75 213.71 L542.5 214.17 L543.25 214.62 L544 215.08 L544.75 215.53 L545.5 215.99 L546.25 216.44 L547 216.9 L547.75 217.35 L548.5 217.8 L549.25 218.25 L550 218.7 L550.75 219.15 L551.5 219.59 L552.25 220.04 L553 220.48 L553.75 220.93 L554.5 221.37 L555.25 221.81 L556 222.25 L556.75 222.69 L557.5 223.13 L558.25 223.57 L559 224 L559.75 224.44 L560.5 224.87 L561.25 225.3 L562 225.73 L562.75 226.16 L563.5 226.59 L564.25 227.02 L565 227.44 L565.75 227.86 L566.5 228.29 L567.25 228.71 L568 229.13 L568.75 229.54 L569.5 229.96 L570.25 230.37 L571 230.79 L571.75 231.2 L572.5 231.61 L573.25 232.02 L574 232.42 L574.75 232.83 L575.5 233.23 L576.25 233.63 L577 234.03 L577.75 234.43 L578.5 234.83 L579.25 235.22 L580 235.62 L580.75 236.01 L581.5 236.4 L582.25 236.79 L583 237.17 L583.75 237.56 L584.5 237.94 L585.25 238.32 L586 238.7 L586.75 239.08 L587.5 239.46 L588.25 239.83 L589 240.2 L589.75 240.57 L590.5 240.94 L591.25 241.31 L592 241.67 L592.75 242.04 L593.5 242.4 L594.25 242.76 L595 243.11 L595.75 243.47 L596.5 243.82 L597.25 244.18 L598 244.53 L598.75 244.87 L599.5 245.22 L600.25 245.57 L601 245.91 L601.75 246.25 L602.5 246.59 L603.25 246.92 L604 247.26 L604.75 247.59 L605.5 247.92 L606.25 248.25 L607 248.58 L607.75 248.91 L608.5 249.23 L609.25 249.55 L610 249.87 L610.75 250.19 L611.5 250.51 L612.25 250.82 L613 251.13 L613.75 251.44 L614.5 251.75 L615.25 252.06 L616 252.37 L616.75 252.67 L617.5 252.97 L618.25 253.27 L619 253.57 L619.75 253.86 L620.5 254.16 L621.25 254.45 L622 254.74 L622.75 255.03 L623.5 255.31 L624.25 255.6 L625 255.88 L625.75 256.16 L626.5 256.44 L627.25 256.72 L628 256.99 L628.75 257.26 L629.5 257.54 L630.25 257.81 L631 258.07 L631.75 258.34 L632.5 258.6 L633.25 258.87 L634 259.13 L634.75 259.39 L635.5 259.64 L636.25 259.9 L637 260.15 L637.75 260.4 L638.5 260.65 L639.25 260.9 L640 261.15 L640.75 261.39 L641.5 261.64 L642.25 261.88 L643 262.12 L643.75 262.36 L644.5 262.59 L645.25 262.83 L646 263.06 L646.75 263.29 L647.5 263.52 L648.25 263.75 L649 263.97 L649.75 264.2 L650.5 264.42 L651.25 264.64 L652 264.86 L652.75 265.08 L653.5 265.3 L654.25 265.51 L655 265.72 L655.75 265.94 L656.5 266.14 L657.25 266.35 L658 266.56 L658.75 266.76 L659.5 266.97 L660.25 267.17 L661 267.37 L661.75 267.57 L662.5 267.77 L663.25 267.96 L664 268.16 L664.75 268.35 L665.5 268.54 L666.25 268.73 L667 268.92 L667.75 269.11 L668.5 269.29 L669.25 269.48 L670 269.66 L670.75 269.84 L671.5 270.02 L672.25 270.2 L673 270.37 L673.75 270.55 L674.5 270.72 L675.25 270.9 L676 271.07 L676.75 271.24 L677.5 271.4 L678.25 271.57 L679 271.74 L679.75 271.9 L680.5 272.06 L681.25 272.23 L682 272.39 L682.75 272.55 L683.5 272.7 L684.25 272.86 L685 273.02 L685.75 273.17 L686.5 273.32 L687.25 273.47 L688 273.62 L688.75 273.77 L689.5 273.92 L690.25 274.07 L691 274.21 L691.75 274.36 L692.5 274.5 L693.25 274.64 L694 274.78 L694.75 274.92 L695.5 275.06 L696.25 275.19 L697 275.33 L697.75 275.46 L698.5 275.6 L699.25 275.73 L700 275.86 L700.75 275.99 L701.5 276.12 L702.25 276.25 L703 276.37 L703.75 276.5 L704.5 276.62 L705.25 276.75 L706 276.87 L706.75 276.99 L707.5 277.11 L708.25 277.23 L709 277.35 L709.75 277.47 L710.5 277.58 L711.25 277.7 L712 277.81 L712.75 277.92 L713.5 278.04 L714.25 278.15 L715 278.26 L715.75 278.37 L716.5 278.47 L717.25 278.58 L718 278.69 L718.75 278.79 L719.5 278.9 L720.25 279 L721 279.1 L721.75 279.21 L722.5 279.31 L723.25 279.41 L724 279.51 L724.75 279.6 L725.5 279.7 L726.25 279.8 L727 279.89 L727.75 279.99 L728.5 280.08 L729.25 280.17 L730 280.27 L730.75 280.36 L731.5 280.45 L732.25 280.54 L733 280.63 L733.75 280.72 L734.5 280.8 L735.25 280.89 L736 280.97 L736.75 281.06 L737.5 281.14 L738.25 281.23 L739 281.31 L739.75 281.39 L740.5 281.47 L741.25 281.55 L742 281.63 L742.75 281.71 L743.5 281.79 L744.25 281.87 L745 281.94 L745.75 282.02 L746.5 282.09 L747.25 282.17 L748 282.24 L748.75 282.32 L749.5 282.39 L750.25 282.46 L751 282.53 L751.75 282.6 L752.5 282.67 L753.25 282.74 L754 282.81 L754.75 282.88 L755.5 282.94 L756.25 283.01 L757 283.08 L757.75 283.14 L758.5 283.21 L759.25 283.27 L760 283.34 L760.75 283.4 L761.5 283.46 L762.25 283.52 L763 283.58 L763.75 283.64 L764.5 283.7 L765.25 283.76 L766 283.82 L766.75 283.88 L767.5 283.94 L768.25 284 L769 284.05 L769.75 284.11 L770.5 284.16 L771.25 284.22 L772 284.27 L772.75 284.33 L773.5 284.38 L774.25 284.43 L775 284.49 L775.75 284.54 L776.5 284.59 L777.25 284.64 L778 284.69 L778.75 284.74 L779.5 284.79 L780.25 284.84 L781 284.89 L781.75 284.94 L782.5 284.98 L783.25 285.03 L784 285.08 L784.75 285.12 L785.5 285.17 L786.25 285.21 L787 285.26 L787.75 285.3 L788.5 285.35 L789.25 285.39 L790 285.43 L790.75 285.48 L791.5 285.52 L792.25 285.56 L793 285.6 L793.75 285.64 L794.5 285.68 L795.25 285.72 L796 285.76 L796.75 285.8" stroke="#0000ff" stroke-width="1.75" fill="none" stroke-linejoin="round" stroke-dasharray="6.6 3.6"/>
<path d="M566.1 33.52 L566.85 36.55 L567.6 39.54 L568.35 42.49 L569.1 45.42 L569.85 48.3 L570.6 51.16 L571.35 53.98 L572.1 56.77 L572.85 59.53 L573.6 62.25 L574.35 64.95 L575.1 67.61 L575.85 70.25 L576.6 72.85 L577.35 75.43 L578.1 77.98 L578.85 80.5 L579.6 82.99 L580.35 85.46 L581.1 87.9 L581.85 90.31 L582.6 92.7 L583.35 95.06 L584.1 97.39 L584.85 99.7 L585.6 101.99 L586.35 104.25 L587.1 106.49 L587.85 108.7 L588.6 110.9 L589.35 113.06 L590.1 115.21 L590.85 117.33 L591.6 119.44 L592.35 121.52 L593.1 123.58 L593.85 125.61 L594.6 127.63 L595.35 129.63 L596.1 131.6 L596.85 133.56 L597.6 135.5 L598.35 137.41 L599.1 139.31 L599.85 141.19 L600.6 143.05 L601.35 144.89 L602.1 146.71 L602.85 148.52 L603.6 150.31 L604.35 152.08 L605.1 153.83 L605.85 155.56 L606.6 157.28 L607.35 158.98 L608.1 160.66 L608.85 162.33 L609.6 163.98 L610.35 165.62 L611.1 167.23 L611.85 168.84 L612.6 170.42 L613.35 172 L614.1 173.55 L614.85 175.09 L615.6 176.62 L616.35 178.13 L617.1 179.62 L617.85 181.11 L618.6 182.57 L619.35 184.02 L620.1 185.46 L620.85 186.88 L621.6 188.29 L622.35 189.68 L623.1 191.06 L623.85 192.43 L624.6 193.77 L625.35 195.11 L626.1 196.43 L626.85 197.73 L627.6 199.02 L628.35 200.3 L629.1 201.56 L629.85 202.8 L630.6 204.03 L631.35 205.25 L632.1 206.45 L632.85 207.64 L633.6 208.81 L634.35 209.97 L635.1 211.11 L635.85 212.24 L636.6 213.36 L637.35 214.46 L638.1 215.55 L638.85 216.62 L639.6 217.68 L640.35 218.73 L641.1 219.76 L641.85 220.78 L642.6 221.79 L643.35 222.78 L644.1 223.76 L644.85 224.73 L645.6 225.68 L646.35 226.62 L647.1 227.55 L647.85 228.46 L648.6 229.36 L649.35 230.25 L650.1 231.13 L650.85 231.99 L651.6 232.85 L652.35 233.69 L653.1 234.51 L653.85 235.33 L654.6 236.14 L655.35 236.93 L656.1 237.71 L656.85 238.48 L657.6 239.24 L658.35 239.99 L659.1 240.72 L659.85 241.45 L660.6 242.16 L661.35 242.87 L662.1 243.56 L662.85 244.25 L663.6 244.92 L664.35 245.58 L665.1 246.23 L665.85 246.88 L666.6 247.51 L667.35 248.13 L668.1 248.75 L668.85 249.35 L669.6 249.94 L670.35 250.53 L671.1 251.11 L671.85 251.67 L672.6 252.23 L673.35 252.78 L674.1 253.32 L674.85 253.85 L675.6 254.38 L676.35 254.89 L677.1 255.4 L677.85 255.9 L678.6 256.39 L679.35 256.87 L680.1 257.34 L680.85 257.81 L681.6 258.27 L682.35 258.72 L683.1 259.16 L683.85 259.6 L684.6 260.03 L685.35 260.45 L686.1 260.87 L686.85 261.27 L687.6 261.68 L688.35 262.07 L689.1 262.46 L689.85 262.84 L690.6 263.21 L691.35 263.58 L692.1 263.94 L692.85 264.3 L693.6 264.65 L694.35 264.99 L695.1 265.33 L695.85 265.66 L696.6 265.99 L697.35 266.31 L698.1 266.62 L698.85 266.93 L699.6 267.24 L700.35 267.54 L701.1 267.83 L701.85 268.12 L702.6 268.4 L703.35 268.68 L704.1 268.95 L704.85 269.22 L705.6 269.48 L706.35 269.74 L707.1 270 L707.85 270.25 L708.6 270.49 L709.35 270.74 L710.1 270.97 L710.85 271.21 L711.6 271.44 L712.35 271.66 L713.1 271.89 L713.85 272.11 L714.6 272.32 L715.35 272.53 L716.1 272.74 L716.85 272.95 L717.6 273.15 L718.35 273.35 L719.1 273.54 L719.85 273.73 L720.6 273.92 L721.35 274.11 L722.1 274.29 L722.85 274.47 L723.6 274.65 L724.35 274.83 L725.1 275 L725.85 275.17 L726.6 275.33 L727.35 275.5 L728.1 275.66 L728.85 275.82 L729.6 275.98 L730.35 276.13 L731.1 276.28 L731.85 276.43 L732.6 276.58 L733.35 276.73 L734.1 276.87 L734.85 277.01 L735.6 277.15 L736.35 277.29 L737.1 277.43 L737.85 277.56 L738.6 277.69 L739.35 277.82 L740.1 277.95 L740.85 278.08 L741.6 278.2 L742.35 278.32 L743.1 278.45 L743.85 278.56 L744.6 278.68 L745.35 278.8 L746.1 278.91 L746.85 279.03 L747.6 279.14 L748.35 279.25 L749.1 279.36 L749.85 279.47 L750.6 279.57 L751.35 279.68 L752.1 279.78 L752.85 279.88 L753.6 279.98 L754.35 280.08 L755.1 280.18 L755.85 280.28 L756.6 280.37 L757.35 280.47 L758.1 280.56 L758.85 280.65 L759.6 280.74 L760.35 280.83 L761.1 280.92 L761.85 281.01 L762.6 281.1 L763.35 281.18 L764.1 281.27 L764.85 281.35 L765.6 281.44 L766.35 281.52 L767.1 281.6 L767.85 281.68 L768.6 281.76 L769.35 281.84 L770.1 281.91 L770.85 281.99 L771.6 282.07 L772.35 282.14 L773.1 282.22 L773.85 282.29 L774.6 282.36 L775.35 282.43 L776.1 282.5 L776.85 282.58 L777.6 282.64 L778.35 282.71 L779.1 282.78 L779.85 282.85 L780.6 282.92 L781.35 282.98 L782.1 283.05 L782.85 283.11 L783.6 283.18 L784.35 283.24 L785.1 283.31 L785.85 283.37 L786.6 283.43 L787.35 283.49 L788.1 283.55 L788.85 283.61 L789.6 283.67 L790.35 283.73 L791.1 283.79 L791.85 283.85 L792.6 283.91 L793.35 283.96 L794.1 284.02 L794.85 284.08 L795.6 284.13 L796.35 284.19 L797.1 284.24" stroke="#00ff00" stroke-width="1.75" fill="none" stroke-linejoin="round" />
<path d="M572.2 33.6 L572.95 36.37 L573.7 39.12 L574.45 41.86 L575.2 44.58 L575.95 47.28 L576.7 49.96 L577.45 52.63 L578.2 55.27 L578.95 57.9 L579.7 60.51 L580.45 63.09 L581.2 65.66 L581.95 68.21 L582.7 70.73 L583.45 73.24 L584.2 75.72 L584.95 78.19 L585.7 80.63 L586.45 83.04 L587.2 85.44 L587.95 87.82 L588.7 90.17 L589.45 92.5 L590.2 94.8 L590.95 97.09 L591.7 99.35 L592.45 101.58 L593.2 103.8 L593.95 105.99 L594.7 108.16 L595.45 110.3 L596.2 112.42 L596.95 114.52 L597.7 116.6 L598.45 118.65 L599.2 120.67 L599.95 122.68 L600.7 124.66 L601.45 126.62 L602.2 128.55 L602.95 130.46 L603.7 132.35 L604.45 134.22 L605.2 136.06 L605.95 137.88 L606.7 139.68 L607.45 141.46 L608.2 143.21 L608.95 144.95 L609.7 146.67 L610.45 148.37 L611.2 150.04 L611.95 151.7 L612.7 153.34 L613.45 154.97 L614.2 156.57 L614.95 158.16 L615.7 159.73 L616.45 161.28 L617.2 162.81 L617.95 164.33 L618.7 165.83 L619.45 167.32 L620.2 168.79 L620.95 170.24 L621.7 171.68 L622.45 173.11 L623.2 174.52 L623.95 175.91 L624.7 177.29 L625.45 178.66 L626.2 180.01 L626.95 181.35 L627.7 182.67 L628.45 183.99 L629.2 185.28 L629.95 186.57 L630.7 187.84 L631.45 189.1 L632.2 190.35 L632.95 191.59 L633.7 192.81 L634.45 194.02 L635.2 195.22 L635.95 196.41 L636.7 197.58 L637.45 198.75 L638.2 199.9 L638.95 201.04 L639.7 202.18 L640.45 203.3 L641.2 204.41 L641.95 205.51 L642.7 206.6 L643.45 207.68 L644.2 208.74 L644.95 209.8 L645.7 210.85 L646.45 211.89 L647.2 212.92 L647.95 213.94 L648.7 214.95 L649.45 215.95 L650.2 216.94 L650.95 217.92 L651.7 218.9 L652.45 219.86 L653.2 220.82 L653.95 221.76 L654.7 222.7 L655.45 223.63 L656.2 224.55 L656.95 225.46 L657.7 226.36 L658.45 227.26 L659.2 228.14 L659.95 229.02 L660.7 229.89 L661.45 230.75 L662.2 231.6 L662.95 232.45 L663.7 233.28 L664.45 234.11 L665.2 234.92 L665.95 235.73 L666.7 236.52 L667.45 237.3 L668.2 238.07 L668.95 238.83 L669.7 239.58 L670.45 240.31 L671.2 241.03 L671.95 241.74 L672.7 242.43 L673.45 243.12 L674.2 243.78 L674.95 244.44 L675.7 245.08 L676.45 245.71 L677.2 246.32 L677.95 246.92 L678.7 247.51 L679.45 248.09 L680.2 248.66 L680.95 249.22 L681.7 249.76 L682.45 250.29 L683.2 250.82 L683.95 251.33 L684.7 251.83 L685.45 252.32 L686.2 252.81 L686.95 253.28 L687.7 253.74 L688.45 254.19 L689.2 254.64 L689.95 255.07 L690.7 255.5 L691.45 255.92 L692.2 256.33 L692.95 256.73 L693.7 257.12 L694.45 257.51 L695.2 257.89 L695.95 258.26 L696.7 258.62 L697.45 258.98 L698.2 259.33 L698.95 259.67 L699.7 260.01 L700.45 260.34 L701.2 260.67 L701.95 260.98 L702.7 261.3 L703.45 261.6 L704.2 261.91 L704.95 262.2 L705.7 262.49 L706.45 262.78 L707.2 263.06 L707.95 263.34 L708.7 263.61 L709.45 263.87 L710.2 264.13 L710.95 264.39 L711.7 264.64 L712.45 264.89 L713.2 265.14 L713.95 265.38 L714.7 265.61 L715.45 265.85 L716.2 266.08 L716.95 266.3 L717.7 266.52 L718.45 266.74 L719.2 266.95 L719.95 267.16 L720.7 267.37 L721.45 267.58 L722.2 267.78 L722.95 267.98 L723.7 268.17 L724.45 268.36 L725.2 268.55 L725.95 268.74 L726.7 268.92 L727.45 269.11 L728.2 269.28 L728.95 269.46 L729.7 269.63 L730.45 269.81 L731.2 269.98 L731.95 270.14 L732.7 270.31 L733.45 270.47 L734.2 270.63 L734.95 270.79 L735.7 270.94 L736.45 271.1 L737.2 271.25 L737.95 271.4 L738.7 271.55 L739.45 271.69 L740.2 271.84 L740.95 271.98 L741.7 272.12 L742.45 272.26 L743.2 272.4 L743.95 272.54 L744.7 272.67 L745.45 272.8 L746.2 272.94 L746.95 273.07 L747.7 273.2 L748.45 273.32 L749.2 273.45 L749.95 273.58 L750.7 273.7 L751.45 273.82 L752.2 273.95 L752.95 274.07 L753.7 274.19 L754.45 274.3 L755.2 274.42 L755.95 274.54 L756.7 274.65 L757.45 274.77 L758.2 274.88 L758.95 274.99 L759.7 275.1 L760.45 275.22 L761.2 275.33 L761.95 275.43 L762.7 275.54 L763.45 275.65 L764.2 275.76 L764.95 275.86 L765.7 275.97 L766.45 276.07 L767.2 276.18 L767.95 276.28 L768.7 276.38 L769.45 276.49 L770.2 276.59 L770.95 276.69 L771.7 276.79 L772.45 276.89 L773.2 276.99 L773.95 277.09 L774.7 277.19 L775.45 277.28 L776.2 277.38 L776.95 277.48 L777.7 277.58 L778.45 277.67 L779.2 277.77 L779.95 277.86 L780.7 277.96 L781.45 278.05 L782.2 278.15 L782.95 278.24 L783.7 278.34 L784.45 278.43 L785.2 278.52 L785.95 278.62 L786.7 278.71 L787.45 278.8 L788.2 278.9 L788.95 278.99 L789.7 279.08 L790.45 279.17 L791.2 279.26 L791.95 279.36 L792.7 279.45 L793.45 279.54 L794.2 279.63 L794.95 279.72 L795.7 279.81 L796.45 279.9 L797.2 279.99" stroke="#00ff00" stroke-width="1.75" fill="none" stroke-linejoin="round" stroke-dasharray="6.6 3.6"/>
<path d="M560.3 33.59 L561.05 36.55 L561.8 39.5 L562.55 42.42 L563.3 45.33 L564.05 48.21 L564.8 51.08 L565.55 53.93 L566.3 56.76 L567.05 59.57 L567.8 62.35 L568.55 65.12 L569.3 67.86 L570.05 70.58 L570.8 73.28 L571.55 75.96 L572.3 78.61 L573.05 81.24 L573.8 83.85 L574.55 86.43 L575.3 88.99 L576.05 91.53 L576.8 94.04 L577.55 96.53 L578.3 98.99 L579.05 101.43 L579.8 103.84 L580.55 106.23 L581.3 108.59 L582.05 110.93 L582.8 113.24 L583.55 115.53 L584.3 117.79 L585.05 120.03 L585.8 122.24 L586.55 124.43 L587.3 126.59 L588.05 128.72 L588.8 130.83 L589.55 132.92 L590.3 134.98 L591.05 137.02 L591.8 139.04 L592.55 141.03 L593.3 143 L594.05 144.95 L594.8 146.87 L595.55 148.78 L596.3 150.67 L597.05 152.53 L597.8 154.38 L598.55 156.21 L599.3 158.02 L600.05 159.81 L600.8 161.59 L601.55 163.34 L602.3 165.08 L603.05 166.81 L603.8 168.51 L604.55 170.2 L605.3 171.88 L606.05 173.54 L606.8 175.18 L607.55 176.81 L608.3 178.43 L609.05 180.02 L609.8 181.61 L610.55 183.18 L611.3 184.74 L612.05 186.28 L612.8 187.81 L613.55 189.32 L614.3 190.82 L615.05 192.3 L615.8 193.77 L616.55 195.22 L617.3 196.66 L618.05 198.09 L618.8 199.5 L619.55 200.9 L620.3 202.28 L621.05 203.64 L621.8 205 L622.55 206.34 L623.3 207.66 L624.05 208.97 L624.8 210.26 L625.55 211.54 L626.3 212.81 L627.05 214.06 L627.8 215.3 L628.55 216.52 L629.3 217.73 L630.05 218.93 L630.8 220.11 L631.55 221.27 L632.3 222.43 L633.05 223.57 L633.8 224.69 L634.55 225.8 L635.3 226.9 L636.05 227.98 L636.8 229.05 L637.55 230.11 L638.3 231.15 L639.05 232.18 L639.8 233.2 L640.55 234.2 L641.3 235.19 L642.05 236.16 L642.8 237.11 L643.55 238.05 L644.3 238.98 L645.05 239.88 L645.8 240.77 L646.55 241.65 L647.3 242.5 L648.05 243.34 L648.8 244.16 L649.55 244.96 L650.3 245.75 L651.05 246.52 L651.8 247.27 L652.55 248.01 L653.3 248.74 L654.05 249.44 L654.8 250.14 L655.55 250.82 L656.3 251.48 L657.05 252.14 L657.8 252.78 L658.55 253.4 L659.3 254.02 L660.05 254.62 L660.8 255.21 L661.55 255.79 L662.3 256.36 L663.05 256.92 L663.8 257.47 L664.55 258.01 L665.3 258.53 L666.05 259.05 L666.8 259.56 L667.55 260.06 L668.3 260.55 L669.05 261.03 L669.8 261.5 L670.55 261.96 L671.3 262.42 L672.05 262.87 L672.8 263.31 L673.55 263.74 L674.3 264.16 L675.05 264.58 L675.8 264.99 L676.55 265.39 L677.3 265.79 L678.05 266.18 L678.8 266.56 L679.55 266.94 L680.3 267.31 L681.05 267.67 L681.8 268.03 L682.55 268.38 L683.3 268.72 L684.05 269.06 L684.8 269.39 L685.55 269.71 L686.3 270.03 L687.05 270.35 L687.8 270.65 L688.55 270.96 L689.3 271.25 L690.05 271.54 L690.8 271.83 L691.55 272.11 L692.3 272.38 L693.05 272.65 L693.8 272.92 L694.55 273.18 L695.3 273.43 L696.05 273.69 L696.8 273.93 L697.55 274.17 L698.3 274.41 L699.05 274.65 L699.8 274.88 L700.55 275.1 L701.3 275.32 L702.05 275.54 L702.8 275.76 L703.55 275.97 L704.3 276.17 L705.05 276.38 L705.8 276.58 L706.55 276.78 L707.3 276.97 L708.05 277.16 L708.8 277.35 L709.55 277.53 L710.3 277.71 L711.05 277.89 L711.8 278.07 L712.55 278.24 L713.3 278.41 L714.05 278.58 L714.8 278.74 L715.55 278.9 L716.3 279.06 L717.05 279.22 L717.8 279.37 L718.55 279.53 L719.3 279.68 L720.05 279.82 L720.8 279.97 L721.55 280.11 L722.3 280.25 L723.05 280.39 L723.8 280.53 L724.55 280.66 L725.3 280.8 L726.05 280.93 L726.8 281.06 L727.55 281.18 L728.3 281.31 L729.05 281.43 L729.8 281.55 L730.55 281.67 L731.3 281.79 L732.05 281.91 L732.8 282.02 L733.55 282.14 L734.3 282.25 L735.05 282.36 L735.8 282.47 L736.55 282.58 L737.3 282.68 L738.05 282.79 L738.8 282.89 L739.55 282.99 L740.3 283.09 L741.05 283.19 L741.8 283.29 L742.55 283.39 L743.3 283.48 L744.05 283.58 L744.8 283.67 L745.55 283.76 L746.3 283.85 L747.05 283.94 L747.8 284.03 L748.55 284.12 L749.3 284.2 L750.05 284.29 L750.8 284.37 L751.55 284.46 L752.3 284.54 L753.05 284.62 L753.8 284.7 L754.55 284.78 L755.3 284.86 L756.05 284.94 L756.8 285.01 L757.55 285.09 L758.3 285.16 L759.05 285.24 L759.8 285.31 L760.55 285.38 L761.3 285.46 L762.05 285.53 L762.8 285.6 L763.55 285.67 L764.3 285.74 L765.05 285.8 L765.8 285.87 L766.55 285.94 L767.3 286 L768.05 286.07 L768.8 286.13 L769.55 286.2 L770.3 286.26 L771.05 286.32 L771.8 286.39 L772.55 286.45 L773.3 286.51 L774.05 286.57 L774.8 286.63 L775.55 286.69 L776.3 286.75 L777.05 286.8 L777.8 286.86 L778.55 286.92 L779.3 286.97 L780.05 287.03 L780.8 287.08 L781.55 287.14 L782.3 287.19 L783.05 287.25 L783.8 287.3 L784.55 287.35 L785.3 287.41 L786.05 287.46 L786.8 287.51 L787.55 287.56 L788.3 287.61 L789.05 287.66 L789.8 287.71 L790.55 287.76 L791.3 287.81 L792.05 287.86 L792.8 287.91 L793.55 287.95 L794.3 288 L795.05 288.05 L795.8 288.09 L796.55 288.14 L797.3 288.19" stroke="#00ff00" stroke-width="1.75" fill="none" stroke-linejoin="round" stroke-dasharray="6.6 3.6"/>
<path d="M584.6 33.46 L585.35 36.24 L586.1 39 L586.85 41.73 L587.6 44.43 L588.35 47.1 L589.1 49.75 L589.85 52.37 L590.6 54.96 L591.35 57.53 L592.1 60.07 L592.85 62.59 L593.6 65.07 L594.35 67.54 L595.1 69.98 L595.85 72.39 L596.6 74.78 L597.35 77.14 L598.1 79.48 L598.85 81.8 L599.6 84.09 L600.35 86.36 L601.1 88.6 L601.85 90.82 L602.6 93.02 L603.35 95.19 L604.1 97.34 L604.85 99.47 L605.6 101.57 L606.35 103.66 L607.1 105.72 L607.85 107.76 L608.6 109.77 L609.35 111.77 L610.1 113.75 L610.85 115.7 L611.6 117.63 L612.35 119.54 L613.1 121.43 L613.85 123.3 L614.6 125.15 L615.35 126.99 L616.1 128.8 L616.85 130.59 L617.6 132.36 L618.35 134.11 L619.1 135.84 L619.85 137.56 L620.6 139.25 L621.35 140.93 L622.1 142.59 L622.85 144.23 L623.6 145.85 L624.35 147.45 L625.1 149.04 L625.85 150.61 L626.6 152.16 L627.35 153.69 L628.1 155.21 L628.85 156.71 L629.6 158.2 L630.35 159.66 L631.1 161.11 L631.85 162.55 L632.6 163.97 L633.35 165.37 L634.1 166.76 L634.85 168.13 L635.6 169.48 L636.35 170.82 L637.1 172.15 L637.85 173.46 L638.6 174.76 L639.35 176.04 L640.1 177.3 L640.85 178.56 L641.6 179.79 L642.35 181.02 L643.1 182.23 L643.85 183.42 L644.6 184.61 L645.35 185.78 L646.1 186.93 L646.85 188.07 L647.6 189.2 L648.35 190.32 L649.1 191.42 L649.85 192.52 L650.6 193.59 L651.35 194.66 L652.1 195.72 L652.85 196.76 L653.6 197.79 L654.35 198.81 L655.1 199.81 L655.85 200.81 L656.6 201.79 L657.35 202.76 L658.1 203.72 L658.85 204.67 L659.6 205.61 L660.35 206.54 L661.1 207.46 L661.85 208.36 L662.6 209.26 L663.35 210.14 L664.1 211.02 L664.85 211.88 L665.6 212.74 L666.35 213.58 L667.1 214.42 L667.85 215.24 L668.6 216.06 L669.35 216.86 L670.1 217.66 L670.85 218.45 L671.6 219.23 L672.35 220 L673.1 220.76 L673.85 221.51 L674.6 222.25 L675.35 222.98 L676.1 223.71 L676.85 224.42 L677.6 225.13 L678.35 225.83 L679.1 226.52 L679.85 227.21 L680.6 227.88 L681.35 228.55 L682.1 229.21 L682.85 229.86 L683.6 230.51 L684.35 231.14 L685.1 231.77 L685.85 232.39 L686.6 233.01 L687.35 233.62 L688.1 234.22 L688.85 234.81 L689.6 235.39 L690.35 235.97 L691.1 236.54 L691.85 237.11 L692.6 237.67 L693.35 238.22 L694.1 238.77 L694.85 239.31 L695.6 239.84 L696.35 240.36 L697.1 240.88 L697.85 241.4 L698.6 241.91 L699.35 242.41 L700.1 242.9 L700.85 243.39 L701.6 243.88 L702.35 244.36 L703.1 244.83 L703.85 245.3 L704.6 245.76 L705.35 246.21 L706.1 246.66 L706.85 247.11 L707.6 247.55 L708.35 247.98 L709.1 248.41 L709.85 248.84 L710.6 249.26 L711.35 249.67 L712.1 250.08 L712.85 250.49 L713.6 250.89 L714.35 251.28 L715.1 251.67 L715.85 252.06 L716.6 252.44 L717.35 252.81 L718.1 253.19 L718.85 253.55 L719.6 253.92 L720.35 254.28 L721.1 254.63 L721.85 254.98 L722.6 255.33 L723.35 255.67 L724.1 256.01 L724.85 256.34 L725.6 256.67 L726.35 257 L727.1 257.32 L727.85 257.64 L728.6 257.95 L729.35 258.26 L730.1 258.57 L730.85 258.87 L731.6 259.17 L732.35 259.47 L733.1 259.76 L733.85 260.05 L734.6 260.34 L735.35 260.62 L736.1 260.9 L736.85 261.17 L737.6 261.44 L738.35 261.71 L739.1 261.98 L739.85 262.24 L740.6 262.5 L741.35 262.76 L742.1 263.01 L742.85 263.26 L743.6 263.51 L744.35 263.75 L745.1 263.99 L745.85 264.23 L746.6 264.47 L747.35 264.7 L748.1 264.93 L748.85 265.15 L749.6 265.38 L750.35 265.6 L751.1 265.82 L751.85 266.04 L752.6 266.25 L753.35 266.46 L754.1 266.67 L754.85 266.87 L755.6 267.08 L756.35 267.28 L757.1 267.48 L757.85 267.67 L758.6 267.87 L759.35 268.06 L760.1 268.25 L760.85 268.43 L761.6 268.62 L762.35 268.8 L763.1 268.98 L763.85 269.16 L764.6 269.33 L765.35 269.51 L766.1 269.68 L766.85 269.85 L767.6 270.01 L768.35 270.18 L769.1 270.34 L769.85 270.5 L770.6 270.66 L771.35 270.82 L772.1 270.97 L772.85 271.12 L773.6 271.28 L774.35 271.42 L775.1 271.57 L775.85 271.72 L776.6 271.86 L777.35 272 L778.1 272.14 L778.85 272.28 L779.6 272.42 L780.35 272.55 L781.1 272.69 L781.85 272.82 L782.6 272.95 L783.35 273.07 L784.1 273.2 L784.85 273.33 L785.6 273.45 L786.35 273.57 L787.1 273.69 L787.85 273.81 L788.6 273.93 L789.35 274.04 L790.1 274.16 L790.85 274.27 L791.6 274.38 L792.35 274.49 L793.1 274.6 L793.85 274.7 L794.6 274.81 L795.35 274.91 L796.1 275.01 L796.85 275.12" stroke="#ff0000" stroke-width="1.75" fill="none" stroke-linejoin="round" />
<path d="M593.3 33.65 L594.05 36.32 L594.8 38.96 L595.55 41.58 L596.3 44.16 L597.05 46.72 L597.8 49.25 L598.55 51.75 L599.3 54.22 L600.05 56.67 L600.8 59.09 L601.55 61.48 L602.3 63.85 L603.05 66.19 L603.8 68.5 L604.55 70.79 L605.3 73.05 L606.05 75.29 L606.8 77.51 L607.55 79.7 L608.3 81.86 L609.05 84.01 L609.8 86.13 L610.55 88.22 L611.3 90.29 L612.05 92.35 L612.8 94.37 L613.55 96.38 L614.3 98.36 L615.05 100.32 L615.8 102.26 L616.55 104.18 L617.3 106.08 L618.05 107.96 L618.8 109.81 L619.55 111.65 L620.3 113.47 L621.05 115.26 L621.8 117.04 L622.55 118.79 L623.3 120.53 L624.05 122.25 L624.8 123.95 L625.55 125.63 L626.3 127.29 L627.05 128.94 L627.8 130.57 L628.55 132.17 L629.3 133.77 L630.05 135.34 L630.8 136.9 L631.55 138.44 L632.3 139.96 L633.05 141.46 L633.8 142.95 L634.55 144.43 L635.3 145.88 L636.05 147.33 L636.8 148.75 L637.55 150.16 L638.3 151.56 L639.05 152.94 L639.8 154.3 L640.55 155.65 L641.3 156.99 L642.05 158.31 L642.8 159.61 L643.55 160.9 L644.3 162.18 L645.05 163.44 L645.8 164.69 L646.55 165.93 L647.3 167.15 L648.05 168.36 L648.8 169.56 L649.55 170.74 L650.3 171.91 L651.05 173.07 L651.8 174.22 L652.55 175.35 L653.3 176.47 L654.05 177.58 L654.8 178.68 L655.55 179.76 L656.3 180.83 L657.05 181.9 L657.8 182.95 L658.55 183.98 L659.3 185.01 L660.05 186.03 L660.8 187.03 L661.55 188.03 L662.3 189.01 L663.05 189.98 L663.8 190.94 L664.55 191.9 L665.3 192.84 L666.05 193.77 L666.8 194.69 L667.55 195.6 L668.3 196.5 L669.05 197.4 L669.8 198.28 L670.55 199.15 L671.3 200.01 L672.05 200.87 L672.8 201.71 L673.55 202.55 L674.3 203.38 L675.05 204.2 L675.8 205 L676.55 205.8 L677.3 206.6 L678.05 207.38 L678.8 208.16 L679.55 208.92 L680.3 209.68 L681.05 210.43 L681.8 211.17 L682.55 211.91 L683.3 212.64 L684.05 213.35 L684.8 214.07 L685.55 214.77 L686.3 215.47 L687.05 216.15 L687.8 216.84 L688.55 217.51 L689.3 218.18 L690.05 218.84 L690.8 219.49 L691.55 220.14 L692.3 220.77 L693.05 221.41 L693.8 222.03 L694.55 222.65 L695.3 223.26 L696.05 223.87 L696.8 224.47 L697.55 225.06 L698.3 225.65 L699.05 226.23 L699.8 226.8 L700.55 227.37 L701.3 227.93 L702.05 228.49 L702.8 229.04 L703.55 229.58 L704.3 230.12 L705.05 230.66 L705.8 231.18 L706.55 231.71 L707.3 232.22 L708.05 232.73 L708.8 233.24 L709.55 233.74 L710.3 234.24 L711.05 234.73 L711.8 235.21 L712.55 235.69 L713.3 236.16 L714.05 236.63 L714.8 237.1 L715.55 237.56 L716.3 238.01 L717.05 238.46 L717.8 238.91 L718.55 239.35 L719.3 239.79 L720.05 240.22 L720.8 240.65 L721.55 241.07 L722.3 241.49 L723.05 241.9 L723.8 242.31 L724.55 242.72 L725.3 243.12 L726.05 243.51 L726.8 243.91 L727.55 244.3 L728.3 244.68 L729.05 245.06 L729.8 245.44 L730.55 245.81 L731.3 246.18 L732.05 246.55 L732.8 246.91 L733.55 247.26 L734.3 247.62 L735.05 247.97 L735.8 248.32 L736.55 248.66 L737.3 249 L738.05 249.33 L738.8 249.67 L739.55 250 L740.3 250.32 L741.05 250.64 L741.8 250.96 L742.55 251.28 L743.3 251.59 L744.05 251.9 L744.8 252.21 L745.55 252.51 L746.3 252.81 L747.05 253.1 L747.8 253.4 L748.55 253.69 L749.3 253.98 L750.05 254.26 L750.8 254.54 L751.55 254.82 L752.3 255.1 L753.05 255.37 L753.8 255.64 L754.55 255.91 L755.3 256.17 L756.05 256.44 L756.8 256.69 L757.55 256.95 L758.3 257.21 L759.05 257.46 L759.8 257.71 L760.55 257.95 L761.3 258.2 L762.05 258.44 L762.8 258.68 L763.55 258.91 L764.3 259.15 L765.05 259.38 L765.8 259.61 L766.55 259.83 L767.3 260.06 L768.05 260.28 L768.8 260.5 L769.55 260.72 L770.3 260.93 L771.05 261.15 L771.8 261.36 L772.55 261.57 L773.3 261.77 L774.05 261.98 L774.8 262.18 L775.55 262.38 L776.3 262.58 L777.05 262.78 L777.8 262.97 L778.55 263.16 L779.3 263.35 L780.05 263.54 L780.8 263.73 L781.55 263.91 L782.3 264.1 L783.05 264.28 L783.8 264.46 L784.55 264.63 L785.3 264.81 L786.05 264.98 L786.8 265.15 L787.55 265.32 L788.3 265.49 L789.05 265.66 L789.8 265.82 L790.55 265.99 L791.3 266.15 L792.05 266.31 L792.8 266.47 L793.55 266.62 L794.3 266.78 L795.05 266.93 L795.8 267.08 L796.55 267.23 L797.3 267.38" stroke="#ff0000" stroke-width="1.75" fill="none" stroke-linejoin="round" stroke-dasharray="6.6 3.6"/>
<path d="M576.7 33.51 L577.45 36.36 L578.2 39.19 L578.95 42 L579.7 44.79 L580.45 47.56 L581.2 50.31 L581.95 53.03 L582.7 55.74 L583.45 58.43 L584.2 61.09 L584.95 63.73 L585.7 66.36 L586.45 68.96 L587.2 71.54 L587.95 74.1 L588.7 76.63 L589.45 79.15 L590.2 81.64 L590.95 84.11 L591.7 86.56 L592.45 88.99 L593.2 91.39 L593.95 93.77 L594.7 96.14 L595.45 98.47 L596.2 100.79 L596.95 103.09 L597.7 105.36 L598.45 107.61 L599.2 109.84 L599.95 112.04 L600.7 114.23 L601.45 116.39 L602.2 118.53 L602.95 120.65 L603.7 122.74 L604.45 124.82 L605.2 126.87 L605.95 128.9 L606.7 130.91 L607.45 132.9 L608.2 134.87 L608.95 136.81 L609.7 138.74 L610.45 140.64 L611.2 142.52 L611.95 144.39 L612.7 146.23 L613.45 148.05 L614.2 149.84 L614.95 151.62 L615.7 153.38 L616.45 155.12 L617.2 156.84 L617.95 158.53 L618.7 160.21 L619.45 161.87 L620.2 163.51 L620.95 165.12 L621.7 166.72 L622.45 168.3 L623.2 169.86 L623.95 171.41 L624.7 172.93 L625.45 174.43 L626.2 175.92 L626.95 177.38 L627.7 178.83 L628.45 180.26 L629.2 181.68 L629.95 183.07 L630.7 184.45 L631.45 185.81 L632.2 187.16 L632.95 188.49 L633.7 189.8 L634.45 191.1 L635.2 192.38 L635.95 193.65 L636.7 194.9 L637.45 196.14 L638.2 197.36 L638.95 198.57 L639.7 199.77 L640.45 200.96 L641.2 202.13 L641.95 203.29 L642.7 204.44 L643.45 205.57 L644.2 206.69 L644.95 207.8 L645.7 208.9 L646.45 209.99 L647.2 211.07 L647.95 212.13 L648.7 213.19 L649.45 214.23 L650.2 215.27 L650.95 216.29 L651.7 217.31 L652.45 218.31 L653.2 219.3 L653.95 220.29 L654.7 221.26 L655.45 222.23 L656.2 223.19 L656.95 224.13 L657.7 225.07 L658.45 226 L659.2 226.92 L659.95 227.83 L660.7 228.74 L661.45 229.63 L662.2 230.52 L662.95 231.4 L663.7 232.26 L664.45 233.12 L665.2 233.97 L665.95 234.81 L666.7 235.64 L667.45 236.46 L668.2 237.27 L668.95 238.07 L669.7 238.86 L670.45 239.63 L671.2 240.4 L671.95 241.15 L672.7 241.9 L673.45 242.63 L674.2 243.34 L674.95 244.05 L675.7 244.74 L676.45 245.43 L677.2 246.1 L677.95 246.76 L678.7 247.4 L679.45 248.04 L680.2 248.66 L680.95 249.27 L681.7 249.87 L682.45 250.45 L683.2 251.03 L683.95 251.59 L684.7 252.14 L685.45 252.68 L686.2 253.2 L686.95 253.72 L687.7 254.22 L688.45 254.71 L689.2 255.19 L689.95 255.66 L690.7 256.11 L691.45 256.56 L692.2 256.99 L692.95 257.41 L693.7 257.82 L694.45 258.22 L695.2 258.61 L695.95 258.98 L696.7 259.35 L697.45 259.7 L698.2 260.05 L698.95 260.38 L699.7 260.7 L700.45 261.02 L701.2 261.32 L701.95 261.61 L702.7 261.9 L703.45 262.17 L704.2 262.44 L704.95 262.71 L705.7 262.96 L706.45 263.21 L707.2 263.46 L707.95 263.7 L708.7 263.94 L709.45 264.18 L710.2 264.41 L710.95 264.64 L711.7 264.87 L712.45 265.1 L713.2 265.32 L713.95 265.55 L714.7 265.77 L715.45 266 L716.2 266.22 L716.95 266.45 L717.7 266.68 L718.45 266.91 L719.2 267.14 L719.95 267.37 L720.7 267.61 L721.45 267.85 L722.2 268.09 L722.95 268.34 L723.7 268.59 L724.45 268.84 L725.2 269.09 L725.95 269.35 L726.7 269.61 L727.45 269.87 L728.2 270.13 L728.95 270.4 L729.7 270.66 L730.45 270.92 L731.2 271.19 L731.95 271.45 L732.7 271.72 L733.45 271.98 L734.2 272.24 L734.95 272.5 L735.7 272.76 L736.45 273.02 L737.2 273.28 L737.95 273.53 L738.7 273.79 L739.45 274.04 L740.2 274.29 L740.95 274.53 L741.7 274.78 L742.45 275.02 L743.2 275.25 L743.95 275.49 L744.7 275.72 L745.45 275.95 L746.2 276.17 L746.95 276.39 L747.7 276.61 L748.45 276.82 L749.2 277.03 L749.95 277.24 L750.7 277.44 L751.45 277.64 L752.2 277.84 L752.95 278.03 L753.7 278.21 L754.45 278.4 L755.2 278.57 L755.95 278.75 L756.7 278.92 L757.45 279.09 L758.2 279.25 L758.95 279.41 L759.7 279.56 L760.45 279.71 L761.2 279.85 L761.95 279.99 L762.7 280.13 L763.45 280.26 L764.2 280.39 L764.95 280.52 L765.7 280.64 L766.45 280.75 L767.2 280.86 L767.95 280.97 L768.7 281.07 L769.45 281.17 L770.2 281.26 L770.95 281.35 L771.7 281.44 L772.45 281.52 L773.2 281.59 L773.95 281.67 L774.7 281.73 L775.45 281.8 L776.2 281.86 L776.95 281.91 L777.7 281.96 L778.45 282 L779.2 282.04 L779.95 282.08 L780.7 282.11 L781.45 282.14 L782.2 282.16 L782.95 282.18 L783.7 282.19 L784.45 282.19 L785.2 282.2 L785.95 282.19 L786.7 282.18 L787.45 282.17 L788.2 282.15 L788.95 282.12 L789.7 282.09 L790.45 282.05 L791.2 282.01 L791.95 281.96 L792.7 281.91 L793.45 281.84 L794.2 281.77 L794.95 281.7 L795.7 281.61 L796.45 281.52 L797.2 281.42" stroke="#ff0000" stroke-width="1.75" fill="none" stroke-linejoin="round" stroke-dasharray="6.6 3.6"/>
</g>
<line x1="525.2" y1="29" x2="525.2" y2="299.4" stroke="#000" stroke-width="2" />
<line x1="524.2" y1="298.4" x2="800.7" y2="298.4" stroke="#000" stroke-width="2" />
<line x1="525.2" y1="293" x2="529.2" y2="293" stroke="#000" stroke-width="1.7" />
<line x1="525.2" y1="260.9" x2="529.2" y2="260.9" stroke="#000" stroke-width="1.7" />
<line x1="525.2" y1="228.8" x2="529.2" y2="228.8" stroke="#000" stroke-width="1.7" />
<line x1="525.2" y1="196.7" x2="529.2" y2="196.7" stroke="#000" stroke-width="1.7" />
<line x1="525.2" y1="164.6" x2="529.2" y2="164.6" stroke="#000" stroke-width="1.7" />
<line x1="525.2" y1="132.5" x2="529.2" y2="132.5" stroke="#000" stroke-width="1.7" />
<line x1="525.2" y1="100.4" x2="529.2" y2="100.4" stroke="#000" stroke-width="1.7" />
<line x1="525.2" y1="68.3" x2="529.2" y2="68.3" stroke="#000" stroke-width="1.7" />
<line x1="525.2" y1="36.2" x2="529.2" y2="36.2" stroke="#000" stroke-width="1.7" />
<line x1="546.3" y1="298.4" x2="546.3" y2="292.6" stroke="#000" stroke-width="1.7" />
<line x1="571.98" y1="298.4" x2="571.98" y2="292.6" stroke="#000" stroke-width="1.7" />
<line x1="597.66" y1="298.4" x2="597.66" y2="292.6" stroke="#000" stroke-width="1.7" />
<line x1="623.34" y1="298.4" x2="623.34" y2="292.6" stroke="#000" stroke-width="1.7" />
<line x1="649.02" y1="298.4" x2="649.02" y2="292.6" stroke="#000" stroke-width="1.7" />
<line x1="674.7" y1="298.4" x2="674.7" y2="292.6" stroke="#000" stroke-width="1.7" />
<line x1="700.38" y1="298.4" x2="700.38" y2="292.6" stroke="#000" stroke-width="1.7" />
<line x1="726.06" y1="298.4" x2="726.06" y2="292.6" stroke="#000" stroke-width="1.7" />
<line x1="751.74" y1="298.4" x2="751.74" y2="292.6" stroke="#000" stroke-width="1.7" />
<line x1="777.42" y1="298.4" x2="777.42" y2="292.6" stroke="#000" stroke-width="1.7" />
<g transform="translate(520.8,40)" fill="#1c1c1c" >
<text x="-15.27" y="0" font-size="12.42" textLength="15.27" lengthAdjust="spacingAndGlyphs">16</text>
</g>
<g transform="translate(520.8,104.2)" fill="#1c1c1c" >
<text x="-15.27" y="0" font-size="12.42" textLength="15.27" lengthAdjust="spacingAndGlyphs">12</text>
</g>
<g transform="translate(520.8,168.4)" fill="#1c1c1c" >
<text x="-7.63" y="0" font-size="12.42" textLength="7.63" lengthAdjust="spacingAndGlyphs">8</text>
</g>
<g transform="translate(520.8,232.6)" fill="#1c1c1c" >
<text x="-7.63" y="0" font-size="12.42" textLength="7.63" lengthAdjust="spacingAndGlyphs">4</text>
</g>
<g transform="translate(520.8,298.6)" fill="#1c1c1c" >
<text x="-7.63" y="0" font-size="12.42" textLength="7.63" lengthAdjust="spacingAndGlyphs">0</text>
</g>
<g transform="translate(571.58,311.3)" fill="#1c1c1c" >
<text x="-15.52" y="0" font-size="12.42" textLength="31.05" lengthAdjust="spacingAndGlyphs">-0.08</text>
</g>
<g transform="translate(622.94,311.3)" fill="#1c1c1c" >
<text x="-15.52" y="0" font-size="12.42" textLength="31.05" lengthAdjust="spacingAndGlyphs">-0.04</text>
</g>
<g transform="translate(726.06,311.3)" fill="#1c1c1c" >
<text x="-13.36" y="0" font-size="12.42" textLength="26.72" lengthAdjust="spacingAndGlyphs">0.04</text>
</g>
<g transform="translate(777.42,311.3)" fill="#1c1c1c" >
<text x="-13.36" y="0" font-size="12.42" textLength="26.72" lengthAdjust="spacingAndGlyphs">0.08</text>
</g>
<g transform="translate(674.7,311.3)" fill="#1c1c1c" >
<text x="-3.82" y="0" font-size="12.42" textLength="7.63" lengthAdjust="spacingAndGlyphs">0</text>
</g>
<g transform="translate(498.5,21.6)" fill="#1c1c1c" >
<text x="-3.81" y="0" font-size="12.42" textLength="7.62" lengthAdjust="spacingAndGlyphs">d</text>
</g>
<g transform="translate(505.3,184.8) rotate(-90)" fill="#1c1c1c" >
<text x="-43.3" y="0" font-size="12.83" textLength="7.97" lengthAdjust="spacingAndGlyphs">n</text>
<text x="-35.33" y="2.11" font-size="8.98" textLength="11.48" lengthAdjust="spacingAndGlyphs">eff</text>
<text x="-19.48" y="0" font-size="12.83" textLength="20.9" lengthAdjust="spacingAndGlyphs">[10</text>
<text x="1.42" y="-4.59" font-size="8.98" textLength="11.2" lengthAdjust="spacingAndGlyphs">26</text>
<text x="17" y="0" font-size="12.83" textLength="12.25" lengthAdjust="spacingAndGlyphs">m</text>
<text x="29.24" y="-4.59" font-size="8.98" textLength="8.78" lengthAdjust="spacingAndGlyphs">-3</text>
<text x="38.39" y="0" font-size="12.83" textLength="4.91" lengthAdjust="spacingAndGlyphs">]</text>
</g>
<g transform="translate(665,335)" fill="#1c1c1c" >
<text x="-34.76" y="0" font-size="12.42" textLength="7.58" lengthAdjust="spacingAndGlyphs">E</text>
<text x="-27.18" y="2.04" font-size="8.69" textLength="4.83" lengthAdjust="spacingAndGlyphs">F</text>
<text x="-21.99" y="0" font-size="12.42" textLength="11.91" lengthAdjust="spacingAndGlyphs">-E</text>
<text x="-10.07" y="3.96" font-size="8.69" textLength="4.83" lengthAdjust="spacingAndGlyphs">F</text>
<text x="-10.07" y="-3.72" font-size="8.69" textLength="15.71" lengthAdjust="spacingAndGlyphs">PES</text>
<text x="9.81" y="0" font-size="12.42" textLength="24.96" lengthAdjust="spacingAndGlyphs">[eV]</text>
</g>
<g transform="translate(600.2,25.8)" fill="#ff0000" >
<text x="-23.4" y="0" font-size="15.84" textLength="9.71" lengthAdjust="spacingAndGlyphs">p</text>
<text x="-13.68" y="2.6" font-size="11.08" textLength="6.81" lengthAdjust="spacingAndGlyphs">1</text>
<text x="-6.41" y="0" font-size="15.84" textLength="22.53" lengthAdjust="spacingAndGlyphs">+p</text>
<text x="16.12" y="2.6" font-size="11.08" textLength="6.81" lengthAdjust="spacingAndGlyphs">2</text>
</g>
<g transform="translate(564.5,126)" fill="#00ff00" >
<text x="0" y="0" font-size="15.84" textLength="9.71" lengthAdjust="spacingAndGlyphs">p</text>
<text x="9.71" y="2.6" font-size="11.08" textLength="6.81" lengthAdjust="spacingAndGlyphs">1</text>
</g>
<g transform="translate(565.2,201.2)" fill="#0000ff" >
<text x="0" y="0" font-size="15.84" textLength="9.71" lengthAdjust="spacingAndGlyphs">p</text>
<text x="9.71" y="2.6" font-size="11.08" textLength="6.81" lengthAdjust="spacingAndGlyphs">2</text>
</g>
<g transform="translate(756,237)" fill="#1c1c1c" >
<text x="-15.58" y="0" font-size="13.87" textLength="8.49" lengthAdjust="spacingAndGlyphs">n</text>
<text x="-7.09" y="2.28" font-size="9.71" textLength="22.27" lengthAdjust="spacingAndGlyphs">eff,H</text>
</g>
<rect x="656.5" y="16" width="153.8" height="128" fill="#fff" stroke="#2a2a2a" stroke-width="1.8"/>
<line x1="656.5" y1="125.7" x2="659.5" y2="125.7" stroke="#222" stroke-width="1" />
<line x1="810.3" y1="125.7" x2="807.3" y2="125.7" stroke="#222" stroke-width="1" />
<line x1="656.5" y1="107.8" x2="659.5" y2="107.8" stroke="#222" stroke-width="1" />
<line x1="810.3" y1="107.8" x2="807.3" y2="107.8" stroke="#222" stroke-width="1" />
<line x1="656.5" y1="89.9" x2="659.5" y2="89.9" stroke="#222" stroke-width="1" />
<line x1="810.3" y1="89.9" x2="807.3" y2="89.9" stroke="#222" stroke-width="1" />
<line x1="656.5" y1="72" x2="659.5" y2="72" stroke="#222" stroke-width="1" />
<line x1="810.3" y1="72" x2="807.3" y2="72" stroke="#222" stroke-width="1" />
<line x1="656.5" y1="54.1" x2="659.5" y2="54.1" stroke="#222" stroke-width="1" />
<line x1="810.3" y1="54.1" x2="807.3" y2="54.1" stroke="#222" stroke-width="1" />
<line x1="656.5" y1="36.2" x2="659.5" y2="36.2" stroke="#222" stroke-width="1" />
<line x1="810.3" y1="36.2" x2="807.3" y2="36.2" stroke="#222" stroke-width="1" />
<line x1="686" y1="144" x2="686" y2="141" stroke="#222" stroke-width="1" />
<line x1="686" y1="16" x2="686" y2="19" stroke="#222" stroke-width="1" />
<line x1="716" y1="144" x2="716" y2="141" stroke="#222" stroke-width="1" />
<line x1="716" y1="16" x2="716" y2="19" stroke="#222" stroke-width="1" />
<line x1="746" y1="144" x2="746" y2="141" stroke="#222" stroke-width="1" />
<line x1="746" y1="16" x2="746" y2="19" stroke="#222" stroke-width="1" />
<line x1="776" y1="144" x2="776" y2="141" stroke="#222" stroke-width="1" />
<line x1="776" y1="16" x2="776" y2="19" stroke="#222" stroke-width="1" />
<line x1="806" y1="144" x2="806" y2="141" stroke="#222" stroke-width="1" />
<line x1="806" y1="16" x2="806" y2="19" stroke="#222" stroke-width="1" />
<path d="M656.82 130.58 L657.64 132.78 L658.34 133.92 L658.95 134.25 L659.52 134.01 L660.06 133.45 L660.61 132.81 L661.2 132.33 L661.86 132.26 L662.61 132.78 L663.44 133.77 L664.32 134.99 L665.2 136.2 L666.07 137.18 L666.91 137.8 L667.74 137.96 L668.57 137.56 L669.41 136.56 L670.25 135.16 L671.09 133.69 L671.94 132.51 L672.78 131.91 L673.62 131.78 L674.46 131.83 L675.3 131.72 L676.14 131.19 L676.98 130.36 L677.82 129.64 L678.67 129.42 L679.51 130.08 L680.35 131.48 L681.19 133.15 L682.03 134.58 L682.87 135.34 L683.71 135.34 L684.55 134.89 L685.39 134.26 L686.24 133.76 L687.08 133.47 L687.92 133.34 L688.76 133.31 L689.6 133.3 L690.44 133.24 L691.28 133.05 L692.12 132.65 L692.96 131.96 L693.81 131.03 L694.65 130.05 L695.49 129.23 L696.33 128.76 L697.17 128.69 L698.01 128.82 L698.85 128.93 L699.69 128.8 L700.53 128.31 L701.37 127.5 L702.22 126.42 L703.06 125.13 L703.9 123.68 L704.74 122.14 L705.58 120.57 L706.42 119.03 L707.26 117.57 L708.1 116.15 L708.94 114.74 L709.79 113.33 L710.63 111.86 L711.47 110.28 L712.31 108.52 L713.15 106.52 L713.98 104.26 L714.81 101.77 L715.66 99.12 L716.52 96.39 L717.39 93.6 L718.26 90.75 L719.1 87.76 L719.88 84.61 L720.58 81.29 L721.23 78.02 L721.88 75.09 L722.57 72.75 L723.33 71.23 L724.13 70.34 L724.9 69.79 L725.61 69.28 L726.2 68.57 L726.7 67.54 L727.17 66.18 L727.64 64.45 L728.16 62.32 L728.74 59.88 L729.34 57.24 L729.97 54.5 L730.59 51.78 L731.2 49.14 L731.79 46.63 L732.35 44.27 L732.87 42.14 L733.37 40.35 L733.86 39.08 L734.37 38.52 L734.91 38.82 L735.48 39.75 L736.08 40.89 L736.69 41.76 L737.31 41.96 L737.92 41.56 L738.51 41.01 L739.08 40.79 L739.61 41.32 L740.11 42.73 L740.6 44.81 L741.1 47.36 L741.64 50.18 L742.21 52.98 L742.8 55.36 L743.41 56.91 L744.03 57.27 L744.64 56.54 L745.24 55.41 L745.81 54.59 L746.34 54.79 L746.85 56.27 L747.34 58.73 L747.84 61.85 L748.37 65.27 L748.94 68.7 L749.54 71.87 L750.15 74.56 L750.74 76.49 L751.32 77.64 L751.89 78.32 L752.48 78.87 L753.11 79.66 L753.77 80.89 L754.45 82.52 L755.14 84.47 L755.8 86.66 L756.43 89.03 L757.03 91.53 L757.6 94.14 L758.14 96.82 L758.65 99.53 L759.14 102.17 L759.64 104.65 L760.16 106.86 L760.7 108.72 L761.27 110.11 L761.87 110.96 L762.52 111.14 L763.19 110.63 L763.88 109.59 L764.56 108.23 L765.21 106.76 L765.81 105.38 L766.39 104.09 L766.96 102.87 L767.56 101.7 L768.21 100.6 L768.89 99.74 L769.58 99.38 L770.25 99.76 L770.89 101.09 L771.48 103.28 L772.06 106.12 L772.62 109.43 L773.19 113 L773.76 116.43 L774.35 119.29 L774.96 121.13 L775.6 121.58 L776.26 120.97 L776.94 119.99 L777.64 119.35 L778.33 119.68 L779.03 120.95 L779.7 122.79 L780.35 124.79 L780.96 126.57 L781.54 127.95 L782.11 128.92 L782.71 129.46 L783.34 129.56 L784.01 129.24 L784.7 128.58 L785.38 127.66 L786.03 126.56 L786.64 125.43 L787.22 124.46 L787.79 123.86 L788.35 123.82 L788.91 124.29 L789.49 124.93 L790.1 125.4 L790.74 125.37 L791.41 124.76 L792.1 123.78 L792.77 122.69 L793.43 121.72 L794.06 121.05 L794.65 120.76 L795.21 120.94 L795.74 121.67 L796.25 122.98 L796.75 124.78 L797.24 127.01 L797.76 129.6 L798.31 132.39 L798.89 135.14 L799.5 137.58 L800.15 139.44 L800.82 140.55 L801.51 140.92 L802.19 140.59 L802.84 139.58 L803.45 138.04 L804.04 136.32 L804.61 134.82 L805.19 133.94 L805.77 133.9 L806.37 134.43 L806.96 135.16 L807.54 135.71 L808.1 135.73 L808.63 134.84 L809.11 132.68 L809.56 128.87" stroke="#00ff00" stroke-width="1.4" fill="none" stroke-linejoin="round" />
<path d="M656.82 113.53 L657.64 109.95 L658.34 108.28 L658.95 108.12 L659.52 109.03 L660.06 110.61 L660.61 112.44 L661.2 114.1 L661.86 115.17 L662.61 115.35 L663.45 114.86 L664.32 114.13 L665.2 113.58 L666.07 113.57 L666.91 114.15 L667.75 115.2 L668.58 116.61 L669.41 118.25 L670.25 119.9 L671.1 121.24 L671.94 121.99 L672.78 121.91 L673.62 121.17 L674.47 120.21 L675.31 119.46 L676.15 119.28 L676.99 119.62 L677.83 120.11 L678.67 120.38 L679.51 120.1 L680.35 119.36 L681.19 118.54 L682.04 118.01 L682.88 118.13 L683.72 118.83 L684.56 119.69 L685.4 120.29 L686.24 120.2 L687.08 119.35 L687.92 117.94 L688.77 116.2 L689.61 114.37 L690.45 112.65 L691.29 111.24 L692.13 110.34 L692.97 110.13 L693.81 110.55 L694.66 111.22 L695.5 111.75 L696.34 111.74 L697.18 111.16 L698.02 110.42 L698.86 109.99 L699.7 110.34 L700.54 111.56 L701.39 113.16 L702.23 114.6 L703.07 115.33 L703.91 115.11 L704.75 114.18 L705.59 112.89 L706.43 111.56 L707.28 110.43 L708.12 109.61 L708.96 109.15 L709.8 109.13 L710.64 109.51 L711.48 110.01 L712.32 110.3 L713.16 110.06 L714.01 109.13 L714.86 107.82 L715.7 106.53 L716.53 105.66 L717.35 105.51 L718.17 106 L719.01 107.02 L719.89 108.42 L720.82 110.04 L721.74 111.61 L722.57 112.87 L723.27 113.52 L723.78 113.34 L724.17 112.38 L724.53 110.78 L724.95 108.66 L725.51 106.22 L726.18 103.81 L726.9 101.91 L727.62 100.95 L728.28 101.3 L728.88 102.67 L729.45 104.55 L730 106.38 L730.55 107.7 L731.12 108.37 L731.71 108.44 L732.33 107.95 L732.99 106.95 L733.68 105.55 L734.37 103.9 L735.03 102.15 L735.64 100.45 L736.22 98.98 L736.8 97.93 L737.39 97.48 L738.02 97.8 L738.7 98.66 L739.39 99.56 L740.07 99.98 L740.7 99.45 L741.29 98 L741.87 96.02 L742.45 93.96 L743.06 92.22 L743.71 90.9 L744.38 89.78 L745.08 88.64 L745.79 87.27 L746.5 85.61 L747.19 83.83 L747.84 82.08 L748.42 80.52 L748.97 79.25 L749.52 78.34 L750.13 77.83 L750.85 77.76 L751.69 78.07 L752.58 78.49 L753.44 78.78 L754.21 78.66 L754.85 78.02 L755.41 76.93 L755.95 75.52 L756.52 73.88 L757.15 72.12 L757.83 70.35 L758.53 68.68 L759.24 67.22 L759.94 66.04 L760.63 65.22 L761.29 64.79 L761.92 64.81 L762.52 65.29 L763.11 66.12 L763.68 67.17 L764.27 68.31 L764.87 69.47 L765.48 70.78 L766.07 72.39 L766.62 74.45 L767.14 77.03 L767.64 80 L768.13 83.14 L768.64 86.26 L769.19 89.17 L769.78 91.83 L770.38 94.24 L771 96.38 L771.61 98.21 L772.22 99.56 L772.8 100.22 L773.36 99.98 L773.88 98.75 L774.37 97 L774.87 95.44 L775.38 94.76 L775.92 95.5 L776.5 97.26 L777.1 99.27 L777.72 100.75 L778.34 101.01 L778.95 100.17 L779.54 98.65 L780.09 96.92 L780.61 95.4 L781.09 94.37 L781.58 93.99 L782.1 94.44 L782.68 95.87 L783.3 98.25 L783.92 101.42 L784.48 105.2 L784.95 109.42 L785.34 113.76 L785.72 117.77 L786.16 121.02 L786.7 123.1 L787.36 124.01 L788.07 124.15 L788.78 123.9 L789.43 123.64 L790.03 123.58 L790.59 123.8 L791.17 124.34 L791.79 125.28 L792.46 126.57 L793.15 128.08 L793.83 129.67 L794.48 131.21 L795.08 132.48 L795.65 133.18 L796.23 133 L796.82 131.62 L797.44 129.09 L798.05 125.87 L798.62 122.49 L799.14 119.46 L799.59 117.16 L799.99 115.66 L800.39 115.06 L800.8 115.43 L801.25 116.75 L801.75 118.83 L802.28 121.45 L802.86 124.4 L803.47 127.38 L804.09 129.98 L804.68 131.76 L805.2 132.26 L805.64 131.36 L806.04 129.69 L806.44 128.03 L806.88 127.13 L807.37 127.49 L807.9 128.79 L808.42 130.57 L808.9 132.37 L809.29 133.73 L809.55 134.2 L809.65 133.3 L809.56 130.58" stroke="#0000ff" stroke-width="1.4" fill="none" stroke-linejoin="round" />
<g transform="translate(652.5,40.2)" fill="#1c1c1c" >
<text x="-24.49" y="0" font-size="11.38" textLength="24.49" lengthAdjust="spacingAndGlyphs">0.03</text>
</g>
<g transform="translate(652.5,76)" fill="#1c1c1c" >
<text x="-24.49" y="0" font-size="11.38" textLength="24.49" lengthAdjust="spacingAndGlyphs">0.02</text>
</g>
<g transform="translate(652.5,111.8)" fill="#1c1c1c" >
<text x="-24.49" y="0" font-size="11.38" textLength="24.49" lengthAdjust="spacingAndGlyphs">0.01</text>
</g>
<g transform="translate(648.5,151)" fill="#1c1c1c" >
<text x="-3.5" y="0" font-size="11.38" textLength="7" lengthAdjust="spacingAndGlyphs">0</text>
</g>
<g transform="translate(656,157)" fill="#1c1c1c" >
<text x="-3.5" y="0" font-size="11.38" textLength="7" lengthAdjust="spacingAndGlyphs">0</text>
</g>
<g transform="translate(716,157)" fill="#1c1c1c" >
<text x="-8.75" y="0" font-size="11.38" textLength="17.49" lengthAdjust="spacingAndGlyphs">0.1</text>
</g>
<g transform="translate(776,157)" fill="#1c1c1c" >
<text x="-8.75" y="0" font-size="11.38" textLength="17.49" lengthAdjust="spacingAndGlyphs">0.2</text>
</g>
<g transform="translate(730,169.3)" fill="#1c1c1c" >
<text x="-19.75" y="0" font-size="11.38" textLength="6.37" lengthAdjust="spacingAndGlyphs">k</text>
<text x="-13.38" y="1.87" font-size="7.97" textLength="5.19" lengthAdjust="spacingAndGlyphs">||</text>
<text x="-4.36" y="0" font-size="11.38" textLength="11.82" lengthAdjust="spacingAndGlyphs">[&#197;</text>
<text x="7.45" y="-4.07" font-size="7.97" textLength="7.68" lengthAdjust="spacingAndGlyphs">-1</text>
<text x="15.46" y="0" font-size="11.38" textLength="4.29" lengthAdjust="spacingAndGlyphs">]</text>
</g>
<g transform="translate(623.5,54.5) rotate(-90)" fill="#1c1c1c" >
<text x="-6.76" y="0" font-size="15.84" textLength="10.09" lengthAdjust="spacingAndGlyphs">&#945;</text>
<text x="3.33" y="2.6" font-size="11.08" textLength="2.98" lengthAdjust="spacingAndGlyphs">i</text>
</g>
<g transform="translate(719.5,52.3)" fill="#00ff00" >
<text x="-7.94" y="0" font-size="14.49" textLength="9.23" lengthAdjust="spacingAndGlyphs">&#945;</text>
<text x="1.29" y="2.38" font-size="10.14" textLength="6.24" lengthAdjust="spacingAndGlyphs">1</text>
</g>
<g transform="translate(695.3,104.3)" fill="#0000ff" >
<text x="-7.94" y="0" font-size="14.49" textLength="9.23" lengthAdjust="spacingAndGlyphs">&#945;</text>
<text x="1.29" y="2.38" font-size="10.14" textLength="6.24" lengthAdjust="spacingAndGlyphs">2</text>
</g>
</svg>
</body></html>
